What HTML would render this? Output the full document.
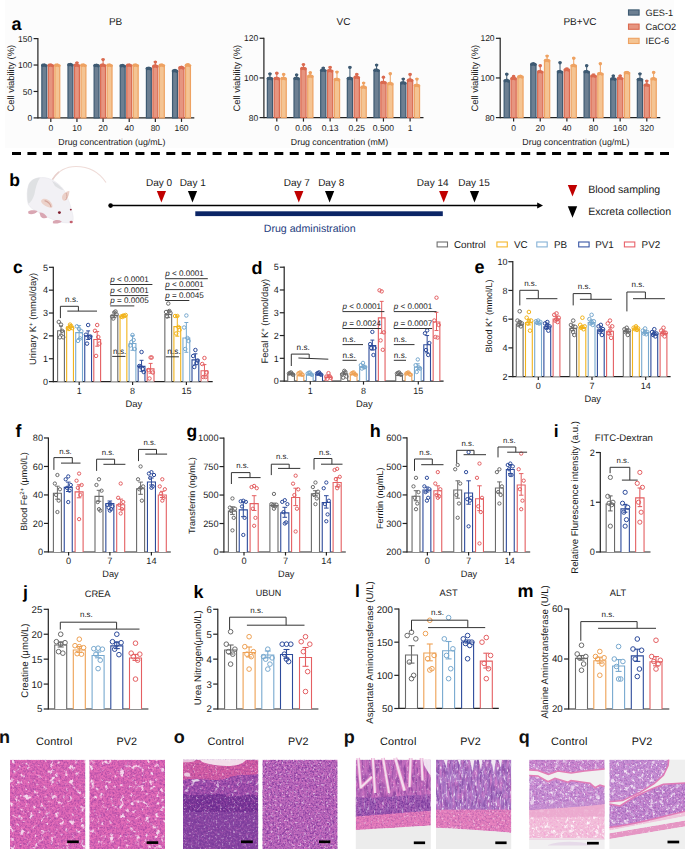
<!DOCTYPE html>
<html><head><meta charset="utf-8"><style>
html,body{margin:0;padding:0;background:#fff;width:685px;height:849px;overflow:hidden}
svg{display:block}
text{font-family:"Liberation Sans",sans-serif;text-rendering:geometricPrecision}
</style></head><body>
<svg width="685" height="849" viewBox="0 0 685 849">
<defs><filter id="tw" x="0" y="0" width="1" height="1" filterUnits="objectBoundingBox" color-interpolation-filters="sRGB"><feTurbulence type="fractalNoise" baseFrequency="0.30" numOctaves="2" seed="3"/><feColorMatrix type="matrix" values="0 0 0 0 1  0 0 0 0 1  0 0 0 0 1  4.0 0 0 0 -2.3"/></filter><filter id="tp" x="0" y="0" width="1" height="1" filterUnits="objectBoundingBox" color-interpolation-filters="sRGB"><feTurbulence type="fractalNoise" baseFrequency="0.38" numOctaves="2" seed="5"/><feColorMatrix type="matrix" values="0 0 0 0 0.42  0 0 0 0 0.16  0 0 0 0 0.58  3.0 0 0 0 -1.35"/></filter><filter id="tk" x="0" y="0" width="1" height="1" filterUnits="objectBoundingBox" color-interpolation-filters="sRGB"><feTurbulence type="fractalNoise" baseFrequency="0.28" numOctaves="2" seed="8"/><feColorMatrix type="matrix" values="0 0 0 0 0.93  0 0 0 0 0.45  0 0 0 0 0.75  3.0 0 0 0 -1.2"/></filter><filter id="tw2" x="0" y="0" width="1" height="1" filterUnits="objectBoundingBox" color-interpolation-filters="sRGB"><feTurbulence type="fractalNoise" baseFrequency="0.22 0.45" numOctaves="2" seed="9"/><feColorMatrix type="matrix" values="0 0 0 0 1  0 0 0 0 1  0 0 0 0 1  4.5 0 0 0 -2.6"/></filter><filter id="tp2" x="0" y="0" width="1" height="1" filterUnits="objectBoundingBox" color-interpolation-filters="sRGB"><feTurbulence type="fractalNoise" baseFrequency="0.42" numOctaves="2" seed="11"/><feColorMatrix type="matrix" values="0 0 0 0 0.42  0 0 0 0 0.15  0 0 0 0 0.58  3.2 0 0 0 -1.3"/></filter><filter id="nw" x="0" y="0" width="1" height="1" filterUnits="objectBoundingBox" color-interpolation-filters="sRGB"><feTurbulence type="fractalNoise" baseFrequency="0.2" numOctaves="3" seed="21"/><feColorMatrix type="matrix" values="0 0 0 0 1  0 0 0 0 1  0 0 0 0 1  6.0 0 0 0 -3.55"/></filter><filter id="np" x="0" y="0" width="1" height="1" filterUnits="objectBoundingBox" color-interpolation-filters="sRGB"><feTurbulence type="fractalNoise" baseFrequency="0.33" numOctaves="2" seed="23"/><feColorMatrix type="matrix" values="0 0 0 0 0.5  0 0 0 0 0.2  0 0 0 0 0.62  3.6 0 0 0 -1.6"/></filter><filter id="fp" x="0" y="0" width="1" height="1" filterUnits="objectBoundingBox" color-interpolation-filters="sRGB"><feTurbulence type="fractalNoise" baseFrequency="0.55" numOctaves="2" seed="31"/><feColorMatrix type="matrix" values="0 0 0 0 0.38  0 0 0 0 0.12  0 0 0 0 0.55  3.4 0 0 0 -1.5"/></filter><filter id="fw" x="0" y="0" width="1" height="1" filterUnits="objectBoundingBox" color-interpolation-filters="sRGB"><feTurbulence type="fractalNoise" baseFrequency="0.45" numOctaves="2" seed="33"/><feColorMatrix type="matrix" values="0 0 0 0 1  0 0 0 0 1  0 0 0 0 1  5.5 0 0 0 -3.3"/></filter><filter id="fk" x="0" y="0" width="1" height="1" filterUnits="objectBoundingBox" color-interpolation-filters="sRGB"><feTurbulence type="fractalNoise" baseFrequency="0.5" numOctaves="2" seed="35"/><feColorMatrix type="matrix" values="0 0 0 0 0.95  0 0 0 0 0.5  0 0 0 0 0.8  3.0 0 0 0 -1.3"/></filter><filter id="vp" x="0" y="0" width="1" height="1" filterUnits="objectBoundingBox" color-interpolation-filters="sRGB"><feTurbulence type="fractalNoise" baseFrequency="0.45 0.12" numOctaves="2" seed="41"/><feColorMatrix type="matrix" values="0 0 0 0 0.36  0 0 0 0 0.12  0 0 0 0 0.52  3.4 0 0 0 -1.5"/></filter><filter id="vk" x="0" y="0" width="1" height="1" filterUnits="objectBoundingBox" color-interpolation-filters="sRGB"><feTurbulence type="fractalNoise" baseFrequency="0.4 0.1" numOctaves="2" seed="43"/><feColorMatrix type="matrix" values="0 0 0 0 0.95  0 0 0 0 0.5  0 0 0 0 0.8  3.0 0 0 0 -1.3"/></filter><filter id="vw" x="0" y="0" width="1" height="1" filterUnits="objectBoundingBox" color-interpolation-filters="sRGB"><feTurbulence type="fractalNoise" baseFrequency="0.5 0.15" numOctaves="2" seed="45"/><feColorMatrix type="matrix" values="0 0 0 0 1  0 0 0 0 1  0 0 0 0 1  5.0 0 0 0 -3.0"/></filter></defs>
<rect x="0" y="0" width="685" height="849" fill="#fff"/><rect x="5" y="0" width="669" height="147.8" fill="#fcfcfc"/>
<text x="11.6" y="29.7" text-anchor="start" fill="#000" style="font-size:18px;font-weight:bold;" >a</text>
<line x1="37.9" y1="38" x2="37.9" y2="118.5" stroke="#222" stroke-width="1.2" />
<line x1="33.6" y1="38.6" x2="37.9" y2="38.6" stroke="#222" stroke-width="1.2" />
<text x="32.3" y="41.66" text-anchor="end" fill="#1a1a1a" style="font-size:8.5px;" >150</text>
<line x1="33.6" y1="65.03" x2="37.9" y2="65.03" stroke="#222" stroke-width="1.2" />
<text x="32.3" y="68.09" text-anchor="end" fill="#1a1a1a" style="font-size:8.5px;" >100</text>
<line x1="33.6" y1="91.47" x2="37.9" y2="91.47" stroke="#222" stroke-width="1.2" />
<text x="32.3" y="94.53" text-anchor="end" fill="#1a1a1a" style="font-size:8.5px;" >50</text>
<line x1="33.6" y1="117.9" x2="37.9" y2="117.9" stroke="#222" stroke-width="1.2" />
<text x="32.3" y="120.96" text-anchor="end" fill="#1a1a1a" style="font-size:8.5px;" >0</text>
<line x1="37.9" y1="117.9" x2="194.3" y2="117.9" stroke="#222" stroke-width="1.2" />
<line x1="50.8" y1="117.9" x2="50.8" y2="121.9" stroke="#222" stroke-width="1.2" />
<text x="50.8" y="131.1" text-anchor="middle" fill="#1a1a1a" style="font-size:8.5px;" >0</text>
<line x1="76.94" y1="117.9" x2="76.94" y2="121.9" stroke="#222" stroke-width="1.2" />
<text x="76.94" y="131.1" text-anchor="middle" fill="#1a1a1a" style="font-size:8.5px;" >10</text>
<line x1="103.08" y1="117.9" x2="103.08" y2="121.9" stroke="#222" stroke-width="1.2" />
<text x="103.08" y="131.1" text-anchor="middle" fill="#1a1a1a" style="font-size:8.5px;" >20</text>
<line x1="129.22" y1="117.9" x2="129.22" y2="121.9" stroke="#222" stroke-width="1.2" />
<text x="129.22" y="131.1" text-anchor="middle" fill="#1a1a1a" style="font-size:8.5px;" >40</text>
<line x1="155.36" y1="117.9" x2="155.36" y2="121.9" stroke="#222" stroke-width="1.2" />
<text x="155.36" y="131.1" text-anchor="middle" fill="#1a1a1a" style="font-size:8.5px;" >80</text>
<line x1="181.5" y1="117.9" x2="181.5" y2="121.9" stroke="#222" stroke-width="1.2" />
<text x="181.5" y="131.1" text-anchor="middle" fill="#1a1a1a" style="font-size:8.5px;" >160</text>
<rect x="41.85" y="65.6" width="4.9" height="52.3" fill="#6c7f92" stroke="#3e5a72" stroke-width="1.2" />
<circle cx="42.7" cy="65.3" r="1.7" fill="#3e5a72" stroke="none" stroke-width="1"/>
<circle cx="45.9" cy="65.6" r="1.7" fill="#3e5a72" stroke="none" stroke-width="1"/>
<circle cx="44.3" cy="64.9" r="1.7" fill="#3e5a72" stroke="none" stroke-width="1"/>
<rect x="48.35" y="65.6" width="4.9" height="52.3" fill="#e69580" stroke="#da6a50" stroke-width="1.2" />
<circle cx="49.2" cy="65.3" r="1.7" fill="#da6a50" stroke="none" stroke-width="1"/>
<circle cx="52.4" cy="65.6" r="1.7" fill="#da6a50" stroke="none" stroke-width="1"/>
<circle cx="50.8" cy="64.9" r="1.7" fill="#da6a50" stroke="none" stroke-width="1"/>
<rect x="54.85" y="65.6" width="4.9" height="52.3" fill="#f4c493" stroke="#eea262" stroke-width="1.2" />
<circle cx="55.7" cy="65.3" r="1.7" fill="#eea262" stroke="none" stroke-width="1"/>
<circle cx="58.9" cy="65.6" r="1.7" fill="#eea262" stroke="none" stroke-width="1"/>
<circle cx="57.3" cy="64.9" r="1.7" fill="#eea262" stroke="none" stroke-width="1"/>
<rect x="67.99" y="65.1" width="4.9" height="52.8" fill="#6c7f92" stroke="#3e5a72" stroke-width="1.2" />
<line x1="70.44" y1="63.9" x2="70.44" y2="64.5" stroke="#3e5a72" stroke-width="1" />
<line x1="68.84" y1="63.9" x2="72.04" y2="63.9" stroke="#3e5a72" stroke-width="1" />
<circle cx="68.84" cy="64.8" r="1.7" fill="#3e5a72" stroke="none" stroke-width="1"/>
<circle cx="72.04" cy="65.1" r="1.7" fill="#3e5a72" stroke="none" stroke-width="1"/>
<circle cx="70.44" cy="64.4" r="1.7" fill="#3e5a72" stroke="none" stroke-width="1"/>
<rect x="74.49" y="65.6" width="4.9" height="52.3" fill="#e69580" stroke="#da6a50" stroke-width="1.2" />
<line x1="76.94" y1="62.5" x2="76.94" y2="65" stroke="#da6a50" stroke-width="1" />
<line x1="75.34" y1="62.5" x2="78.54" y2="62.5" stroke="#da6a50" stroke-width="1" />
<circle cx="75.34" cy="65.3" r="1.7" fill="#da6a50" stroke="none" stroke-width="1"/>
<circle cx="78.54" cy="65.6" r="1.7" fill="#da6a50" stroke="none" stroke-width="1"/>
<circle cx="76.94" cy="64.9" r="1.7" fill="#da6a50" stroke="none" stroke-width="1"/>
<circle cx="76.94" cy="62.9" r="1.7" fill="#da6a50" stroke="none" stroke-width="1"/>
<rect x="80.99" y="65.6" width="4.9" height="52.3" fill="#f4c493" stroke="#eea262" stroke-width="1.2" />
<line x1="83.44" y1="64.4" x2="83.44" y2="65" stroke="#eea262" stroke-width="1" />
<line x1="81.84" y1="64.4" x2="85.04" y2="64.4" stroke="#eea262" stroke-width="1" />
<circle cx="81.84" cy="65.3" r="1.7" fill="#eea262" stroke="none" stroke-width="1"/>
<circle cx="85.04" cy="65.6" r="1.7" fill="#eea262" stroke="none" stroke-width="1"/>
<circle cx="83.44" cy="64.9" r="1.7" fill="#eea262" stroke="none" stroke-width="1"/>
<rect x="94.13" y="65.8" width="4.9" height="52.1" fill="#6c7f92" stroke="#3e5a72" stroke-width="1.2" />
<circle cx="94.98" cy="65.5" r="1.7" fill="#3e5a72" stroke="none" stroke-width="1"/>
<circle cx="98.18" cy="65.8" r="1.7" fill="#3e5a72" stroke="none" stroke-width="1"/>
<circle cx="96.58" cy="65.1" r="1.7" fill="#3e5a72" stroke="none" stroke-width="1"/>
<rect x="100.63" y="65.6" width="4.9" height="52.3" fill="#e69580" stroke="#da6a50" stroke-width="1.2" />
<line x1="103.08" y1="59.2" x2="103.08" y2="65" stroke="#da6a50" stroke-width="1" />
<line x1="101.48" y1="59.2" x2="104.68" y2="59.2" stroke="#da6a50" stroke-width="1" />
<circle cx="101.48" cy="65.3" r="1.7" fill="#da6a50" stroke="none" stroke-width="1"/>
<circle cx="104.68" cy="65.6" r="1.7" fill="#da6a50" stroke="none" stroke-width="1"/>
<circle cx="103.08" cy="64.9" r="1.7" fill="#da6a50" stroke="none" stroke-width="1"/>
<circle cx="103.08" cy="59.6" r="1.7" fill="#da6a50" stroke="none" stroke-width="1"/>
<rect x="107.13" y="65.6" width="4.9" height="52.3" fill="#f4c493" stroke="#eea262" stroke-width="1.2" />
<circle cx="107.98" cy="65.3" r="1.7" fill="#eea262" stroke="none" stroke-width="1"/>
<circle cx="111.18" cy="65.6" r="1.7" fill="#eea262" stroke="none" stroke-width="1"/>
<circle cx="109.58" cy="64.9" r="1.7" fill="#eea262" stroke="none" stroke-width="1"/>
<rect x="120.27" y="66.1" width="4.9" height="51.8" fill="#6c7f92" stroke="#3e5a72" stroke-width="1.2" />
<circle cx="121.12" cy="65.8" r="1.7" fill="#3e5a72" stroke="none" stroke-width="1"/>
<circle cx="124.32" cy="66.1" r="1.7" fill="#3e5a72" stroke="none" stroke-width="1"/>
<circle cx="122.72" cy="65.4" r="1.7" fill="#3e5a72" stroke="none" stroke-width="1"/>
<rect x="126.77" y="65.6" width="4.9" height="52.3" fill="#e69580" stroke="#da6a50" stroke-width="1.2" />
<circle cx="127.62" cy="65.3" r="1.7" fill="#da6a50" stroke="none" stroke-width="1"/>
<circle cx="130.82" cy="65.6" r="1.7" fill="#da6a50" stroke="none" stroke-width="1"/>
<circle cx="129.22" cy="64.9" r="1.7" fill="#da6a50" stroke="none" stroke-width="1"/>
<rect x="133.27" y="65.6" width="4.9" height="52.3" fill="#f4c493" stroke="#eea262" stroke-width="1.2" />
<circle cx="134.12" cy="65.3" r="1.7" fill="#eea262" stroke="none" stroke-width="1"/>
<circle cx="137.32" cy="65.6" r="1.7" fill="#eea262" stroke="none" stroke-width="1"/>
<circle cx="135.72" cy="64.9" r="1.7" fill="#eea262" stroke="none" stroke-width="1"/>
<rect x="146.41" y="68.8" width="4.9" height="49.1" fill="#6c7f92" stroke="#3e5a72" stroke-width="1.2" />
<line x1="148.86" y1="67.5" x2="148.86" y2="68.2" stroke="#3e5a72" stroke-width="1" />
<line x1="147.26" y1="67.5" x2="150.46" y2="67.5" stroke="#3e5a72" stroke-width="1" />
<circle cx="147.26" cy="68.5" r="1.7" fill="#3e5a72" stroke="none" stroke-width="1"/>
<circle cx="150.46" cy="68.8" r="1.7" fill="#3e5a72" stroke="none" stroke-width="1"/>
<circle cx="148.86" cy="68.1" r="1.7" fill="#3e5a72" stroke="none" stroke-width="1"/>
<rect x="152.91" y="66.5" width="4.9" height="51.4" fill="#e69580" stroke="#da6a50" stroke-width="1.2" />
<line x1="155.36" y1="61.7" x2="155.36" y2="65.9" stroke="#da6a50" stroke-width="1" />
<line x1="153.76" y1="61.7" x2="156.96" y2="61.7" stroke="#da6a50" stroke-width="1" />
<circle cx="153.76" cy="66.2" r="1.7" fill="#da6a50" stroke="none" stroke-width="1"/>
<circle cx="156.96" cy="66.5" r="1.7" fill="#da6a50" stroke="none" stroke-width="1"/>
<circle cx="155.36" cy="65.8" r="1.7" fill="#da6a50" stroke="none" stroke-width="1"/>
<circle cx="155.36" cy="62.1" r="1.7" fill="#da6a50" stroke="none" stroke-width="1"/>
<rect x="159.41" y="65.6" width="4.9" height="52.3" fill="#f4c493" stroke="#eea262" stroke-width="1.2" />
<circle cx="160.26" cy="65.3" r="1.7" fill="#eea262" stroke="none" stroke-width="1"/>
<circle cx="163.46" cy="65.6" r="1.7" fill="#eea262" stroke="none" stroke-width="1"/>
<circle cx="161.86" cy="64.9" r="1.7" fill="#eea262" stroke="none" stroke-width="1"/>
<rect x="172.55" y="71.2" width="4.9" height="46.7" fill="#6c7f92" stroke="#3e5a72" stroke-width="1.2" />
<line x1="175" y1="69.8" x2="175" y2="70.6" stroke="#3e5a72" stroke-width="1" />
<line x1="173.4" y1="69.8" x2="176.6" y2="69.8" stroke="#3e5a72" stroke-width="1" />
<circle cx="173.4" cy="70.9" r="1.7" fill="#3e5a72" stroke="none" stroke-width="1"/>
<circle cx="176.6" cy="71.2" r="1.7" fill="#3e5a72" stroke="none" stroke-width="1"/>
<circle cx="175" cy="70.5" r="1.7" fill="#3e5a72" stroke="none" stroke-width="1"/>
<rect x="179.05" y="68" width="4.9" height="49.9" fill="#e69580" stroke="#da6a50" stroke-width="1.2" />
<line x1="181.5" y1="66.5" x2="181.5" y2="67.4" stroke="#da6a50" stroke-width="1" />
<line x1="179.9" y1="66.5" x2="183.1" y2="66.5" stroke="#da6a50" stroke-width="1" />
<circle cx="179.9" cy="67.7" r="1.7" fill="#da6a50" stroke="none" stroke-width="1"/>
<circle cx="183.1" cy="68" r="1.7" fill="#da6a50" stroke="none" stroke-width="1"/>
<circle cx="181.5" cy="67.3" r="1.7" fill="#da6a50" stroke="none" stroke-width="1"/>
<rect x="185.55" y="65.6" width="4.9" height="52.3" fill="#f4c493" stroke="#eea262" stroke-width="1.2" />
<line x1="188" y1="63.8" x2="188" y2="65" stroke="#eea262" stroke-width="1" />
<line x1="186.4" y1="63.8" x2="189.6" y2="63.8" stroke="#eea262" stroke-width="1" />
<circle cx="186.4" cy="65.3" r="1.7" fill="#eea262" stroke="none" stroke-width="1"/>
<circle cx="189.6" cy="65.6" r="1.7" fill="#eea262" stroke="none" stroke-width="1"/>
<circle cx="188" cy="64.9" r="1.7" fill="#eea262" stroke="none" stroke-width="1"/>
<text x="115.6" y="24.7" text-anchor="middle" fill="#1a1a1a" style="font-size:10px;" >PB</text>
<text x="111.9" y="144.6" text-anchor="middle" fill="#1a1a1a" style="font-size:8.8px;" >Drug concentration (ug/mL)</text>
<text transform="translate(14.3,78.2) rotate(-90)" text-anchor="middle" fill="#1a1a1a" style="font-size:9.4px;" >Cell viability (%)</text>
<line x1="263.9" y1="37.7" x2="263.9" y2="118.2" stroke="#222" stroke-width="1.2" />
<line x1="259.6" y1="38.3" x2="263.9" y2="38.3" stroke="#222" stroke-width="1.2" />
<text x="258.3" y="41.36" text-anchor="end" fill="#1a1a1a" style="font-size:8.5px;" >120</text>
<line x1="259.6" y1="77.95" x2="263.9" y2="77.95" stroke="#222" stroke-width="1.2" />
<text x="258.3" y="81.01" text-anchor="end" fill="#1a1a1a" style="font-size:8.5px;" >100</text>
<line x1="259.6" y1="117.6" x2="263.9" y2="117.6" stroke="#222" stroke-width="1.2" />
<text x="258.3" y="120.66" text-anchor="end" fill="#1a1a1a" style="font-size:8.5px;" >80</text>
<line x1="263.9" y1="117.6" x2="423.5" y2="117.6" stroke="#222" stroke-width="1.2" />
<line x1="276.8" y1="117.6" x2="276.8" y2="121.6" stroke="#222" stroke-width="1.2" />
<text x="276.8" y="130.8" text-anchor="middle" fill="#1a1a1a" style="font-size:8.5px;" >0</text>
<line x1="303.46" y1="117.6" x2="303.46" y2="121.6" stroke="#222" stroke-width="1.2" />
<text x="303.46" y="130.8" text-anchor="middle" fill="#1a1a1a" style="font-size:8.5px;" >0.06</text>
<line x1="330.12" y1="117.6" x2="330.12" y2="121.6" stroke="#222" stroke-width="1.2" />
<text x="330.12" y="130.8" text-anchor="middle" fill="#1a1a1a" style="font-size:8.5px;" >0.13</text>
<line x1="356.78" y1="117.6" x2="356.78" y2="121.6" stroke="#222" stroke-width="1.2" />
<text x="356.78" y="130.8" text-anchor="middle" fill="#1a1a1a" style="font-size:8.5px;" >0.25</text>
<line x1="383.44" y1="117.6" x2="383.44" y2="121.6" stroke="#222" stroke-width="1.2" />
<text x="383.44" y="130.8" text-anchor="middle" fill="#1a1a1a" style="font-size:8.5px;" >0.500</text>
<line x1="410.1" y1="117.6" x2="410.1" y2="121.6" stroke="#222" stroke-width="1.2" />
<text x="410.1" y="130.8" text-anchor="middle" fill="#1a1a1a" style="font-size:8.5px;" >1</text>
<rect x="267.35" y="78.8" width="5.2" height="38.8" fill="#6c7f92" stroke="#3e5a72" stroke-width="1.2" />
<line x1="269.95" y1="73.6" x2="269.95" y2="78.2" stroke="#3e5a72" stroke-width="1" />
<line x1="268.35" y1="73.6" x2="271.55" y2="73.6" stroke="#3e5a72" stroke-width="1" />
<circle cx="268.35" cy="78.5" r="1.7" fill="#3e5a72" stroke="none" stroke-width="1"/>
<circle cx="271.55" cy="78.8" r="1.7" fill="#3e5a72" stroke="none" stroke-width="1"/>
<circle cx="269.95" cy="78.1" r="1.7" fill="#3e5a72" stroke="none" stroke-width="1"/>
<circle cx="269.95" cy="74" r="1.7" fill="#3e5a72" stroke="none" stroke-width="1"/>
<rect x="274.2" y="78.8" width="5.2" height="38.8" fill="#e69580" stroke="#da6a50" stroke-width="1.2" />
<line x1="276.8" y1="72.9" x2="276.8" y2="78.2" stroke="#da6a50" stroke-width="1" />
<line x1="275.2" y1="72.9" x2="278.4" y2="72.9" stroke="#da6a50" stroke-width="1" />
<circle cx="275.2" cy="78.5" r="1.7" fill="#da6a50" stroke="none" stroke-width="1"/>
<circle cx="278.4" cy="78.8" r="1.7" fill="#da6a50" stroke="none" stroke-width="1"/>
<circle cx="276.8" cy="78.1" r="1.7" fill="#da6a50" stroke="none" stroke-width="1"/>
<circle cx="276.8" cy="73.3" r="1.7" fill="#da6a50" stroke="none" stroke-width="1"/>
<rect x="281.05" y="78.8" width="5.2" height="38.8" fill="#f4c493" stroke="#eea262" stroke-width="1.2" />
<line x1="283.65" y1="74" x2="283.65" y2="78.2" stroke="#eea262" stroke-width="1" />
<line x1="282.05" y1="74" x2="285.25" y2="74" stroke="#eea262" stroke-width="1" />
<circle cx="282.05" cy="78.5" r="1.7" fill="#eea262" stroke="none" stroke-width="1"/>
<circle cx="285.25" cy="78.8" r="1.7" fill="#eea262" stroke="none" stroke-width="1"/>
<circle cx="283.65" cy="78.1" r="1.7" fill="#eea262" stroke="none" stroke-width="1"/>
<circle cx="283.65" cy="74.4" r="1.7" fill="#eea262" stroke="none" stroke-width="1"/>
<rect x="294.01" y="78.8" width="5.2" height="38.8" fill="#6c7f92" stroke="#3e5a72" stroke-width="1.2" />
<line x1="296.61" y1="74.5" x2="296.61" y2="78.2" stroke="#3e5a72" stroke-width="1" />
<line x1="295.01" y1="74.5" x2="298.21" y2="74.5" stroke="#3e5a72" stroke-width="1" />
<circle cx="295.01" cy="78.5" r="1.7" fill="#3e5a72" stroke="none" stroke-width="1"/>
<circle cx="298.21" cy="78.8" r="1.7" fill="#3e5a72" stroke="none" stroke-width="1"/>
<circle cx="296.61" cy="78.1" r="1.7" fill="#3e5a72" stroke="none" stroke-width="1"/>
<circle cx="296.61" cy="74.9" r="1.7" fill="#3e5a72" stroke="none" stroke-width="1"/>
<rect x="300.86" y="68.8" width="5.2" height="48.8" fill="#e69580" stroke="#da6a50" stroke-width="1.2" />
<line x1="303.46" y1="64.2" x2="303.46" y2="68.2" stroke="#da6a50" stroke-width="1" />
<line x1="301.86" y1="64.2" x2="305.06" y2="64.2" stroke="#da6a50" stroke-width="1" />
<circle cx="301.86" cy="68.5" r="1.7" fill="#da6a50" stroke="none" stroke-width="1"/>
<circle cx="305.06" cy="68.8" r="1.7" fill="#da6a50" stroke="none" stroke-width="1"/>
<circle cx="303.46" cy="68.1" r="1.7" fill="#da6a50" stroke="none" stroke-width="1"/>
<circle cx="303.46" cy="64.6" r="1.7" fill="#da6a50" stroke="none" stroke-width="1"/>
<rect x="307.71" y="76.5" width="5.2" height="41.1" fill="#f4c493" stroke="#eea262" stroke-width="1.2" />
<line x1="310.31" y1="72.4" x2="310.31" y2="75.9" stroke="#eea262" stroke-width="1" />
<line x1="308.71" y1="72.4" x2="311.91" y2="72.4" stroke="#eea262" stroke-width="1" />
<circle cx="308.71" cy="76.2" r="1.7" fill="#eea262" stroke="none" stroke-width="1"/>
<circle cx="311.91" cy="76.5" r="1.7" fill="#eea262" stroke="none" stroke-width="1"/>
<circle cx="310.31" cy="75.8" r="1.7" fill="#eea262" stroke="none" stroke-width="1"/>
<circle cx="310.31" cy="72.8" r="1.7" fill="#eea262" stroke="none" stroke-width="1"/>
<rect x="320.67" y="70.6" width="5.2" height="47" fill="#6c7f92" stroke="#3e5a72" stroke-width="1.2" />
<line x1="323.27" y1="67.7" x2="323.27" y2="70" stroke="#3e5a72" stroke-width="1" />
<line x1="321.67" y1="67.7" x2="324.87" y2="67.7" stroke="#3e5a72" stroke-width="1" />
<circle cx="321.67" cy="70.3" r="1.7" fill="#3e5a72" stroke="none" stroke-width="1"/>
<circle cx="324.87" cy="70.6" r="1.7" fill="#3e5a72" stroke="none" stroke-width="1"/>
<circle cx="323.27" cy="69.9" r="1.7" fill="#3e5a72" stroke="none" stroke-width="1"/>
<circle cx="323.27" cy="68.1" r="1.7" fill="#3e5a72" stroke="none" stroke-width="1"/>
<rect x="327.52" y="71.1" width="5.2" height="46.5" fill="#e69580" stroke="#da6a50" stroke-width="1.2" />
<line x1="330.12" y1="67" x2="330.12" y2="70.5" stroke="#da6a50" stroke-width="1" />
<line x1="328.52" y1="67" x2="331.72" y2="67" stroke="#da6a50" stroke-width="1" />
<circle cx="328.52" cy="70.8" r="1.7" fill="#da6a50" stroke="none" stroke-width="1"/>
<circle cx="331.72" cy="71.1" r="1.7" fill="#da6a50" stroke="none" stroke-width="1"/>
<circle cx="330.12" cy="70.4" r="1.7" fill="#da6a50" stroke="none" stroke-width="1"/>
<circle cx="330.12" cy="67.4" r="1.7" fill="#da6a50" stroke="none" stroke-width="1"/>
<rect x="334.37" y="79.8" width="5.2" height="37.8" fill="#f4c493" stroke="#eea262" stroke-width="1.2" />
<line x1="336.97" y1="71.7" x2="336.97" y2="79.2" stroke="#eea262" stroke-width="1" />
<line x1="335.37" y1="71.7" x2="338.57" y2="71.7" stroke="#eea262" stroke-width="1" />
<circle cx="335.37" cy="79.5" r="1.7" fill="#eea262" stroke="none" stroke-width="1"/>
<circle cx="338.57" cy="79.8" r="1.7" fill="#eea262" stroke="none" stroke-width="1"/>
<circle cx="336.97" cy="79.1" r="1.7" fill="#eea262" stroke="none" stroke-width="1"/>
<circle cx="336.97" cy="72.1" r="1.7" fill="#eea262" stroke="none" stroke-width="1"/>
<rect x="347.33" y="78.8" width="5.2" height="38.8" fill="#6c7f92" stroke="#3e5a72" stroke-width="1.2" />
<line x1="349.93" y1="67" x2="349.93" y2="78.2" stroke="#3e5a72" stroke-width="1" />
<line x1="348.33" y1="67" x2="351.53" y2="67" stroke="#3e5a72" stroke-width="1" />
<circle cx="348.33" cy="78.5" r="1.7" fill="#3e5a72" stroke="none" stroke-width="1"/>
<circle cx="351.53" cy="78.8" r="1.7" fill="#3e5a72" stroke="none" stroke-width="1"/>
<circle cx="349.93" cy="78.1" r="1.7" fill="#3e5a72" stroke="none" stroke-width="1"/>
<circle cx="349.93" cy="67.4" r="1.7" fill="#3e5a72" stroke="none" stroke-width="1"/>
<rect x="354.18" y="77.6" width="5.2" height="40" fill="#e69580" stroke="#da6a50" stroke-width="1.2" />
<line x1="356.78" y1="74" x2="356.78" y2="77" stroke="#da6a50" stroke-width="1" />
<line x1="355.18" y1="74" x2="358.38" y2="74" stroke="#da6a50" stroke-width="1" />
<circle cx="355.18" cy="77.3" r="1.7" fill="#da6a50" stroke="none" stroke-width="1"/>
<circle cx="358.38" cy="77.6" r="1.7" fill="#da6a50" stroke="none" stroke-width="1"/>
<circle cx="356.78" cy="76.9" r="1.7" fill="#da6a50" stroke="none" stroke-width="1"/>
<circle cx="356.78" cy="74.4" r="1.7" fill="#da6a50" stroke="none" stroke-width="1"/>
<rect x="361.03" y="87.5" width="5.2" height="30.1" fill="#f4c493" stroke="#eea262" stroke-width="1.2" />
<line x1="363.63" y1="82.7" x2="363.63" y2="86.9" stroke="#eea262" stroke-width="1" />
<line x1="362.03" y1="82.7" x2="365.23" y2="82.7" stroke="#eea262" stroke-width="1" />
<circle cx="362.03" cy="87.2" r="1.7" fill="#eea262" stroke="none" stroke-width="1"/>
<circle cx="365.23" cy="87.5" r="1.7" fill="#eea262" stroke="none" stroke-width="1"/>
<circle cx="363.63" cy="86.8" r="1.7" fill="#eea262" stroke="none" stroke-width="1"/>
<circle cx="363.63" cy="83.1" r="1.7" fill="#eea262" stroke="none" stroke-width="1"/>
<rect x="373.99" y="70.6" width="5.2" height="47" fill="#6c7f92" stroke="#3e5a72" stroke-width="1.2" />
<line x1="376.59" y1="64.7" x2="376.59" y2="70" stroke="#3e5a72" stroke-width="1" />
<line x1="374.99" y1="64.7" x2="378.19" y2="64.7" stroke="#3e5a72" stroke-width="1" />
<circle cx="374.99" cy="70.3" r="1.7" fill="#3e5a72" stroke="none" stroke-width="1"/>
<circle cx="378.19" cy="70.6" r="1.7" fill="#3e5a72" stroke="none" stroke-width="1"/>
<circle cx="376.59" cy="69.9" r="1.7" fill="#3e5a72" stroke="none" stroke-width="1"/>
<circle cx="376.59" cy="65.1" r="1.7" fill="#3e5a72" stroke="none" stroke-width="1"/>
<rect x="380.84" y="82.8" width="5.2" height="34.8" fill="#e69580" stroke="#da6a50" stroke-width="1.2" />
<line x1="383.44" y1="76.8" x2="383.44" y2="82.2" stroke="#da6a50" stroke-width="1" />
<line x1="381.84" y1="76.8" x2="385.04" y2="76.8" stroke="#da6a50" stroke-width="1" />
<circle cx="381.84" cy="82.5" r="1.7" fill="#da6a50" stroke="none" stroke-width="1"/>
<circle cx="385.04" cy="82.8" r="1.7" fill="#da6a50" stroke="none" stroke-width="1"/>
<circle cx="383.44" cy="82.1" r="1.7" fill="#da6a50" stroke="none" stroke-width="1"/>
<circle cx="383.44" cy="77.2" r="1.7" fill="#da6a50" stroke="none" stroke-width="1"/>
<rect x="387.69" y="84" width="5.2" height="33.6" fill="#f4c493" stroke="#eea262" stroke-width="1.2" />
<line x1="390.29" y1="73.3" x2="390.29" y2="83.4" stroke="#eea262" stroke-width="1" />
<line x1="388.69" y1="73.3" x2="391.89" y2="73.3" stroke="#eea262" stroke-width="1" />
<circle cx="388.69" cy="83.7" r="1.7" fill="#eea262" stroke="none" stroke-width="1"/>
<circle cx="391.89" cy="84" r="1.7" fill="#eea262" stroke="none" stroke-width="1"/>
<circle cx="390.29" cy="83.3" r="1.7" fill="#eea262" stroke="none" stroke-width="1"/>
<circle cx="390.29" cy="73.7" r="1.7" fill="#eea262" stroke="none" stroke-width="1"/>
<rect x="400.65" y="83.3" width="5.2" height="34.3" fill="#6c7f92" stroke="#3e5a72" stroke-width="1.2" />
<line x1="403.25" y1="78.7" x2="403.25" y2="82.7" stroke="#3e5a72" stroke-width="1" />
<line x1="401.65" y1="78.7" x2="404.85" y2="78.7" stroke="#3e5a72" stroke-width="1" />
<circle cx="401.65" cy="83" r="1.7" fill="#3e5a72" stroke="none" stroke-width="1"/>
<circle cx="404.85" cy="83.3" r="1.7" fill="#3e5a72" stroke="none" stroke-width="1"/>
<circle cx="403.25" cy="82.6" r="1.7" fill="#3e5a72" stroke="none" stroke-width="1"/>
<circle cx="403.25" cy="79.1" r="1.7" fill="#3e5a72" stroke="none" stroke-width="1"/>
<rect x="407.5" y="80.5" width="5.2" height="37.1" fill="#e69580" stroke="#da6a50" stroke-width="1.2" />
<line x1="410.1" y1="74" x2="410.1" y2="79.9" stroke="#da6a50" stroke-width="1" />
<line x1="408.5" y1="74" x2="411.7" y2="74" stroke="#da6a50" stroke-width="1" />
<circle cx="408.5" cy="80.2" r="1.7" fill="#da6a50" stroke="none" stroke-width="1"/>
<circle cx="411.7" cy="80.5" r="1.7" fill="#da6a50" stroke="none" stroke-width="1"/>
<circle cx="410.1" cy="79.8" r="1.7" fill="#da6a50" stroke="none" stroke-width="1"/>
<circle cx="410.1" cy="74.4" r="1.7" fill="#da6a50" stroke="none" stroke-width="1"/>
<rect x="414.35" y="85.8" width="5.2" height="31.8" fill="#f4c493" stroke="#eea262" stroke-width="1.2" />
<line x1="416.95" y1="78.7" x2="416.95" y2="85.2" stroke="#eea262" stroke-width="1" />
<line x1="415.35" y1="78.7" x2="418.55" y2="78.7" stroke="#eea262" stroke-width="1" />
<circle cx="415.35" cy="85.5" r="1.7" fill="#eea262" stroke="none" stroke-width="1"/>
<circle cx="418.55" cy="85.8" r="1.7" fill="#eea262" stroke="none" stroke-width="1"/>
<circle cx="416.95" cy="85.1" r="1.7" fill="#eea262" stroke="none" stroke-width="1"/>
<circle cx="416.95" cy="79.1" r="1.7" fill="#eea262" stroke="none" stroke-width="1"/>
<text x="343.5" y="24.7" text-anchor="middle" fill="#1a1a1a" style="font-size:10px;" >VC</text>
<text x="339.5" y="144.6" text-anchor="middle" fill="#1a1a1a" style="font-size:8.8px;" >Drug concentration (mM)</text>
<text transform="translate(240.2,78.2) rotate(-90)" text-anchor="middle" fill="#1a1a1a" style="font-size:9.4px;" >Cell viability (%)</text>
<line x1="500.2" y1="37.7" x2="500.2" y2="118.2" stroke="#222" stroke-width="1.2" />
<line x1="495.9" y1="38.3" x2="500.2" y2="38.3" stroke="#222" stroke-width="1.2" />
<text x="494.6" y="41.36" text-anchor="end" fill="#1a1a1a" style="font-size:8.5px;" >120</text>
<line x1="495.9" y1="77.95" x2="500.2" y2="77.95" stroke="#222" stroke-width="1.2" />
<text x="494.6" y="81.01" text-anchor="end" fill="#1a1a1a" style="font-size:8.5px;" >100</text>
<line x1="495.9" y1="117.6" x2="500.2" y2="117.6" stroke="#222" stroke-width="1.2" />
<text x="494.6" y="120.66" text-anchor="end" fill="#1a1a1a" style="font-size:8.5px;" >80</text>
<line x1="500.2" y1="117.6" x2="660.3" y2="117.6" stroke="#222" stroke-width="1.2" />
<line x1="513.6" y1="117.6" x2="513.6" y2="121.6" stroke="#222" stroke-width="1.2" />
<text x="513.6" y="130.8" text-anchor="middle" fill="#1a1a1a" style="font-size:8.5px;" >0</text>
<line x1="540.24" y1="117.6" x2="540.24" y2="121.6" stroke="#222" stroke-width="1.2" />
<text x="540.24" y="130.8" text-anchor="middle" fill="#1a1a1a" style="font-size:8.5px;" >20</text>
<line x1="566.88" y1="117.6" x2="566.88" y2="121.6" stroke="#222" stroke-width="1.2" />
<text x="566.88" y="130.8" text-anchor="middle" fill="#1a1a1a" style="font-size:8.5px;" >40</text>
<line x1="593.52" y1="117.6" x2="593.52" y2="121.6" stroke="#222" stroke-width="1.2" />
<text x="593.52" y="130.8" text-anchor="middle" fill="#1a1a1a" style="font-size:8.5px;" >80</text>
<line x1="620.16" y1="117.6" x2="620.16" y2="121.6" stroke="#222" stroke-width="1.2" />
<text x="620.16" y="130.8" text-anchor="middle" fill="#1a1a1a" style="font-size:8.5px;" >160</text>
<line x1="646.8" y1="117.6" x2="646.8" y2="121.6" stroke="#222" stroke-width="1.2" />
<text x="646.8" y="130.8" text-anchor="middle" fill="#1a1a1a" style="font-size:8.5px;" >320</text>
<rect x="504.15" y="81" width="5.2" height="36.6" fill="#6c7f92" stroke="#3e5a72" stroke-width="1.2" />
<line x1="506.75" y1="73.8" x2="506.75" y2="80.4" stroke="#3e5a72" stroke-width="1" />
<line x1="505.15" y1="73.8" x2="508.35" y2="73.8" stroke="#3e5a72" stroke-width="1" />
<circle cx="505.15" cy="80.7" r="1.7" fill="#3e5a72" stroke="none" stroke-width="1"/>
<circle cx="508.35" cy="81" r="1.7" fill="#3e5a72" stroke="none" stroke-width="1"/>
<circle cx="506.75" cy="80.3" r="1.7" fill="#3e5a72" stroke="none" stroke-width="1"/>
<circle cx="506.75" cy="74.2" r="1.7" fill="#3e5a72" stroke="none" stroke-width="1"/>
<rect x="511" y="78.8" width="5.2" height="38.8" fill="#e69580" stroke="#da6a50" stroke-width="1.2" />
<line x1="513.6" y1="76" x2="513.6" y2="78.2" stroke="#da6a50" stroke-width="1" />
<line x1="512" y1="76" x2="515.2" y2="76" stroke="#da6a50" stroke-width="1" />
<circle cx="512" cy="78.5" r="1.7" fill="#da6a50" stroke="none" stroke-width="1"/>
<circle cx="515.2" cy="78.8" r="1.7" fill="#da6a50" stroke="none" stroke-width="1"/>
<circle cx="513.6" cy="78.1" r="1.7" fill="#da6a50" stroke="none" stroke-width="1"/>
<circle cx="513.6" cy="76.4" r="1.7" fill="#da6a50" stroke="none" stroke-width="1"/>
<rect x="517.85" y="77" width="5.2" height="40.6" fill="#f4c493" stroke="#eea262" stroke-width="1.2" />
<line x1="520.45" y1="75.5" x2="520.45" y2="76.4" stroke="#eea262" stroke-width="1" />
<line x1="518.85" y1="75.5" x2="522.05" y2="75.5" stroke="#eea262" stroke-width="1" />
<circle cx="518.85" cy="76.7" r="1.7" fill="#eea262" stroke="none" stroke-width="1"/>
<circle cx="522.05" cy="77" r="1.7" fill="#eea262" stroke="none" stroke-width="1"/>
<circle cx="520.45" cy="76.3" r="1.7" fill="#eea262" stroke="none" stroke-width="1"/>
<rect x="530.79" y="64.5" width="5.2" height="53.1" fill="#6c7f92" stroke="#3e5a72" stroke-width="1.2" />
<line x1="533.39" y1="63.3" x2="533.39" y2="63.9" stroke="#3e5a72" stroke-width="1" />
<line x1="531.79" y1="63.3" x2="534.99" y2="63.3" stroke="#3e5a72" stroke-width="1" />
<circle cx="531.79" cy="64.2" r="1.7" fill="#3e5a72" stroke="none" stroke-width="1"/>
<circle cx="534.99" cy="64.5" r="1.7" fill="#3e5a72" stroke="none" stroke-width="1"/>
<circle cx="533.39" cy="63.8" r="1.7" fill="#3e5a72" stroke="none" stroke-width="1"/>
<rect x="537.64" y="72.1" width="5.2" height="45.5" fill="#e69580" stroke="#da6a50" stroke-width="1.2" />
<line x1="540.24" y1="65.3" x2="540.24" y2="71.5" stroke="#da6a50" stroke-width="1" />
<line x1="538.64" y1="65.3" x2="541.84" y2="65.3" stroke="#da6a50" stroke-width="1" />
<circle cx="538.64" cy="71.8" r="1.7" fill="#da6a50" stroke="none" stroke-width="1"/>
<circle cx="541.84" cy="72.1" r="1.7" fill="#da6a50" stroke="none" stroke-width="1"/>
<circle cx="540.24" cy="71.4" r="1.7" fill="#da6a50" stroke="none" stroke-width="1"/>
<circle cx="540.24" cy="65.7" r="1.7" fill="#da6a50" stroke="none" stroke-width="1"/>
<rect x="544.49" y="60.8" width="5.2" height="56.8" fill="#f4c493" stroke="#eea262" stroke-width="1.2" />
<line x1="547.09" y1="55.7" x2="547.09" y2="60.2" stroke="#eea262" stroke-width="1" />
<line x1="545.49" y1="55.7" x2="548.69" y2="55.7" stroke="#eea262" stroke-width="1" />
<circle cx="545.49" cy="60.5" r="1.7" fill="#eea262" stroke="none" stroke-width="1"/>
<circle cx="548.69" cy="60.8" r="1.7" fill="#eea262" stroke="none" stroke-width="1"/>
<circle cx="547.09" cy="60.1" r="1.7" fill="#eea262" stroke="none" stroke-width="1"/>
<circle cx="547.09" cy="56.1" r="1.7" fill="#eea262" stroke="none" stroke-width="1"/>
<rect x="557.43" y="72.1" width="5.2" height="45.5" fill="#6c7f92" stroke="#3e5a72" stroke-width="1.2" />
<line x1="560.03" y1="62.3" x2="560.03" y2="71.5" stroke="#3e5a72" stroke-width="1" />
<line x1="558.43" y1="62.3" x2="561.63" y2="62.3" stroke="#3e5a72" stroke-width="1" />
<circle cx="558.43" cy="71.8" r="1.7" fill="#3e5a72" stroke="none" stroke-width="1"/>
<circle cx="561.63" cy="72.1" r="1.7" fill="#3e5a72" stroke="none" stroke-width="1"/>
<circle cx="560.03" cy="71.4" r="1.7" fill="#3e5a72" stroke="none" stroke-width="1"/>
<circle cx="560.03" cy="62.7" r="1.7" fill="#3e5a72" stroke="none" stroke-width="1"/>
<rect x="564.28" y="70" width="5.2" height="47.6" fill="#e69580" stroke="#da6a50" stroke-width="1.2" />
<line x1="566.88" y1="68" x2="566.88" y2="69.4" stroke="#da6a50" stroke-width="1" />
<line x1="565.28" y1="68" x2="568.48" y2="68" stroke="#da6a50" stroke-width="1" />
<circle cx="565.28" cy="69.7" r="1.7" fill="#da6a50" stroke="none" stroke-width="1"/>
<circle cx="568.48" cy="70" r="1.7" fill="#da6a50" stroke="none" stroke-width="1"/>
<circle cx="566.88" cy="69.3" r="1.7" fill="#da6a50" stroke="none" stroke-width="1"/>
<rect x="571.13" y="65.9" width="5.2" height="51.7" fill="#f4c493" stroke="#eea262" stroke-width="1.2" />
<line x1="573.73" y1="57.8" x2="573.73" y2="65.3" stroke="#eea262" stroke-width="1" />
<line x1="572.13" y1="57.8" x2="575.33" y2="57.8" stroke="#eea262" stroke-width="1" />
<circle cx="572.13" cy="65.6" r="1.7" fill="#eea262" stroke="none" stroke-width="1"/>
<circle cx="575.33" cy="65.9" r="1.7" fill="#eea262" stroke="none" stroke-width="1"/>
<circle cx="573.73" cy="65.2" r="1.7" fill="#eea262" stroke="none" stroke-width="1"/>
<circle cx="573.73" cy="58.2" r="1.7" fill="#eea262" stroke="none" stroke-width="1"/>
<rect x="584.07" y="72.1" width="5.2" height="45.5" fill="#6c7f92" stroke="#3e5a72" stroke-width="1.2" />
<line x1="586.67" y1="65.3" x2="586.67" y2="71.5" stroke="#3e5a72" stroke-width="1" />
<line x1="585.07" y1="65.3" x2="588.27" y2="65.3" stroke="#3e5a72" stroke-width="1" />
<circle cx="585.07" cy="71.8" r="1.7" fill="#3e5a72" stroke="none" stroke-width="1"/>
<circle cx="588.27" cy="72.1" r="1.7" fill="#3e5a72" stroke="none" stroke-width="1"/>
<circle cx="586.67" cy="71.4" r="1.7" fill="#3e5a72" stroke="none" stroke-width="1"/>
<circle cx="586.67" cy="65.7" r="1.7" fill="#3e5a72" stroke="none" stroke-width="1"/>
<rect x="590.92" y="76.2" width="5.2" height="41.4" fill="#e69580" stroke="#da6a50" stroke-width="1.2" />
<line x1="593.52" y1="74" x2="593.52" y2="75.6" stroke="#da6a50" stroke-width="1" />
<line x1="591.92" y1="74" x2="595.12" y2="74" stroke="#da6a50" stroke-width="1" />
<circle cx="591.92" cy="75.9" r="1.7" fill="#da6a50" stroke="none" stroke-width="1"/>
<circle cx="595.12" cy="76.2" r="1.7" fill="#da6a50" stroke="none" stroke-width="1"/>
<circle cx="593.52" cy="75.5" r="1.7" fill="#da6a50" stroke="none" stroke-width="1"/>
<rect x="597.77" y="74.1" width="5.2" height="43.5" fill="#f4c493" stroke="#eea262" stroke-width="1.2" />
<line x1="600.37" y1="63.3" x2="600.37" y2="73.5" stroke="#eea262" stroke-width="1" />
<line x1="598.77" y1="63.3" x2="601.97" y2="63.3" stroke="#eea262" stroke-width="1" />
<circle cx="598.77" cy="73.8" r="1.7" fill="#eea262" stroke="none" stroke-width="1"/>
<circle cx="601.97" cy="74.1" r="1.7" fill="#eea262" stroke="none" stroke-width="1"/>
<circle cx="600.37" cy="73.4" r="1.7" fill="#eea262" stroke="none" stroke-width="1"/>
<circle cx="600.37" cy="63.7" r="1.7" fill="#eea262" stroke="none" stroke-width="1"/>
<rect x="610.71" y="79.2" width="5.2" height="38.4" fill="#6c7f92" stroke="#3e5a72" stroke-width="1.2" />
<line x1="613.31" y1="75.6" x2="613.31" y2="78.6" stroke="#3e5a72" stroke-width="1" />
<line x1="611.71" y1="75.6" x2="614.91" y2="75.6" stroke="#3e5a72" stroke-width="1" />
<circle cx="611.71" cy="78.9" r="1.7" fill="#3e5a72" stroke="none" stroke-width="1"/>
<circle cx="614.91" cy="79.2" r="1.7" fill="#3e5a72" stroke="none" stroke-width="1"/>
<circle cx="613.31" cy="78.5" r="1.7" fill="#3e5a72" stroke="none" stroke-width="1"/>
<circle cx="613.31" cy="76" r="1.7" fill="#3e5a72" stroke="none" stroke-width="1"/>
<rect x="617.56" y="78.6" width="5.2" height="39" fill="#e69580" stroke="#da6a50" stroke-width="1.2" />
<line x1="620.16" y1="75.6" x2="620.16" y2="78" stroke="#da6a50" stroke-width="1" />
<line x1="618.56" y1="75.6" x2="621.76" y2="75.6" stroke="#da6a50" stroke-width="1" />
<circle cx="618.56" cy="78.3" r="1.7" fill="#da6a50" stroke="none" stroke-width="1"/>
<circle cx="621.76" cy="78.6" r="1.7" fill="#da6a50" stroke="none" stroke-width="1"/>
<circle cx="620.16" cy="77.9" r="1.7" fill="#da6a50" stroke="none" stroke-width="1"/>
<circle cx="620.16" cy="76" r="1.7" fill="#da6a50" stroke="none" stroke-width="1"/>
<rect x="624.41" y="73.1" width="5.2" height="44.5" fill="#f4c493" stroke="#eea262" stroke-width="1.2" />
<line x1="627.01" y1="71.5" x2="627.01" y2="72.5" stroke="#eea262" stroke-width="1" />
<line x1="625.41" y1="71.5" x2="628.61" y2="71.5" stroke="#eea262" stroke-width="1" />
<circle cx="625.41" cy="72.8" r="1.7" fill="#eea262" stroke="none" stroke-width="1"/>
<circle cx="628.61" cy="73.1" r="1.7" fill="#eea262" stroke="none" stroke-width="1"/>
<circle cx="627.01" cy="72.4" r="1.7" fill="#eea262" stroke="none" stroke-width="1"/>
<rect x="637.35" y="79.8" width="5.2" height="37.8" fill="#6c7f92" stroke="#3e5a72" stroke-width="1.2" />
<line x1="639.95" y1="73.5" x2="639.95" y2="79.2" stroke="#3e5a72" stroke-width="1" />
<line x1="638.35" y1="73.5" x2="641.55" y2="73.5" stroke="#3e5a72" stroke-width="1" />
<circle cx="638.35" cy="79.5" r="1.7" fill="#3e5a72" stroke="none" stroke-width="1"/>
<circle cx="641.55" cy="79.8" r="1.7" fill="#3e5a72" stroke="none" stroke-width="1"/>
<circle cx="639.95" cy="79.1" r="1.7" fill="#3e5a72" stroke="none" stroke-width="1"/>
<circle cx="639.95" cy="73.9" r="1.7" fill="#3e5a72" stroke="none" stroke-width="1"/>
<rect x="644.2" y="85.4" width="5.2" height="32.2" fill="#e69580" stroke="#da6a50" stroke-width="1.2" />
<line x1="646.8" y1="80.7" x2="646.8" y2="84.8" stroke="#da6a50" stroke-width="1" />
<line x1="645.2" y1="80.7" x2="648.4" y2="80.7" stroke="#da6a50" stroke-width="1" />
<circle cx="645.2" cy="85.1" r="1.7" fill="#da6a50" stroke="none" stroke-width="1"/>
<circle cx="648.4" cy="85.4" r="1.7" fill="#da6a50" stroke="none" stroke-width="1"/>
<circle cx="646.8" cy="84.7" r="1.7" fill="#da6a50" stroke="none" stroke-width="1"/>
<circle cx="646.8" cy="81.1" r="1.7" fill="#da6a50" stroke="none" stroke-width="1"/>
<rect x="651.05" y="79.2" width="5.2" height="38.4" fill="#f4c493" stroke="#eea262" stroke-width="1.2" />
<line x1="653.65" y1="72.1" x2="653.65" y2="78.6" stroke="#eea262" stroke-width="1" />
<line x1="652.05" y1="72.1" x2="655.25" y2="72.1" stroke="#eea262" stroke-width="1" />
<circle cx="652.05" cy="78.9" r="1.7" fill="#eea262" stroke="none" stroke-width="1"/>
<circle cx="655.25" cy="79.2" r="1.7" fill="#eea262" stroke="none" stroke-width="1"/>
<circle cx="653.65" cy="78.5" r="1.7" fill="#eea262" stroke="none" stroke-width="1"/>
<circle cx="653.65" cy="72.5" r="1.7" fill="#eea262" stroke="none" stroke-width="1"/>
<text x="580" y="24.7" text-anchor="middle" fill="#1a1a1a" style="font-size:10px;" >PB+VC</text>
<text x="575.9" y="144.6" text-anchor="middle" fill="#1a1a1a" style="font-size:8.8px;" >Drug concentration (ug/mL)</text>
<text transform="translate(478,78.2) rotate(-90)" text-anchor="middle" fill="#1a1a1a" style="font-size:9.4px;" >Cell viability (%)</text>
<rect x="628.5" y="9.9" width="10.6" height="5.2" fill="#6c7f92" stroke="#3e5a72" stroke-width="1.1" />
<text x="645.6" y="16" text-anchor="start" fill="#1a1a1a" style="font-size:9.2px;" >GES-1</text>
<rect x="628.5" y="24.1" width="10.6" height="5.2" fill="#e69580" stroke="#da6a50" stroke-width="1.1" />
<text x="645.6" y="30.2" text-anchor="start" fill="#1a1a1a" style="font-size:9.2px;" >CaCO2</text>
<rect x="628.5" y="38.3" width="10.6" height="5.2" fill="#f4c493" stroke="#eea262" stroke-width="1.1" />
<text x="645.6" y="44.4" text-anchor="start" fill="#1a1a1a" style="font-size:9.2px;" >IEC-6</text>
<line x1="12" y1="153.5" x2="669" y2="153.5" stroke="#000" stroke-width="3" stroke-dasharray="9 6.43"/>
<text x="9.3" y="185.6" text-anchor="start" fill="#000" style="font-size:17.5px;font-weight:bold;" >b</text>

<g>
<path d="M52.4,179.6 C58,171 66,166.5 76,166.5 C88,166.5 99,172 106,182.5" fill="none" stroke="#efdcd8" stroke-width="1.2"/>
<path d="M52.4,179.6 C54.5,176.3 56.6,173.8 59,171.8" fill="none" stroke="#e8d0cc" stroke-width="1.5"/>
<path d="M29,184 C32,178.5 38,177.4 44,177.6 C51,178.2 58,182.5 63.5,189.5 C67,195 70.5,205 72.6,214 C73.8,219 73.2,222.4 70.2,222.7 C66,223 62,222.6 59,221.8 C52,219.5 46,216.5 41,213.5 C35,210.8 30,208 28.2,204 C26.6,198 26.8,189 29,184 Z" fill="#f2f1f5" stroke="#e8e6ec" stroke-width="0.6"/>
<path d="M29,184 C32,179 36,178 40,177.8 C37,182 35.5,188 34.5,194 C33,199 30.5,203 28.3,203.5 C26.8,197 27,189 29,184 Z" fill="#dfe1e3"/>
<path d="M52,181 C57,183 61,186.5 63.5,190 C61.5,190.2 58,188.3 55,186 Z" fill="#dfe0e3"/>
<path d="M41.2,200.6 C42.8,197.6 48.2,198.6 51,202.4 C53.4,205.6 52.8,208.4 50.2,207.8 C46.8,207 40.2,203.8 41.2,200.6 Z" fill="#ecd2ca"/>
<path d="M44.6,200.6 C47.6,201.4 50.4,204 51,207" fill="none" stroke="#d4a49a" stroke-width="1.1"/>
<path d="M62,197.6 C62,194.4 65.4,191.6 69.4,191 C69.2,195 67.6,199.4 65,200.8 C63.2,201.2 62,199.8 62,197.6 Z" fill="#ebd0c8"/>
<path d="M66,193 C67.4,195 67.2,198 65.6,200" fill="none" stroke="#d4a49a" stroke-width="0.9"/>
<circle cx="59.4" cy="212.6" r="1.45" fill="#7e1c2c"/>
<circle cx="70.8" cy="209.6" r="0.95" fill="#8c2536"/>
<ellipse cx="71.2" cy="222" rx="1.6" ry="1.2" fill="#c4606e"/>
<path d="M28,211.8 C30.5,209.8 35,210 37.6,211.3 C35.6,213.8 31.6,214.8 28.6,213.8 Z" fill="#d9a6b2"/>
<path d="M39.4,212.6 C42,212.2 45.6,214 47.4,217.6 C45.2,218.8 42.2,218.6 40.6,216.4 Z" fill="#d9a6b2"/>
<path d="M52.9,221.6 C54.8,219.6 58.8,219.6 61.8,221.4 C59.8,223.4 56,224 52.9,223.2 Z" fill="#d9a6b2"/>
</g>
<circle cx="110.6" cy="205.6" r="2.3" fill="#000" stroke="none" stroke-width="1"/>
<line x1="110.6" y1="205.6" x2="538.5" y2="205.6" stroke="#000" stroke-width="1.5" />
<path d="M537.2,202.6 L543,205.6 L537.2,208.6 Z" fill="#000"/>
<path d="M156.8,190.9 L166,190.9 L161.4,202.6 Z" fill="#c00000"/>
<text x="159" y="185.8" text-anchor="middle" fill="#1a1a1a" style="font-size:10px;" >Day 0</text>
<path d="M187.9,190.9 L197.1,190.9 L192.5,202.6 Z" fill="#000"/>
<text x="192.7" y="185.8" text-anchor="middle" fill="#1a1a1a" style="font-size:10px;" >Day 1</text>
<path d="M294.2,190.9 L303.4,190.9 L298.8,202.6 Z" fill="#c00000"/>
<text x="296.8" y="185.8" text-anchor="middle" fill="#1a1a1a" style="font-size:10px;" >Day 7</text>
<path d="M325,190.9 L334.2,190.9 L329.6,202.6 Z" fill="#000"/>
<text x="331.2" y="185.8" text-anchor="middle" fill="#1a1a1a" style="font-size:10px;" >Day 8</text>
<path d="M439.1,190.9 L448.3,190.9 L443.7,202.6 Z" fill="#c00000"/>
<text x="432.7" y="185.8" text-anchor="middle" fill="#1a1a1a" style="font-size:10px;" >Day 14</text>
<path d="M469.9,190.9 L479.1,190.9 L474.5,202.6 Z" fill="#000"/>
<text x="474" y="185.8" text-anchor="middle" fill="#1a1a1a" style="font-size:10px;" >Day 15</text>
<rect x="195.3" y="211.3" width="247.5" height="4.8" fill="#0b2566" stroke="none" stroke-width="1" />
<text x="309.7" y="231.6" text-anchor="middle" fill="#1e3b7e" style="font-size:10.6px;" >Drug administration</text>
<path d="M567.8,184.9 L577.2,184.9 L572.5,196.4 Z" fill="#c00000"/>
<path d="M567.8,206.3 L577.2,206.3 L572.5,217.8 Z" fill="#000"/>
<text x="588.2" y="193" text-anchor="start" fill="#1a1a1a" style="font-size:10.6px;" textLength="72" lengthAdjust="spacing">Blood sampling</text>
<text x="588.2" y="215.4" text-anchor="start" fill="#1a1a1a" style="font-size:10.6px;" textLength="82.9" lengthAdjust="spacing">Excreta collection</text>
<rect x="437.1" y="242" width="10.4" height="4.9" fill="none" stroke="#707070" stroke-width="1.1" />
<text x="453.9" y="247.7" text-anchor="start" fill="#1a1a1a" style="font-size:9.9px;" >Control</text>
<rect x="496.9" y="242" width="10.4" height="4.9" fill="none" stroke="#f5b72c" stroke-width="1.1" />
<text x="514" y="247.7" text-anchor="start" fill="#1a1a1a" style="font-size:9.9px;" >VC</text>
<rect x="536.8" y="242" width="10.4" height="4.9" fill="none" stroke="#86b2d6" stroke-width="1.1" />
<text x="554" y="247.7" text-anchor="start" fill="#1a1a1a" style="font-size:9.9px;" >PB</text>
<rect x="578.7" y="242" width="10.4" height="4.9" fill="none" stroke="#3856a4" stroke-width="1.1" />
<text x="595.2" y="247.7" text-anchor="start" fill="#1a1a1a" style="font-size:9.9px;" >PV1</text>
<rect x="624.4" y="242" width="10.4" height="4.9" fill="none" stroke="#e8626a" stroke-width="1.1" />
<text x="641.6" y="247.7" text-anchor="start" fill="#1a1a1a" style="font-size:9.9px;" >PV2</text>
<text x="13" y="273.3" text-anchor="start" fill="#000" style="font-size:17.5px;font-weight:bold;" >c</text>
<line x1="53.3" y1="266.7" x2="53.3" y2="382.2" stroke="#222" stroke-width="1.2" />
<line x1="48.9" y1="381.6" x2="53.3" y2="381.6" stroke="#222" stroke-width="1.2" />
<text x="47.9" y="384.84" text-anchor="end" fill="#1a1a1a" style="font-size:9px;" >0</text>
<line x1="48.9" y1="358.74" x2="53.3" y2="358.74" stroke="#222" stroke-width="1.2" />
<text x="47.9" y="361.98" text-anchor="end" fill="#1a1a1a" style="font-size:9px;" >1</text>
<line x1="48.9" y1="335.88" x2="53.3" y2="335.88" stroke="#222" stroke-width="1.2" />
<text x="47.9" y="339.12" text-anchor="end" fill="#1a1a1a" style="font-size:9px;" >2</text>
<line x1="48.9" y1="313.02" x2="53.3" y2="313.02" stroke="#222" stroke-width="1.2" />
<text x="47.9" y="316.26" text-anchor="end" fill="#1a1a1a" style="font-size:9px;" >3</text>
<line x1="48.9" y1="290.16" x2="53.3" y2="290.16" stroke="#222" stroke-width="1.2" />
<text x="47.9" y="293.4" text-anchor="end" fill="#1a1a1a" style="font-size:9px;" >4</text>
<line x1="48.9" y1="267.3" x2="53.3" y2="267.3" stroke="#222" stroke-width="1.2" />
<text x="47.9" y="270.54" text-anchor="end" fill="#1a1a1a" style="font-size:9px;" >5</text>
<line x1="53.3" y1="381.6" x2="212.7" y2="381.6" stroke="#222" stroke-width="1.2" />
<line x1="79.2" y1="381.6" x2="79.2" y2="385.1" stroke="#222" stroke-width="1.2" />
<text x="79.2" y="394" text-anchor="middle" fill="#1a1a1a" style="font-size:9px;" >1</text>
<line x1="132.6" y1="381.6" x2="132.6" y2="385.1" stroke="#222" stroke-width="1.2" />
<text x="132.6" y="394" text-anchor="middle" fill="#1a1a1a" style="font-size:9px;" >8</text>
<line x1="186.4" y1="381.6" x2="186.4" y2="385.1" stroke="#222" stroke-width="1.2" />
<text x="186.4" y="394" text-anchor="middle" fill="#1a1a1a" style="font-size:9px;" >15</text>
<rect x="57.6" y="330.75" width="6.8" height="50.85" fill="#fff" stroke="none" stroke-width="1" />
<polyline points="57.6,381.6 57.6,330.75 64.4,330.75 64.4,381.6" stroke="#6a6a6a" stroke-width="1.1" fill="none"/>
<circle cx="61" cy="324.6" r="1.75" fill="none" stroke="#6a6a6a" stroke-width="1"/>
<circle cx="58.79" cy="321.9" r="1.75" fill="none" stroke="#6a6a6a" stroke-width="1"/>
<circle cx="63.21" cy="337.3" r="1.75" fill="none" stroke="#6a6a6a" stroke-width="1"/>
<circle cx="59.89" cy="337.3" r="1.75" fill="none" stroke="#6a6a6a" stroke-width="1"/>
<circle cx="62.11" cy="330.8" r="1.75" fill="none" stroke="#6a6a6a" stroke-width="1"/>
<line x1="61" y1="326.1" x2="61" y2="334.3" stroke="#6a6a6a" stroke-width="1" />
<line x1="59.02" y1="326.1" x2="62.98" y2="326.1" stroke="#6a6a6a" stroke-width="1" />
<line x1="59.02" y1="334.3" x2="62.98" y2="334.3" stroke="#6a6a6a" stroke-width="1" />
<rect x="66.65" y="327.15" width="6.8" height="54.45" fill="#fff" stroke="none" stroke-width="1" />
<polyline points="66.65,381.6 66.65,327.15 73.45,327.15 73.45,381.6" stroke="#f2b41c" stroke-width="1.1" fill="none"/>
<circle cx="70.05" cy="324.6" r="1.75" fill="none" stroke="#f2b41c" stroke-width="1"/>
<circle cx="67.84" cy="328.1" r="1.75" fill="none" stroke="#f2b41c" stroke-width="1"/>
<circle cx="72.26" cy="328.1" r="1.75" fill="none" stroke="#f2b41c" stroke-width="1"/>
<circle cx="68.94" cy="329" r="1.75" fill="none" stroke="#f2b41c" stroke-width="1"/>
<circle cx="71.16" cy="326" r="1.75" fill="none" stroke="#f2b41c" stroke-width="1"/>
<line x1="70.05" y1="325" x2="70.05" y2="328.2" stroke="#f2b41c" stroke-width="1" />
<line x1="68.08" y1="325" x2="72.02" y2="325" stroke="#f2b41c" stroke-width="1" />
<line x1="68.08" y1="328.2" x2="72.02" y2="328.2" stroke="#f2b41c" stroke-width="1" />
<rect x="75.7" y="332.65" width="6.8" height="48.95" fill="#fff" stroke="none" stroke-width="1" />
<polyline points="75.7,381.6 75.7,332.65 82.5,332.65 82.5,381.6" stroke="#78a9cf" stroke-width="1.1" fill="none"/>
<circle cx="79.1" cy="329" r="1.75" fill="none" stroke="#78a9cf" stroke-width="1"/>
<circle cx="76.89" cy="326.3" r="1.75" fill="none" stroke="#78a9cf" stroke-width="1"/>
<circle cx="81.31" cy="331.2" r="1.75" fill="none" stroke="#78a9cf" stroke-width="1"/>
<circle cx="77.99" cy="340.9" r="1.75" fill="none" stroke="#78a9cf" stroke-width="1"/>
<circle cx="80.21" cy="338.4" r="1.75" fill="none" stroke="#78a9cf" stroke-width="1"/>
<line x1="79.1" y1="325.6" x2="79.1" y2="338.6" stroke="#78a9cf" stroke-width="1" />
<line x1="77.13" y1="325.6" x2="81.08" y2="325.6" stroke="#78a9cf" stroke-width="1" />
<line x1="77.13" y1="338.6" x2="81.08" y2="338.6" stroke="#78a9cf" stroke-width="1" />
<rect x="84.75" y="335.75" width="6.8" height="45.85" fill="#fff" stroke="none" stroke-width="1" />
<polyline points="84.75,381.6 84.75,335.75 91.55,335.75 91.55,381.6" stroke="#2d4b9b" stroke-width="1.1" fill="none"/>
<circle cx="88.15" cy="325" r="1.75" fill="none" stroke="#2d4b9b" stroke-width="1"/>
<circle cx="85.94" cy="334.7" r="1.75" fill="none" stroke="#2d4b9b" stroke-width="1"/>
<circle cx="90.36" cy="336.5" r="1.75" fill="none" stroke="#2d4b9b" stroke-width="1"/>
<circle cx="87.04" cy="343.6" r="1.75" fill="none" stroke="#2d4b9b" stroke-width="1"/>
<circle cx="89.26" cy="337.4" r="1.75" fill="none" stroke="#2d4b9b" stroke-width="1"/>
<line x1="88.15" y1="330.9" x2="88.15" y2="339.5" stroke="#2d4b9b" stroke-width="1" />
<line x1="86.18" y1="330.9" x2="90.12" y2="330.9" stroke="#2d4b9b" stroke-width="1" />
<line x1="86.18" y1="339.5" x2="90.12" y2="339.5" stroke="#2d4b9b" stroke-width="1" />
<rect x="93.8" y="339.45" width="6.8" height="42.15" fill="#fff" stroke="none" stroke-width="1" />
<polyline points="93.8,381.6 93.8,339.45 100.6,339.45 100.6,381.6" stroke="#e45f62" stroke-width="1.1" fill="none"/>
<circle cx="97.2" cy="325" r="1.75" fill="none" stroke="#e45f62" stroke-width="1"/>
<circle cx="94.99" cy="330.8" r="1.75" fill="none" stroke="#e45f62" stroke-width="1"/>
<circle cx="99.41" cy="343.6" r="1.75" fill="none" stroke="#e45f62" stroke-width="1"/>
<circle cx="96.09" cy="355.9" r="1.75" fill="none" stroke="#e45f62" stroke-width="1"/>
<circle cx="98.31" cy="337" r="1.75" fill="none" stroke="#e45f62" stroke-width="1"/>
<line x1="97.2" y1="331.6" x2="97.2" y2="346.2" stroke="#e45f62" stroke-width="1" />
<line x1="95.23" y1="331.6" x2="99.17" y2="331.6" stroke="#e45f62" stroke-width="1" />
<line x1="95.23" y1="346.2" x2="99.17" y2="346.2" stroke="#e45f62" stroke-width="1" />
<rect x="111" y="315.35" width="6.8" height="66.25" fill="#fff" stroke="none" stroke-width="1" />
<polyline points="111,381.6 111,315.35 117.8,315.35 117.8,381.6" stroke="#6a6a6a" stroke-width="1.1" fill="none"/>
<circle cx="114.4" cy="312.5" r="1.75" fill="none" stroke="#6a6a6a" stroke-width="1"/>
<circle cx="112.19" cy="316.5" r="1.75" fill="none" stroke="#6a6a6a" stroke-width="1"/>
<circle cx="116.61" cy="314.5" r="1.75" fill="none" stroke="#6a6a6a" stroke-width="1"/>
<circle cx="113.29" cy="318.5" r="1.75" fill="none" stroke="#6a6a6a" stroke-width="1"/>
<circle cx="115.51" cy="311.5" r="1.75" fill="none" stroke="#6a6a6a" stroke-width="1"/>
<line x1="114.4" y1="312" x2="114.4" y2="317.6" stroke="#6a6a6a" stroke-width="1" />
<line x1="112.43" y1="312" x2="116.38" y2="312" stroke="#6a6a6a" stroke-width="1" />
<line x1="112.43" y1="317.6" x2="116.38" y2="317.6" stroke="#6a6a6a" stroke-width="1" />
<rect x="120.05" y="316.25" width="6.8" height="65.35" fill="#fff" stroke="none" stroke-width="1" />
<polyline points="120.05,381.6 120.05,316.25 126.85,316.25 126.85,381.6" stroke="#f2b41c" stroke-width="1.1" fill="none"/>
<circle cx="123.45" cy="315.5" r="1.75" fill="none" stroke="#f2b41c" stroke-width="1"/>
<circle cx="121.24" cy="316.5" r="1.75" fill="none" stroke="#f2b41c" stroke-width="1"/>
<circle cx="125.66" cy="315" r="1.75" fill="none" stroke="#f2b41c" stroke-width="1"/>
<circle cx="122.34" cy="317" r="1.75" fill="none" stroke="#f2b41c" stroke-width="1"/>
<circle cx="124.56" cy="316" r="1.75" fill="none" stroke="#f2b41c" stroke-width="1"/>
<line x1="123.45" y1="314.5" x2="123.45" y2="316.9" stroke="#f2b41c" stroke-width="1" />
<line x1="121.48" y1="314.5" x2="125.42" y2="314.5" stroke="#f2b41c" stroke-width="1" />
<line x1="121.48" y1="316.9" x2="125.42" y2="316.9" stroke="#f2b41c" stroke-width="1" />
<rect x="129.1" y="343.55" width="6.8" height="38.05" fill="#fff" stroke="none" stroke-width="1" />
<polyline points="129.1,381.6 129.1,343.55 135.9,343.55 135.9,381.6" stroke="#78a9cf" stroke-width="1.1" fill="none"/>
<circle cx="132.5" cy="335" r="1.75" fill="none" stroke="#78a9cf" stroke-width="1"/>
<circle cx="130.29" cy="345.5" r="1.75" fill="none" stroke="#78a9cf" stroke-width="1"/>
<circle cx="134.71" cy="349" r="1.75" fill="none" stroke="#78a9cf" stroke-width="1"/>
<circle cx="131.39" cy="342" r="1.75" fill="none" stroke="#78a9cf" stroke-width="1"/>
<circle cx="133.61" cy="340" r="1.75" fill="none" stroke="#78a9cf" stroke-width="1"/>
<line x1="132.5" y1="335.7" x2="132.5" y2="350.3" stroke="#78a9cf" stroke-width="1" />
<line x1="130.53" y1="335.7" x2="134.47" y2="335.7" stroke="#78a9cf" stroke-width="1" />
<line x1="130.53" y1="350.3" x2="134.47" y2="350.3" stroke="#78a9cf" stroke-width="1" />
<rect x="138.15" y="366.35" width="6.8" height="15.25" fill="#fff" stroke="none" stroke-width="1" />
<polyline points="138.15,381.6 138.15,366.35 144.95,366.35 144.95,381.6" stroke="#2d4b9b" stroke-width="1.1" fill="none"/>
<circle cx="141.55" cy="352" r="1.75" fill="none" stroke="#2d4b9b" stroke-width="1"/>
<circle cx="139.34" cy="366" r="1.75" fill="none" stroke="#2d4b9b" stroke-width="1"/>
<circle cx="143.76" cy="372" r="1.75" fill="none" stroke="#2d4b9b" stroke-width="1"/>
<circle cx="140.44" cy="366.5" r="1.75" fill="none" stroke="#2d4b9b" stroke-width="1"/>
<circle cx="142.66" cy="369" r="1.75" fill="none" stroke="#2d4b9b" stroke-width="1"/>
<line x1="141.55" y1="360.3" x2="141.55" y2="371.3" stroke="#2d4b9b" stroke-width="1" />
<line x1="139.57" y1="360.3" x2="143.52" y2="360.3" stroke="#2d4b9b" stroke-width="1" />
<line x1="139.57" y1="371.3" x2="143.52" y2="371.3" stroke="#2d4b9b" stroke-width="1" />
<rect x="147.2" y="368.85" width="6.8" height="12.75" fill="#fff" stroke="none" stroke-width="1" />
<polyline points="147.2,381.6 147.2,368.85 154,368.85 154,381.6" stroke="#e45f62" stroke-width="1.1" fill="none"/>
<circle cx="150.6" cy="357.5" r="1.75" fill="none" stroke="#e45f62" stroke-width="1"/>
<circle cx="148.39" cy="370" r="1.75" fill="none" stroke="#e45f62" stroke-width="1"/>
<circle cx="152.81" cy="372.5" r="1.75" fill="none" stroke="#e45f62" stroke-width="1"/>
<circle cx="149.49" cy="378.5" r="1.75" fill="none" stroke="#e45f62" stroke-width="1"/>
<circle cx="151.71" cy="357.5" r="1.75" fill="none" stroke="#e45f62" stroke-width="1"/>
<line x1="150.6" y1="363.4" x2="150.6" y2="373.2" stroke="#e45f62" stroke-width="1" />
<line x1="148.62" y1="363.4" x2="152.57" y2="363.4" stroke="#e45f62" stroke-width="1" />
<line x1="148.62" y1="373.2" x2="152.57" y2="373.2" stroke="#e45f62" stroke-width="1" />
<rect x="164.85" y="314.55" width="6.8" height="67.05" fill="#fff" stroke="none" stroke-width="1" />
<polyline points="164.85,381.6 164.85,314.55 171.65,314.55 171.65,381.6" stroke="#6a6a6a" stroke-width="1.1" fill="none"/>
<circle cx="168.25" cy="303.5" r="1.75" fill="none" stroke="#6a6a6a" stroke-width="1"/>
<circle cx="166.04" cy="312" r="1.75" fill="none" stroke="#6a6a6a" stroke-width="1"/>
<circle cx="170.46" cy="313" r="1.75" fill="none" stroke="#6a6a6a" stroke-width="1"/>
<circle cx="167.14" cy="316.5" r="1.75" fill="none" stroke="#6a6a6a" stroke-width="1"/>
<circle cx="169.36" cy="311" r="1.75" fill="none" stroke="#6a6a6a" stroke-width="1"/>
<line x1="168.25" y1="310.4" x2="168.25" y2="317.6" stroke="#6a6a6a" stroke-width="1" />
<line x1="166.28" y1="310.4" x2="170.22" y2="310.4" stroke="#6a6a6a" stroke-width="1" />
<line x1="166.28" y1="317.6" x2="170.22" y2="317.6" stroke="#6a6a6a" stroke-width="1" />
<rect x="173.9" y="326.65" width="6.8" height="54.95" fill="#fff" stroke="none" stroke-width="1" />
<polyline points="173.9,381.6 173.9,326.65 180.7,326.65 180.7,381.6" stroke="#f2b41c" stroke-width="1.1" fill="none"/>
<circle cx="177.3" cy="316" r="1.75" fill="none" stroke="#f2b41c" stroke-width="1"/>
<circle cx="175.09" cy="316" r="1.75" fill="none" stroke="#f2b41c" stroke-width="1"/>
<circle cx="179.51" cy="330" r="1.75" fill="none" stroke="#f2b41c" stroke-width="1"/>
<circle cx="176.19" cy="333.5" r="1.75" fill="none" stroke="#f2b41c" stroke-width="1"/>
<circle cx="178.41" cy="327" r="1.75" fill="none" stroke="#f2b41c" stroke-width="1"/>
<line x1="177.3" y1="316" x2="177.3" y2="336.2" stroke="#f2b41c" stroke-width="1" />
<line x1="175.33" y1="316" x2="179.28" y2="316" stroke="#f2b41c" stroke-width="1" />
<line x1="175.33" y1="336.2" x2="179.28" y2="336.2" stroke="#f2b41c" stroke-width="1" />
<rect x="182.95" y="337.95" width="6.8" height="43.65" fill="#fff" stroke="none" stroke-width="1" />
<polyline points="182.95,381.6 182.95,337.95 189.75,337.95 189.75,381.6" stroke="#78a9cf" stroke-width="1.1" fill="none"/>
<circle cx="186.35" cy="315.5" r="1.75" fill="none" stroke="#78a9cf" stroke-width="1"/>
<circle cx="184.14" cy="327.5" r="1.75" fill="none" stroke="#78a9cf" stroke-width="1"/>
<circle cx="188.56" cy="341" r="1.75" fill="none" stroke="#78a9cf" stroke-width="1"/>
<circle cx="185.24" cy="349" r="1.75" fill="none" stroke="#78a9cf" stroke-width="1"/>
<circle cx="187.46" cy="338" r="1.75" fill="none" stroke="#78a9cf" stroke-width="1"/>
<line x1="186.35" y1="322.5" x2="186.35" y2="352.3" stroke="#78a9cf" stroke-width="1" />
<line x1="184.38" y1="322.5" x2="188.32" y2="322.5" stroke="#78a9cf" stroke-width="1" />
<line x1="184.38" y1="352.3" x2="188.32" y2="352.3" stroke="#78a9cf" stroke-width="1" />
<rect x="192" y="359.85" width="6.8" height="21.75" fill="#fff" stroke="none" stroke-width="1" />
<polyline points="192,381.6 192,359.85 198.8,359.85 198.8,381.6" stroke="#2d4b9b" stroke-width="1.1" fill="none"/>
<circle cx="195.4" cy="350" r="1.75" fill="none" stroke="#2d4b9b" stroke-width="1"/>
<circle cx="193.19" cy="356" r="1.75" fill="none" stroke="#2d4b9b" stroke-width="1"/>
<circle cx="197.61" cy="360.5" r="1.75" fill="none" stroke="#2d4b9b" stroke-width="1"/>
<circle cx="194.29" cy="367" r="1.75" fill="none" stroke="#2d4b9b" stroke-width="1"/>
<circle cx="196.51" cy="363" r="1.75" fill="none" stroke="#2d4b9b" stroke-width="1"/>
<line x1="195.4" y1="353.8" x2="195.4" y2="364.8" stroke="#2d4b9b" stroke-width="1" />
<line x1="193.43" y1="353.8" x2="197.38" y2="353.8" stroke="#2d4b9b" stroke-width="1" />
<line x1="193.43" y1="364.8" x2="197.38" y2="364.8" stroke="#2d4b9b" stroke-width="1" />
<rect x="201.05" y="370.75" width="6.8" height="10.85" fill="#fff" stroke="none" stroke-width="1" />
<polyline points="201.05,381.6 201.05,370.75 207.85,370.75 207.85,381.6" stroke="#e45f62" stroke-width="1.1" fill="none"/>
<circle cx="204.45" cy="358" r="1.75" fill="none" stroke="#e45f62" stroke-width="1"/>
<circle cx="202.24" cy="364" r="1.75" fill="none" stroke="#e45f62" stroke-width="1"/>
<circle cx="206.66" cy="372.5" r="1.75" fill="none" stroke="#e45f62" stroke-width="1"/>
<circle cx="203.34" cy="377" r="1.75" fill="none" stroke="#e45f62" stroke-width="1"/>
<circle cx="205.56" cy="377" r="1.75" fill="none" stroke="#e45f62" stroke-width="1"/>
<line x1="204.45" y1="364.6" x2="204.45" y2="375.8" stroke="#e45f62" stroke-width="1" />
<line x1="202.47" y1="364.6" x2="206.42" y2="364.6" stroke="#e45f62" stroke-width="1" />
<line x1="202.47" y1="375.8" x2="206.42" y2="375.8" stroke="#e45f62" stroke-width="1" />
<text x="133.8" y="406.9" text-anchor="middle" fill="#1a1a1a" style="font-size:9.4px;" >Day</text>
<text transform="translate(36.3,319) rotate(-90)" text-anchor="middle" fill="#1a1a1a" style="font-size:9.4px;" >Urinary K<tspan dy="-3" style="font-size:6px">+</tspan><tspan dy="3"> (mmol/day)</tspan></text>
<polyline points="60.4,318.1 60.4,306.3 78.4,306.3 78.4,311.1" stroke="#333" stroke-width="1" fill="none"/>
<line x1="67.3" y1="311.1" x2="97" y2="311.1" stroke="#333" stroke-width="1" />
<text x="71.7" y="302" text-anchor="middle" fill="#1a1a1a" style="font-size:8.2px;" >n.s.</text>
<text x="110.2" y="282" text-anchor="start" fill="#1a1a1a" style="font-size:8.1px;" ><tspan style="font-style:italic">p</tspan> &lt; 0.0001</text>
<line x1="110.2" y1="284.5" x2="152.4" y2="284.5" stroke="#333" stroke-width="1" />
<text x="110.2" y="293.1" text-anchor="start" fill="#1a1a1a" style="font-size:8.1px;" ><tspan style="font-style:italic">p</tspan> &lt; 0.0001</text>
<line x1="110.2" y1="295.6" x2="148.3" y2="295.6" stroke="#333" stroke-width="1" />
<text x="110.2" y="303.4" text-anchor="start" fill="#1a1a1a" style="font-size:8.1px;" ><tspan style="font-style:italic">p</tspan> = 0.0005</text>
<line x1="110.2" y1="305.9" x2="134.3" y2="305.9" stroke="#333" stroke-width="1" />
<text x="113.1" y="353.8" text-anchor="start" fill="#1a1a1a" style="font-size:8.2px;" >n.s.</text>
<line x1="112.2" y1="356.4" x2="125.4" y2="356.4" stroke="#333" stroke-width="1" />
<text x="165.2" y="276.2" text-anchor="start" fill="#1a1a1a" style="font-size:8.1px;" ><tspan style="font-style:italic">p</tspan> &lt; 0.0001</text>
<line x1="165.2" y1="278.7" x2="207.8" y2="278.7" stroke="#333" stroke-width="1" />
<text x="165.2" y="287.1" text-anchor="start" fill="#1a1a1a" style="font-size:8.1px;" ><tspan style="font-style:italic">p</tspan> &lt; 0.0001</text>
<line x1="165.2" y1="289.6" x2="199.4" y2="289.6" stroke="#333" stroke-width="1" />
<text x="165.2" y="298" text-anchor="start" fill="#1a1a1a" style="font-size:8.1px;" ><tspan style="font-style:italic">p</tspan> = 0.0045</text>
<line x1="165.2" y1="300.5" x2="189.3" y2="300.5" stroke="#333" stroke-width="1" />
<text x="167.3" y="353.8" text-anchor="start" fill="#1a1a1a" style="font-size:8.2px;" >n.s.</text>
<line x1="165.7" y1="356.8" x2="178.9" y2="356.8" stroke="#333" stroke-width="1" />
<text x="251.5" y="273.6" text-anchor="start" fill="#000" style="font-size:18px;font-weight:bold;" >d</text>
<line x1="284.2" y1="266.6" x2="284.2" y2="381.7" stroke="#222" stroke-width="1.2" />
<line x1="279.8" y1="381.1" x2="284.2" y2="381.1" stroke="#222" stroke-width="1.2" />
<text x="278.8" y="384.34" text-anchor="end" fill="#1a1a1a" style="font-size:9px;" >0</text>
<line x1="279.8" y1="358.32" x2="284.2" y2="358.32" stroke="#222" stroke-width="1.2" />
<text x="278.8" y="361.56" text-anchor="end" fill="#1a1a1a" style="font-size:9px;" >1</text>
<line x1="279.8" y1="335.54" x2="284.2" y2="335.54" stroke="#222" stroke-width="1.2" />
<text x="278.8" y="338.78" text-anchor="end" fill="#1a1a1a" style="font-size:9px;" >2</text>
<line x1="279.8" y1="312.76" x2="284.2" y2="312.76" stroke="#222" stroke-width="1.2" />
<text x="278.8" y="316" text-anchor="end" fill="#1a1a1a" style="font-size:9px;" >3</text>
<line x1="279.8" y1="289.98" x2="284.2" y2="289.98" stroke="#222" stroke-width="1.2" />
<text x="278.8" y="293.22" text-anchor="end" fill="#1a1a1a" style="font-size:9px;" >4</text>
<line x1="279.8" y1="267.2" x2="284.2" y2="267.2" stroke="#222" stroke-width="1.2" />
<text x="278.8" y="270.44" text-anchor="end" fill="#1a1a1a" style="font-size:9px;" >5</text>
<line x1="284.2" y1="381.1" x2="443.6" y2="381.1" stroke="#222" stroke-width="1.2" />
<line x1="310.3" y1="381.1" x2="310.3" y2="384.6" stroke="#222" stroke-width="1.2" />
<text x="310.3" y="393.5" text-anchor="middle" fill="#1a1a1a" style="font-size:9px;" >1</text>
<line x1="363.5" y1="381.1" x2="363.5" y2="384.6" stroke="#222" stroke-width="1.2" />
<text x="363.5" y="393.5" text-anchor="middle" fill="#1a1a1a" style="font-size:9px;" >8</text>
<line x1="418.3" y1="381.1" x2="418.3" y2="384.6" stroke="#222" stroke-width="1.2" />
<text x="418.3" y="393.5" text-anchor="middle" fill="#1a1a1a" style="font-size:9px;" >15</text>
<rect x="287.75" y="374.13" width="6.7" height="6.97" fill="#fff" stroke="none" stroke-width="1" />
<polyline points="287.75,381.1 287.75,374.13 294.45,374.13 294.45,381.1" stroke="#6a6a6a" stroke-width="1.1" fill="none"/>
<circle cx="291.1" cy="372.44" r="1.7" fill="none" stroke="#6a6a6a" stroke-width="1"/>
<circle cx="288.92" cy="373.58" r="1.7" fill="none" stroke="#6a6a6a" stroke-width="1"/>
<circle cx="293.28" cy="374.72" r="1.7" fill="none" stroke="#6a6a6a" stroke-width="1"/>
<circle cx="290.01" cy="372.9" r="1.7" fill="none" stroke="#6a6a6a" stroke-width="1"/>
<circle cx="292.19" cy="374.27" r="1.7" fill="none" stroke="#6a6a6a" stroke-width="1"/>
<line x1="291.1" y1="372.9" x2="291.1" y2="374.27" stroke="#6a6a6a" stroke-width="1" />
<line x1="289.15" y1="372.9" x2="293.05" y2="372.9" stroke="#6a6a6a" stroke-width="1" />
<line x1="289.15" y1="374.27" x2="293.05" y2="374.27" stroke="#6a6a6a" stroke-width="1" />
<rect x="297.1" y="375.73" width="6.7" height="5.37" fill="#fff" stroke="none" stroke-width="1" />
<polyline points="297.1,381.1 297.1,375.73 303.8,375.73 303.8,381.1" stroke="#eea154" stroke-width="1.1" fill="none"/>
<circle cx="300.45" cy="372.44" r="1.7" fill="none" stroke="#eea154" stroke-width="1"/>
<circle cx="298.27" cy="373.58" r="1.7" fill="none" stroke="#eea154" stroke-width="1"/>
<circle cx="302.63" cy="374.72" r="1.7" fill="none" stroke="#eea154" stroke-width="1"/>
<circle cx="299.36" cy="372.9" r="1.7" fill="none" stroke="#eea154" stroke-width="1"/>
<circle cx="301.54" cy="374.27" r="1.7" fill="none" stroke="#eea154" stroke-width="1"/>
<line x1="300.45" y1="374.49" x2="300.45" y2="375.86" stroke="#eea154" stroke-width="1" />
<line x1="298.5" y1="374.49" x2="302.4" y2="374.49" stroke="#eea154" stroke-width="1" />
<line x1="298.5" y1="375.86" x2="302.4" y2="375.86" stroke="#eea154" stroke-width="1" />
<rect x="306.45" y="374.82" width="6.7" height="6.28" fill="#fff" stroke="none" stroke-width="1" />
<polyline points="306.45,381.1 306.45,374.82 313.15,374.82 313.15,381.1" stroke="#78a9cf" stroke-width="1.1" fill="none"/>
<circle cx="309.8" cy="372.44" r="1.7" fill="none" stroke="#78a9cf" stroke-width="1"/>
<circle cx="307.62" cy="373.58" r="1.7" fill="none" stroke="#78a9cf" stroke-width="1"/>
<circle cx="311.98" cy="374.72" r="1.7" fill="none" stroke="#78a9cf" stroke-width="1"/>
<circle cx="308.71" cy="372.9" r="1.7" fill="none" stroke="#78a9cf" stroke-width="1"/>
<circle cx="310.89" cy="374.27" r="1.7" fill="none" stroke="#78a9cf" stroke-width="1"/>
<line x1="309.8" y1="373.58" x2="309.8" y2="374.95" stroke="#78a9cf" stroke-width="1" />
<line x1="307.85" y1="373.58" x2="311.75" y2="373.58" stroke="#78a9cf" stroke-width="1" />
<line x1="307.85" y1="374.95" x2="311.75" y2="374.95" stroke="#78a9cf" stroke-width="1" />
<rect x="315.8" y="374.82" width="6.7" height="6.28" fill="#fff" stroke="none" stroke-width="1" />
<polyline points="315.8,381.1 315.8,374.82 322.5,374.82 322.5,381.1" stroke="#2d4b9b" stroke-width="1.1" fill="none"/>
<circle cx="319.15" cy="372.44" r="1.7" fill="none" stroke="#2d4b9b" stroke-width="1"/>
<circle cx="316.97" cy="373.58" r="1.7" fill="none" stroke="#2d4b9b" stroke-width="1"/>
<circle cx="321.33" cy="374.72" r="1.7" fill="none" stroke="#2d4b9b" stroke-width="1"/>
<circle cx="318.06" cy="372.9" r="1.7" fill="none" stroke="#2d4b9b" stroke-width="1"/>
<circle cx="320.24" cy="374.27" r="1.7" fill="none" stroke="#2d4b9b" stroke-width="1"/>
<line x1="319.15" y1="373.35" x2="319.15" y2="375.18" stroke="#2d4b9b" stroke-width="1" />
<line x1="317.2" y1="373.35" x2="321.1" y2="373.35" stroke="#2d4b9b" stroke-width="1" />
<line x1="317.2" y1="375.18" x2="321.1" y2="375.18" stroke="#2d4b9b" stroke-width="1" />
<rect x="325.15" y="377.09" width="6.7" height="4.01" fill="#fff" stroke="none" stroke-width="1" />
<polyline points="325.15,381.1 325.15,377.09 331.85,377.09 331.85,381.1" stroke="#e45f62" stroke-width="1.1" fill="none"/>
<circle cx="328.5" cy="373.13" r="1.7" fill="none" stroke="#e45f62" stroke-width="1"/>
<circle cx="326.32" cy="376.54" r="1.7" fill="none" stroke="#e45f62" stroke-width="1"/>
<circle cx="330.68" cy="377.68" r="1.7" fill="none" stroke="#e45f62" stroke-width="1"/>
<circle cx="327.41" cy="378.82" r="1.7" fill="none" stroke="#e45f62" stroke-width="1"/>
<circle cx="329.59" cy="376.09" r="1.7" fill="none" stroke="#e45f62" stroke-width="1"/>
<line x1="328.5" y1="375.63" x2="328.5" y2="377.46" stroke="#e45f62" stroke-width="1" />
<line x1="326.55" y1="375.63" x2="330.45" y2="375.63" stroke="#e45f62" stroke-width="1" />
<line x1="326.55" y1="377.46" x2="330.45" y2="377.46" stroke="#e45f62" stroke-width="1" />
<rect x="340.95" y="373.68" width="6.7" height="7.42" fill="#fff" stroke="none" stroke-width="1" />
<polyline points="340.95,381.1 340.95,373.68 347.65,373.68 347.65,381.1" stroke="#6a6a6a" stroke-width="1.1" fill="none"/>
<circle cx="344.3" cy="370.85" r="1.7" fill="none" stroke="#6a6a6a" stroke-width="1"/>
<circle cx="342.12" cy="374.27" r="1.7" fill="none" stroke="#6a6a6a" stroke-width="1"/>
<circle cx="346.48" cy="376.54" r="1.7" fill="none" stroke="#6a6a6a" stroke-width="1"/>
<circle cx="343.21" cy="377.68" r="1.7" fill="none" stroke="#6a6a6a" stroke-width="1"/>
<circle cx="345.39" cy="371.99" r="1.7" fill="none" stroke="#6a6a6a" stroke-width="1"/>
<line x1="344.3" y1="371.76" x2="344.3" y2="374.49" stroke="#6a6a6a" stroke-width="1" />
<line x1="342.35" y1="371.76" x2="346.25" y2="371.76" stroke="#6a6a6a" stroke-width="1" />
<line x1="342.35" y1="374.49" x2="346.25" y2="374.49" stroke="#6a6a6a" stroke-width="1" />
<rect x="350.3" y="374.36" width="6.7" height="6.74" fill="#fff" stroke="none" stroke-width="1" />
<polyline points="350.3,381.1 350.3,374.36 357,374.36 357,381.1" stroke="#eea154" stroke-width="1.1" fill="none"/>
<circle cx="353.65" cy="372.44" r="1.7" fill="none" stroke="#eea154" stroke-width="1"/>
<circle cx="351.47" cy="373.58" r="1.7" fill="none" stroke="#eea154" stroke-width="1"/>
<circle cx="355.83" cy="374.72" r="1.7" fill="none" stroke="#eea154" stroke-width="1"/>
<circle cx="352.56" cy="372.9" r="1.7" fill="none" stroke="#eea154" stroke-width="1"/>
<circle cx="354.74" cy="374.27" r="1.7" fill="none" stroke="#eea154" stroke-width="1"/>
<line x1="353.65" y1="373.13" x2="353.65" y2="374.49" stroke="#eea154" stroke-width="1" />
<line x1="351.7" y1="373.13" x2="355.6" y2="373.13" stroke="#eea154" stroke-width="1" />
<line x1="351.7" y1="374.49" x2="355.6" y2="374.49" stroke="#eea154" stroke-width="1" />
<rect x="359.65" y="366.84" width="6.7" height="14.26" fill="#fff" stroke="none" stroke-width="1" />
<polyline points="359.65,381.1 359.65,366.84 366.35,366.84 366.35,381.1" stroke="#78a9cf" stroke-width="1.1" fill="none"/>
<circle cx="363" cy="362.88" r="1.7" fill="none" stroke="#78a9cf" stroke-width="1"/>
<circle cx="360.82" cy="365.15" r="1.7" fill="none" stroke="#78a9cf" stroke-width="1"/>
<circle cx="365.18" cy="366.98" r="1.7" fill="none" stroke="#78a9cf" stroke-width="1"/>
<circle cx="361.91" cy="368.57" r="1.7" fill="none" stroke="#78a9cf" stroke-width="1"/>
<circle cx="364.09" cy="367.43" r="1.7" fill="none" stroke="#78a9cf" stroke-width="1"/>
<line x1="363" y1="364.93" x2="363" y2="367.66" stroke="#78a9cf" stroke-width="1" />
<line x1="361.05" y1="364.93" x2="364.95" y2="364.93" stroke="#78a9cf" stroke-width="1" />
<line x1="361.05" y1="367.66" x2="364.95" y2="367.66" stroke="#78a9cf" stroke-width="1" />
<rect x="369" y="345.66" width="6.7" height="35.44" fill="#fff" stroke="none" stroke-width="1" />
<polyline points="369,381.1 369,345.66 375.7,345.66 375.7,381.1" stroke="#2d4b9b" stroke-width="1.1" fill="none"/>
<circle cx="372.35" cy="331.9" r="1.7" fill="none" stroke="#2d4b9b" stroke-width="1"/>
<circle cx="370.17" cy="344.1" r="1.7" fill="none" stroke="#2d4b9b" stroke-width="1"/>
<circle cx="374.53" cy="348" r="1.7" fill="none" stroke="#2d4b9b" stroke-width="1"/>
<circle cx="371.26" cy="348" r="1.7" fill="none" stroke="#2d4b9b" stroke-width="1"/>
<circle cx="373.44" cy="355" r="1.7" fill="none" stroke="#2d4b9b" stroke-width="1"/>
<line x1="372.35" y1="340.1" x2="372.35" y2="350.12" stroke="#2d4b9b" stroke-width="1" />
<line x1="370.4" y1="340.1" x2="374.3" y2="340.1" stroke="#2d4b9b" stroke-width="1" />
<line x1="370.4" y1="350.12" x2="374.3" y2="350.12" stroke="#2d4b9b" stroke-width="1" />
<rect x="378.35" y="317.87" width="6.7" height="63.23" fill="#fff" stroke="none" stroke-width="1" />
<polyline points="378.35,381.1 378.35,317.87 385.05,317.87 385.05,381.1" stroke="#e45f62" stroke-width="1.1" fill="none"/>
<circle cx="381.7" cy="291.4" r="1.7" fill="none" stroke="#e45f62" stroke-width="1"/>
<circle cx="379.52" cy="290.3" r="1.7" fill="none" stroke="#e45f62" stroke-width="1"/>
<circle cx="383.88" cy="332.4" r="1.7" fill="none" stroke="#e45f62" stroke-width="1"/>
<circle cx="380.61" cy="340.4" r="1.7" fill="none" stroke="#e45f62" stroke-width="1"/>
<circle cx="382.79" cy="349.8" r="1.7" fill="none" stroke="#e45f62" stroke-width="1"/>
<line x1="381.7" y1="301.37" x2="381.7" y2="333.26" stroke="#e45f62" stroke-width="1" />
<line x1="379.75" y1="301.37" x2="383.65" y2="301.37" stroke="#e45f62" stroke-width="1" />
<line x1="379.75" y1="333.26" x2="383.65" y2="333.26" stroke="#e45f62" stroke-width="1" />
<rect x="395.75" y="375.5" width="6.7" height="5.6" fill="#fff" stroke="none" stroke-width="1" />
<polyline points="395.75,381.1 395.75,375.5 402.45,375.5 402.45,381.1" stroke="#6a6a6a" stroke-width="1.1" fill="none"/>
<circle cx="399.1" cy="372.44" r="1.7" fill="none" stroke="#6a6a6a" stroke-width="1"/>
<circle cx="396.92" cy="373.58" r="1.7" fill="none" stroke="#6a6a6a" stroke-width="1"/>
<circle cx="401.28" cy="374.72" r="1.7" fill="none" stroke="#6a6a6a" stroke-width="1"/>
<circle cx="398.01" cy="372.9" r="1.7" fill="none" stroke="#6a6a6a" stroke-width="1"/>
<circle cx="400.19" cy="374.27" r="1.7" fill="none" stroke="#6a6a6a" stroke-width="1"/>
<line x1="399.1" y1="374.27" x2="399.1" y2="375.63" stroke="#6a6a6a" stroke-width="1" />
<line x1="397.15" y1="374.27" x2="401.05" y2="374.27" stroke="#6a6a6a" stroke-width="1" />
<line x1="397.15" y1="375.63" x2="401.05" y2="375.63" stroke="#6a6a6a" stroke-width="1" />
<rect x="405.1" y="373.68" width="6.7" height="7.42" fill="#fff" stroke="none" stroke-width="1" />
<polyline points="405.1,381.1 405.1,373.68 411.8,373.68 411.8,381.1" stroke="#eea154" stroke-width="1.1" fill="none"/>
<circle cx="408.45" cy="372.44" r="1.7" fill="none" stroke="#eea154" stroke-width="1"/>
<circle cx="406.27" cy="373.58" r="1.7" fill="none" stroke="#eea154" stroke-width="1"/>
<circle cx="410.63" cy="374.72" r="1.7" fill="none" stroke="#eea154" stroke-width="1"/>
<circle cx="407.36" cy="372.9" r="1.7" fill="none" stroke="#eea154" stroke-width="1"/>
<circle cx="409.54" cy="374.27" r="1.7" fill="none" stroke="#eea154" stroke-width="1"/>
<line x1="408.45" y1="372.44" x2="408.45" y2="373.81" stroke="#eea154" stroke-width="1" />
<line x1="406.5" y1="372.44" x2="410.4" y2="372.44" stroke="#eea154" stroke-width="1" />
<line x1="406.5" y1="373.81" x2="410.4" y2="373.81" stroke="#eea154" stroke-width="1" />
<rect x="414.45" y="367.3" width="6.7" height="13.8" fill="#fff" stroke="none" stroke-width="1" />
<polyline points="414.45,381.1 414.45,367.3 421.15,367.3 421.15,381.1" stroke="#78a9cf" stroke-width="1.1" fill="none"/>
<circle cx="417.8" cy="359.46" r="1.7" fill="none" stroke="#78a9cf" stroke-width="1"/>
<circle cx="415.62" cy="365.15" r="1.7" fill="none" stroke="#78a9cf" stroke-width="1"/>
<circle cx="419.98" cy="368.57" r="1.7" fill="none" stroke="#78a9cf" stroke-width="1"/>
<circle cx="416.71" cy="371.99" r="1.7" fill="none" stroke="#78a9cf" stroke-width="1"/>
<circle cx="418.89" cy="367.43" r="1.7" fill="none" stroke="#78a9cf" stroke-width="1"/>
<line x1="417.8" y1="363.79" x2="417.8" y2="369.71" stroke="#78a9cf" stroke-width="1" />
<line x1="415.85" y1="363.79" x2="419.75" y2="363.79" stroke="#78a9cf" stroke-width="1" />
<line x1="415.85" y1="369.71" x2="419.75" y2="369.71" stroke="#78a9cf" stroke-width="1" />
<rect x="423.8" y="344.75" width="6.7" height="36.35" fill="#fff" stroke="none" stroke-width="1" />
<polyline points="423.8,381.1 423.8,344.75 430.5,344.75 430.5,381.1" stroke="#2d4b9b" stroke-width="1.1" fill="none"/>
<circle cx="427.15" cy="330.4" r="1.7" fill="none" stroke="#2d4b9b" stroke-width="1"/>
<circle cx="424.97" cy="333.3" r="1.7" fill="none" stroke="#2d4b9b" stroke-width="1"/>
<circle cx="429.33" cy="343" r="1.7" fill="none" stroke="#2d4b9b" stroke-width="1"/>
<circle cx="426.06" cy="350" r="1.7" fill="none" stroke="#2d4b9b" stroke-width="1"/>
<circle cx="428.24" cy="355" r="1.7" fill="none" stroke="#2d4b9b" stroke-width="1"/>
<line x1="427.15" y1="335.54" x2="427.15" y2="352.85" stroke="#2d4b9b" stroke-width="1" />
<line x1="425.2" y1="335.54" x2="429.1" y2="335.54" stroke="#2d4b9b" stroke-width="1" />
<line x1="425.2" y1="352.85" x2="429.1" y2="352.85" stroke="#2d4b9b" stroke-width="1" />
<rect x="433.15" y="321.97" width="6.7" height="59.13" fill="#fff" stroke="none" stroke-width="1" />
<polyline points="433.15,381.1 433.15,321.97 439.85,321.97 439.85,381.1" stroke="#e45f62" stroke-width="1.1" fill="none"/>
<circle cx="436.5" cy="297.7" r="1.7" fill="none" stroke="#e45f62" stroke-width="1"/>
<circle cx="434.32" cy="320.5" r="1.7" fill="none" stroke="#e45f62" stroke-width="1"/>
<circle cx="438.68" cy="325" r="1.7" fill="none" stroke="#e45f62" stroke-width="1"/>
<circle cx="435.41" cy="337" r="1.7" fill="none" stroke="#e45f62" stroke-width="1"/>
<circle cx="437.59" cy="337.6" r="1.7" fill="none" stroke="#e45f62" stroke-width="1"/>
<line x1="436.5" y1="312.3" x2="436.5" y2="330.53" stroke="#e45f62" stroke-width="1" />
<line x1="434.55" y1="312.3" x2="438.45" y2="312.3" stroke="#e45f62" stroke-width="1" />
<line x1="434.55" y1="330.53" x2="438.45" y2="330.53" stroke="#e45f62" stroke-width="1" />
<text x="364.3" y="406.9" text-anchor="middle" fill="#1a1a1a" style="font-size:9.4px;" >Day</text>
<text transform="translate(268,321.2) rotate(-90)" text-anchor="middle" fill="#1a1a1a" style="font-size:9.4px;" >Fecal K<tspan dy="-3" style="font-size:6px">+</tspan><tspan dy="3"> (mmol/day)</tspan></text>
<polyline points="291.3,366 291.3,354.1 309.2,354.1 309.2,358" stroke="#333" stroke-width="1" fill="none"/>
<line x1="298.4" y1="358" x2="328.3" y2="359.2" stroke="#333" stroke-width="1" />
<line x1="298.4" y1="360.9" x2="328.3" y2="359.2" stroke="#fff" stroke-width="0.01" />
<text x="303.2" y="350.4" text-anchor="middle" fill="#1a1a1a" style="font-size:8.2px;" >n.s.</text>
<text x="342.5" y="309.1" text-anchor="start" fill="#1a1a1a" style="font-size:8.1px;" ><tspan style="font-style:italic">p</tspan> &lt; 0.0001</text>
<line x1="342.5" y1="311.6" x2="384.4" y2="311.6" stroke="#333" stroke-width="1" />
<text x="342.5" y="326" text-anchor="start" fill="#1a1a1a" style="font-size:8.1px;" ><tspan style="font-style:italic">p</tspan> = 0.0024</text>
<line x1="342.5" y1="328.5" x2="380.9" y2="328.5" stroke="#333" stroke-width="1" />
<text x="342.5" y="341.8" text-anchor="start" fill="#1a1a1a" style="font-size:8.2px;" >n.s.</text>
<line x1="342.5" y1="344.6" x2="363" y2="344.6" stroke="#333" stroke-width="1" />
<text x="342.5" y="357.5" text-anchor="start" fill="#1a1a1a" style="font-size:8.2px;" >n.s.</text>
<line x1="342.5" y1="360.3" x2="356.7" y2="360.3" stroke="#333" stroke-width="1" />
<text x="393.8" y="309.1" text-anchor="start" fill="#1a1a1a" style="font-size:8.1px;" ><tspan style="font-style:italic">p</tspan> &lt; 0.0001</text>
<line x1="393.8" y1="311.6" x2="436.5" y2="311.6" stroke="#333" stroke-width="1" />
<text x="393.8" y="326" text-anchor="start" fill="#1a1a1a" style="font-size:8.1px;" ><tspan style="font-style:italic">p</tspan> = 0.0007</text>
<line x1="393.8" y1="328.5" x2="432.2" y2="328.5" stroke="#333" stroke-width="1" />
<text x="393.8" y="341.8" text-anchor="start" fill="#1a1a1a" style="font-size:8.2px;" >n.s.</text>
<line x1="393.8" y1="344.6" x2="414.5" y2="344.6" stroke="#333" stroke-width="1" />
<text x="393.8" y="357.5" text-anchor="start" fill="#1a1a1a" style="font-size:8.2px;" >n.s.</text>
<line x1="393.8" y1="360.3" x2="406" y2="360.3" stroke="#333" stroke-width="1" />
<text x="474.4" y="273.4" text-anchor="start" fill="#000" style="font-size:18px;font-weight:bold;" >e</text>
<line x1="512.8" y1="261.12" x2="512.8" y2="377.2" stroke="#222" stroke-width="1.2" />
<line x1="508.4" y1="376.6" x2="512.8" y2="376.6" stroke="#222" stroke-width="1.2" />
<text x="507.4" y="379.84" text-anchor="end" fill="#1a1a1a" style="font-size:9px;" >2</text>
<line x1="508.4" y1="347.88" x2="512.8" y2="347.88" stroke="#222" stroke-width="1.2" />
<text x="507.4" y="351.12" text-anchor="end" fill="#1a1a1a" style="font-size:9px;" >4</text>
<line x1="508.4" y1="319.16" x2="512.8" y2="319.16" stroke="#222" stroke-width="1.2" />
<text x="507.4" y="322.4" text-anchor="end" fill="#1a1a1a" style="font-size:9px;" >6</text>
<line x1="508.4" y1="290.44" x2="512.8" y2="290.44" stroke="#222" stroke-width="1.2" />
<text x="507.4" y="293.68" text-anchor="end" fill="#1a1a1a" style="font-size:9px;" >8</text>
<line x1="508.4" y1="261.72" x2="512.8" y2="261.72" stroke="#222" stroke-width="1.2" />
<text x="507.4" y="264.96" text-anchor="end" fill="#1a1a1a" style="font-size:9px;" >10</text>
<line x1="512.8" y1="376.6" x2="670.6" y2="376.6" stroke="#222" stroke-width="1.2" />
<line x1="538.3" y1="376.6" x2="538.3" y2="380.1" stroke="#222" stroke-width="1.2" />
<text x="538.3" y="388.7" text-anchor="middle" fill="#1a1a1a" style="font-size:9px;" >0</text>
<line x1="592" y1="376.6" x2="592" y2="380.1" stroke="#222" stroke-width="1.2" />
<text x="592" y="388.7" text-anchor="middle" fill="#1a1a1a" style="font-size:9px;" >7</text>
<line x1="645.7" y1="376.6" x2="645.7" y2="380.1" stroke="#222" stroke-width="1.2" />
<text x="645.7" y="388.7" text-anchor="middle" fill="#1a1a1a" style="font-size:9px;" >14</text>
<rect x="516.3" y="324.02" width="6.8" height="52.58" fill="#fff" stroke="none" stroke-width="1" />
<polyline points="516.3,376.6 516.3,324.02 523.1,324.02 523.1,376.6" stroke="#6a6a6a" stroke-width="1.1" fill="none"/>
<circle cx="519.7" cy="311.26" r="1.8" fill="none" stroke="#6a6a6a" stroke-width="1"/>
<circle cx="517.49" cy="320.6" r="1.8" fill="none" stroke="#6a6a6a" stroke-width="1"/>
<circle cx="521.91" cy="323.47" r="1.8" fill="none" stroke="#6a6a6a" stroke-width="1"/>
<circle cx="518.59" cy="324.9" r="1.8" fill="none" stroke="#6a6a6a" stroke-width="1"/>
<circle cx="520.81" cy="326.34" r="1.8" fill="none" stroke="#6a6a6a" stroke-width="1"/>
<circle cx="519.7" cy="322.03" r="1.8" fill="none" stroke="#6a6a6a" stroke-width="1"/>
<line x1="519.7" y1="321.31" x2="519.7" y2="325.62" stroke="#6a6a6a" stroke-width="1" />
<line x1="517.73" y1="321.31" x2="521.68" y2="321.31" stroke="#6a6a6a" stroke-width="1" />
<line x1="517.73" y1="325.62" x2="521.68" y2="325.62" stroke="#6a6a6a" stroke-width="1" />
<rect x="525.5" y="322.58" width="6.8" height="54.02" fill="#fff" stroke="none" stroke-width="1" />
<polyline points="525.5,376.6 525.5,322.58 532.3,322.58 532.3,376.6" stroke="#f2b41c" stroke-width="1.1" fill="none"/>
<circle cx="528.9" cy="311.98" r="1.8" fill="none" stroke="#f2b41c" stroke-width="1"/>
<circle cx="526.69" cy="317.72" r="1.8" fill="none" stroke="#f2b41c" stroke-width="1"/>
<circle cx="531.11" cy="320.6" r="1.8" fill="none" stroke="#f2b41c" stroke-width="1"/>
<circle cx="527.79" cy="323.47" r="1.8" fill="none" stroke="#f2b41c" stroke-width="1"/>
<circle cx="530.01" cy="330.65" r="1.8" fill="none" stroke="#f2b41c" stroke-width="1"/>
<circle cx="528.9" cy="321.31" r="1.8" fill="none" stroke="#f2b41c" stroke-width="1"/>
<line x1="528.9" y1="319.16" x2="528.9" y2="324.9" stroke="#f2b41c" stroke-width="1" />
<line x1="526.93" y1="319.16" x2="530.88" y2="319.16" stroke="#f2b41c" stroke-width="1" />
<line x1="526.93" y1="324.9" x2="530.88" y2="324.9" stroke="#f2b41c" stroke-width="1" />
<rect x="534.7" y="323.3" width="6.8" height="53.3" fill="#fff" stroke="none" stroke-width="1" />
<polyline points="534.7,376.6 534.7,323.3 541.5,323.3 541.5,376.6" stroke="#78a9cf" stroke-width="1.1" fill="none"/>
<circle cx="538.1" cy="320.6" r="1.8" fill="none" stroke="#78a9cf" stroke-width="1"/>
<circle cx="535.89" cy="321.31" r="1.8" fill="none" stroke="#78a9cf" stroke-width="1"/>
<circle cx="540.31" cy="322.03" r="1.8" fill="none" stroke="#78a9cf" stroke-width="1"/>
<circle cx="536.99" cy="322.75" r="1.8" fill="none" stroke="#78a9cf" stroke-width="1"/>
<circle cx="539.21" cy="323.47" r="1.8" fill="none" stroke="#78a9cf" stroke-width="1"/>
<line x1="538.1" y1="321.31" x2="538.1" y2="324.19" stroke="#78a9cf" stroke-width="1" />
<line x1="536.12" y1="321.31" x2="540.08" y2="321.31" stroke="#78a9cf" stroke-width="1" />
<line x1="536.12" y1="324.19" x2="540.08" y2="324.19" stroke="#78a9cf" stroke-width="1" />
<rect x="543.9" y="326.89" width="6.8" height="49.71" fill="#fff" stroke="none" stroke-width="1" />
<polyline points="543.9,376.6 543.9,326.89 550.7,326.89 550.7,376.6" stroke="#2d4b9b" stroke-width="1.1" fill="none"/>
<circle cx="547.3" cy="322.03" r="1.8" fill="none" stroke="#2d4b9b" stroke-width="1"/>
<circle cx="545.09" cy="323.47" r="1.8" fill="none" stroke="#2d4b9b" stroke-width="1"/>
<circle cx="549.51" cy="326.34" r="1.8" fill="none" stroke="#2d4b9b" stroke-width="1"/>
<circle cx="546.19" cy="327.78" r="1.8" fill="none" stroke="#2d4b9b" stroke-width="1"/>
<circle cx="548.41" cy="330.65" r="1.8" fill="none" stroke="#2d4b9b" stroke-width="1"/>
<circle cx="547.3" cy="324.9" r="1.8" fill="none" stroke="#2d4b9b" stroke-width="1"/>
<line x1="547.3" y1="324.19" x2="547.3" y2="328.49" stroke="#2d4b9b" stroke-width="1" />
<line x1="545.33" y1="324.19" x2="549.28" y2="324.19" stroke="#2d4b9b" stroke-width="1" />
<line x1="545.33" y1="328.49" x2="549.28" y2="328.49" stroke="#2d4b9b" stroke-width="1" />
<rect x="553.1" y="318.99" width="6.8" height="57.61" fill="#fff" stroke="none" stroke-width="1" />
<polyline points="553.1,376.6 553.1,318.99 559.9,318.99 559.9,376.6" stroke="#e45f62" stroke-width="1.1" fill="none"/>
<circle cx="556.5" cy="313.42" r="1.8" fill="none" stroke="#e45f62" stroke-width="1"/>
<circle cx="554.29" cy="314.85" r="1.8" fill="none" stroke="#e45f62" stroke-width="1"/>
<circle cx="558.71" cy="317.72" r="1.8" fill="none" stroke="#e45f62" stroke-width="1"/>
<circle cx="555.39" cy="320.6" r="1.8" fill="none" stroke="#e45f62" stroke-width="1"/>
<circle cx="557.61" cy="322.03" r="1.8" fill="none" stroke="#e45f62" stroke-width="1"/>
<circle cx="556.5" cy="319.16" r="1.8" fill="none" stroke="#e45f62" stroke-width="1"/>
<line x1="556.5" y1="316.29" x2="556.5" y2="320.6" stroke="#e45f62" stroke-width="1" />
<line x1="554.52" y1="316.29" x2="558.48" y2="316.29" stroke="#e45f62" stroke-width="1" />
<line x1="554.52" y1="320.6" x2="558.48" y2="320.6" stroke="#e45f62" stroke-width="1" />
<rect x="569.8" y="328.33" width="6.8" height="48.27" fill="#fff" stroke="none" stroke-width="1" />
<polyline points="569.8,376.6 569.8,328.33 576.6,328.33 576.6,376.6" stroke="#6a6a6a" stroke-width="1.1" fill="none"/>
<circle cx="573.2" cy="320.6" r="1.8" fill="none" stroke="#6a6a6a" stroke-width="1"/>
<circle cx="570.99" cy="324.9" r="1.8" fill="none" stroke="#6a6a6a" stroke-width="1"/>
<circle cx="575.41" cy="327.06" r="1.8" fill="none" stroke="#6a6a6a" stroke-width="1"/>
<circle cx="572.09" cy="329.21" r="1.8" fill="none" stroke="#6a6a6a" stroke-width="1"/>
<circle cx="574.31" cy="334.96" r="1.8" fill="none" stroke="#6a6a6a" stroke-width="1"/>
<circle cx="573.2" cy="332.08" r="1.8" fill="none" stroke="#6a6a6a" stroke-width="1"/>
<line x1="573.2" y1="324.9" x2="573.2" y2="330.65" stroke="#6a6a6a" stroke-width="1" />
<line x1="571.23" y1="324.9" x2="575.18" y2="324.9" stroke="#6a6a6a" stroke-width="1" />
<line x1="571.23" y1="330.65" x2="575.18" y2="330.65" stroke="#6a6a6a" stroke-width="1" />
<rect x="579" y="327.61" width="6.8" height="48.99" fill="#fff" stroke="none" stroke-width="1" />
<polyline points="579,376.6 579,327.61 585.8,327.61 585.8,376.6" stroke="#f2b41c" stroke-width="1.1" fill="none"/>
<circle cx="582.4" cy="317.72" r="1.8" fill="none" stroke="#f2b41c" stroke-width="1"/>
<circle cx="580.19" cy="324.9" r="1.8" fill="none" stroke="#f2b41c" stroke-width="1"/>
<circle cx="584.61" cy="326.34" r="1.8" fill="none" stroke="#f2b41c" stroke-width="1"/>
<circle cx="581.29" cy="327.78" r="1.8" fill="none" stroke="#f2b41c" stroke-width="1"/>
<circle cx="583.51" cy="329.21" r="1.8" fill="none" stroke="#f2b41c" stroke-width="1"/>
<circle cx="582.4" cy="327.06" r="1.8" fill="none" stroke="#f2b41c" stroke-width="1"/>
<line x1="582.4" y1="325.62" x2="582.4" y2="328.49" stroke="#f2b41c" stroke-width="1" />
<line x1="580.43" y1="325.62" x2="584.38" y2="325.62" stroke="#f2b41c" stroke-width="1" />
<line x1="580.43" y1="328.49" x2="584.38" y2="328.49" stroke="#f2b41c" stroke-width="1" />
<rect x="588.2" y="322.58" width="6.8" height="54.02" fill="#fff" stroke="none" stroke-width="1" />
<polyline points="588.2,376.6 588.2,322.58 595,322.58 595,376.6" stroke="#78a9cf" stroke-width="1.1" fill="none"/>
<circle cx="591.6" cy="314.85" r="1.8" fill="none" stroke="#78a9cf" stroke-width="1"/>
<circle cx="589.39" cy="319.16" r="1.8" fill="none" stroke="#78a9cf" stroke-width="1"/>
<circle cx="593.81" cy="321.31" r="1.8" fill="none" stroke="#78a9cf" stroke-width="1"/>
<circle cx="590.49" cy="323.47" r="1.8" fill="none" stroke="#78a9cf" stroke-width="1"/>
<circle cx="592.71" cy="324.9" r="1.8" fill="none" stroke="#78a9cf" stroke-width="1"/>
<circle cx="591.6" cy="322.03" r="1.8" fill="none" stroke="#78a9cf" stroke-width="1"/>
<line x1="591.6" y1="319.88" x2="591.6" y2="324.19" stroke="#78a9cf" stroke-width="1" />
<line x1="589.62" y1="319.88" x2="593.58" y2="319.88" stroke="#78a9cf" stroke-width="1" />
<line x1="589.62" y1="324.19" x2="593.58" y2="324.19" stroke="#78a9cf" stroke-width="1" />
<rect x="597.4" y="329.76" width="6.8" height="46.84" fill="#fff" stroke="none" stroke-width="1" />
<polyline points="597.4,376.6 597.4,329.76 604.2,329.76 604.2,376.6" stroke="#2d4b9b" stroke-width="1.1" fill="none"/>
<circle cx="600.8" cy="324.9" r="1.8" fill="none" stroke="#2d4b9b" stroke-width="1"/>
<circle cx="598.59" cy="326.34" r="1.8" fill="none" stroke="#2d4b9b" stroke-width="1"/>
<circle cx="603.01" cy="329.21" r="1.8" fill="none" stroke="#2d4b9b" stroke-width="1"/>
<circle cx="599.69" cy="332.08" r="1.8" fill="none" stroke="#2d4b9b" stroke-width="1"/>
<circle cx="601.91" cy="334.96" r="1.8" fill="none" stroke="#2d4b9b" stroke-width="1"/>
<circle cx="600.8" cy="330.65" r="1.8" fill="none" stroke="#2d4b9b" stroke-width="1"/>
<line x1="600.8" y1="327.06" x2="600.8" y2="331.37" stroke="#2d4b9b" stroke-width="1" />
<line x1="598.83" y1="327.06" x2="602.78" y2="327.06" stroke="#2d4b9b" stroke-width="1" />
<line x1="598.83" y1="331.37" x2="602.78" y2="331.37" stroke="#2d4b9b" stroke-width="1" />
<rect x="606.6" y="331.2" width="6.8" height="45.4" fill="#fff" stroke="none" stroke-width="1" />
<polyline points="606.6,376.6 606.6,331.2 613.4,331.2 613.4,376.6" stroke="#e45f62" stroke-width="1.1" fill="none"/>
<circle cx="610" cy="320.6" r="1.8" fill="none" stroke="#e45f62" stroke-width="1"/>
<circle cx="607.79" cy="323.47" r="1.8" fill="none" stroke="#e45f62" stroke-width="1"/>
<circle cx="612.21" cy="326.34" r="1.8" fill="none" stroke="#e45f62" stroke-width="1"/>
<circle cx="608.89" cy="333.52" r="1.8" fill="none" stroke="#e45f62" stroke-width="1"/>
<circle cx="611.11" cy="337.83" r="1.8" fill="none" stroke="#e45f62" stroke-width="1"/>
<circle cx="610" cy="330.65" r="1.8" fill="none" stroke="#e45f62" stroke-width="1"/>
<line x1="610" y1="327.06" x2="610" y2="334.24" stroke="#e45f62" stroke-width="1" />
<line x1="608.02" y1="327.06" x2="611.98" y2="327.06" stroke="#e45f62" stroke-width="1" />
<line x1="608.02" y1="334.24" x2="611.98" y2="334.24" stroke="#e45f62" stroke-width="1" />
<rect x="623.3" y="331.2" width="6.8" height="45.4" fill="#fff" stroke="none" stroke-width="1" />
<polyline points="623.3,376.6 623.3,331.2 630.1,331.2 630.1,376.6" stroke="#6a6a6a" stroke-width="1.1" fill="none"/>
<circle cx="626.7" cy="327.78" r="1.8" fill="none" stroke="#6a6a6a" stroke-width="1"/>
<circle cx="624.49" cy="329.21" r="1.8" fill="none" stroke="#6a6a6a" stroke-width="1"/>
<circle cx="628.91" cy="330.65" r="1.8" fill="none" stroke="#6a6a6a" stroke-width="1"/>
<circle cx="625.59" cy="332.08" r="1.8" fill="none" stroke="#6a6a6a" stroke-width="1"/>
<circle cx="627.81" cy="334.96" r="1.8" fill="none" stroke="#6a6a6a" stroke-width="1"/>
<circle cx="626.7" cy="330.65" r="1.8" fill="none" stroke="#6a6a6a" stroke-width="1"/>
<line x1="626.7" y1="329.21" x2="626.7" y2="332.08" stroke="#6a6a6a" stroke-width="1" />
<line x1="624.73" y1="329.21" x2="628.68" y2="329.21" stroke="#6a6a6a" stroke-width="1" />
<line x1="624.73" y1="332.08" x2="628.68" y2="332.08" stroke="#6a6a6a" stroke-width="1" />
<rect x="632.5" y="329.04" width="6.8" height="47.56" fill="#fff" stroke="none" stroke-width="1" />
<polyline points="632.5,376.6 632.5,329.04 639.3,329.04 639.3,376.6" stroke="#f2b41c" stroke-width="1.1" fill="none"/>
<circle cx="635.9" cy="326.34" r="1.8" fill="none" stroke="#f2b41c" stroke-width="1"/>
<circle cx="633.69" cy="327.78" r="1.8" fill="none" stroke="#f2b41c" stroke-width="1"/>
<circle cx="638.11" cy="328.49" r="1.8" fill="none" stroke="#f2b41c" stroke-width="1"/>
<circle cx="634.79" cy="329.21" r="1.8" fill="none" stroke="#f2b41c" stroke-width="1"/>
<circle cx="637.01" cy="329.93" r="1.8" fill="none" stroke="#f2b41c" stroke-width="1"/>
<circle cx="635.9" cy="327.78" r="1.8" fill="none" stroke="#f2b41c" stroke-width="1"/>
<line x1="635.9" y1="327.06" x2="635.9" y2="329.93" stroke="#f2b41c" stroke-width="1" />
<line x1="633.93" y1="327.06" x2="637.88" y2="327.06" stroke="#f2b41c" stroke-width="1" />
<line x1="633.93" y1="329.93" x2="637.88" y2="329.93" stroke="#f2b41c" stroke-width="1" />
<rect x="641.7" y="332.63" width="6.8" height="43.97" fill="#fff" stroke="none" stroke-width="1" />
<polyline points="641.7,376.6 641.7,332.63 648.5,332.63 648.5,376.6" stroke="#78a9cf" stroke-width="1.1" fill="none"/>
<circle cx="645.1" cy="328.49" r="1.8" fill="none" stroke="#78a9cf" stroke-width="1"/>
<circle cx="642.89" cy="330.65" r="1.8" fill="none" stroke="#78a9cf" stroke-width="1"/>
<circle cx="647.31" cy="332.08" r="1.8" fill="none" stroke="#78a9cf" stroke-width="1"/>
<circle cx="643.99" cy="333.52" r="1.8" fill="none" stroke="#78a9cf" stroke-width="1"/>
<circle cx="646.21" cy="334.24" r="1.8" fill="none" stroke="#78a9cf" stroke-width="1"/>
<circle cx="645.1" cy="332.08" r="1.8" fill="none" stroke="#78a9cf" stroke-width="1"/>
<line x1="645.1" y1="330.65" x2="645.1" y2="333.52" stroke="#78a9cf" stroke-width="1" />
<line x1="643.12" y1="330.65" x2="647.08" y2="330.65" stroke="#78a9cf" stroke-width="1" />
<line x1="643.12" y1="333.52" x2="647.08" y2="333.52" stroke="#78a9cf" stroke-width="1" />
<rect x="650.9" y="334.07" width="6.8" height="42.53" fill="#fff" stroke="none" stroke-width="1" />
<polyline points="650.9,376.6 650.9,334.07 657.7,334.07 657.7,376.6" stroke="#2d4b9b" stroke-width="1.1" fill="none"/>
<circle cx="654.3" cy="329.21" r="1.8" fill="none" stroke="#2d4b9b" stroke-width="1"/>
<circle cx="652.09" cy="332.08" r="1.8" fill="none" stroke="#2d4b9b" stroke-width="1"/>
<circle cx="656.51" cy="333.52" r="1.8" fill="none" stroke="#2d4b9b" stroke-width="1"/>
<circle cx="653.19" cy="334.96" r="1.8" fill="none" stroke="#2d4b9b" stroke-width="1"/>
<circle cx="655.41" cy="336.39" r="1.8" fill="none" stroke="#2d4b9b" stroke-width="1"/>
<circle cx="654.3" cy="333.52" r="1.8" fill="none" stroke="#2d4b9b" stroke-width="1"/>
<line x1="654.3" y1="332.08" x2="654.3" y2="334.96" stroke="#2d4b9b" stroke-width="1" />
<line x1="652.33" y1="332.08" x2="656.28" y2="332.08" stroke="#2d4b9b" stroke-width="1" />
<line x1="652.33" y1="334.96" x2="656.28" y2="334.96" stroke="#2d4b9b" stroke-width="1" />
<rect x="660.1" y="333.35" width="6.8" height="43.25" fill="#fff" stroke="none" stroke-width="1" />
<polyline points="660.1,376.6 660.1,333.35 666.9,333.35 666.9,376.6" stroke="#e45f62" stroke-width="1.1" fill="none"/>
<circle cx="663.5" cy="327.78" r="1.8" fill="none" stroke="#e45f62" stroke-width="1"/>
<circle cx="661.29" cy="330.65" r="1.8" fill="none" stroke="#e45f62" stroke-width="1"/>
<circle cx="665.71" cy="332.8" r="1.8" fill="none" stroke="#e45f62" stroke-width="1"/>
<circle cx="662.39" cy="334.24" r="1.8" fill="none" stroke="#e45f62" stroke-width="1"/>
<circle cx="664.61" cy="336.39" r="1.8" fill="none" stroke="#e45f62" stroke-width="1"/>
<circle cx="663.5" cy="332.08" r="1.8" fill="none" stroke="#e45f62" stroke-width="1"/>
<line x1="663.5" y1="331.37" x2="663.5" y2="334.24" stroke="#e45f62" stroke-width="1" />
<line x1="661.52" y1="331.37" x2="665.48" y2="331.37" stroke="#e45f62" stroke-width="1" />
<line x1="661.52" y1="334.24" x2="665.48" y2="334.24" stroke="#e45f62" stroke-width="1" />
<text x="592.7" y="402.3" text-anchor="middle" fill="#1a1a1a" style="font-size:9.3px;" >Day</text>
<text transform="translate(492,316.1) rotate(-90)" text-anchor="middle" fill="#1a1a1a" style="font-size:9px;" >Blood K<tspan dy="-3" style="font-size:6px">+</tspan><tspan dy="3"> (mmol/L)</tspan></text>
<polyline points="519.8,305.4 519.8,290.3 538.3,290.3 538.3,298.7" stroke="#333" stroke-width="1" fill="none"/>
<line x1="526.2" y1="298.7" x2="557.4" y2="298.7" stroke="#333" stroke-width="1" />
<text x="530.6" y="285.9" text-anchor="middle" fill="#1a1a1a" style="font-size:8px;" >n.s.</text>
<polyline points="573.2,305.4 573.2,293.6 591,293.6 591,299.3" stroke="#333" stroke-width="1" fill="none"/>
<line x1="579.9" y1="299.3" x2="611.8" y2="299.3" stroke="#333" stroke-width="1" />
<text x="584.3" y="288.6" text-anchor="middle" fill="#1a1a1a" style="font-size:8px;" >n.s.</text>
<polyline points="626.9,311.4 626.9,292 645.4,292 645.4,298.7" stroke="#333" stroke-width="1" fill="none"/>
<line x1="633" y1="298.7" x2="664.9" y2="298.7" stroke="#333" stroke-width="1" />
<text x="638" y="286.9" text-anchor="middle" fill="#1a1a1a" style="font-size:8px;" >n.s.</text>
<text x="15.6" y="436.9" text-anchor="start" fill="#000" style="font-size:17.8px;font-weight:bold;" >f</text>
<line x1="48.4" y1="437.38" x2="48.4" y2="552.5" stroke="#222" stroke-width="1.2" />
<line x1="44" y1="551.9" x2="48.4" y2="551.9" stroke="#222" stroke-width="1.2" />
<text x="43" y="555.21" text-anchor="end" fill="#1a1a1a" style="font-size:9.2px;" >0</text>
<line x1="44" y1="523.42" x2="48.4" y2="523.42" stroke="#222" stroke-width="1.2" />
<text x="43" y="526.73" text-anchor="end" fill="#1a1a1a" style="font-size:9.2px;" >20</text>
<line x1="44" y1="494.94" x2="48.4" y2="494.94" stroke="#222" stroke-width="1.2" />
<text x="43" y="498.25" text-anchor="end" fill="#1a1a1a" style="font-size:9.2px;" >40</text>
<line x1="44" y1="466.46" x2="48.4" y2="466.46" stroke="#222" stroke-width="1.2" />
<text x="43" y="469.77" text-anchor="end" fill="#1a1a1a" style="font-size:9.2px;" >60</text>
<line x1="44" y1="437.98" x2="48.4" y2="437.98" stroke="#222" stroke-width="1.2" />
<text x="43" y="441.29" text-anchor="end" fill="#1a1a1a" style="font-size:9.2px;" >80</text>
<line x1="48.4" y1="552" x2="170.8" y2="552" stroke="#222" stroke-width="1.2" />
<line x1="68.6" y1="552" x2="68.6" y2="555.5" stroke="#222" stroke-width="1.2" />
<text x="68.6" y="564.2" text-anchor="middle" fill="#1a1a1a" style="font-size:9.2px;" >0</text>
<line x1="109.9" y1="552" x2="109.9" y2="555.5" stroke="#222" stroke-width="1.2" />
<text x="109.9" y="564.2" text-anchor="middle" fill="#1a1a1a" style="font-size:9.2px;" >7</text>
<line x1="151.4" y1="552" x2="151.4" y2="555.5" stroke="#222" stroke-width="1.2" />
<text x="151.4" y="564.2" text-anchor="middle" fill="#1a1a1a" style="font-size:9.2px;" >14</text>
<rect x="53.4" y="493.25" width="8" height="58.75" fill="#fff" stroke="none" stroke-width="1" />
<polyline points="53.4,552 53.4,493.25 61.4,493.25 61.4,552" stroke="#6a6a6a" stroke-width="1.1" fill="none"/>
<circle cx="57.4" cy="475" r="1.65" fill="none" stroke="#6a6a6a" stroke-width="1"/>
<circle cx="54.85" cy="483.55" r="1.65" fill="none" stroke="#6a6a6a" stroke-width="1"/>
<circle cx="59.95" cy="489.24" r="1.65" fill="none" stroke="#6a6a6a" stroke-width="1"/>
<circle cx="56.13" cy="494.94" r="1.65" fill="none" stroke="#6a6a6a" stroke-width="1"/>
<circle cx="58.67" cy="500.64" r="1.65" fill="none" stroke="#6a6a6a" stroke-width="1"/>
<circle cx="57.4" cy="512.03" r="1.65" fill="none" stroke="#6a6a6a" stroke-width="1"/>
<line x1="57.4" y1="486.2" x2="57.4" y2="499.2" stroke="#6a6a6a" stroke-width="1" />
<line x1="55.12" y1="486.2" x2="59.67" y2="486.2" stroke="#6a6a6a" stroke-width="1" />
<line x1="55.12" y1="499.2" x2="59.67" y2="499.2" stroke="#6a6a6a" stroke-width="1" />
<rect x="64.25" y="487.35" width="8" height="64.65" fill="#fff" stroke="none" stroke-width="1" />
<polyline points="64.25,552 64.25,487.35 72.25,487.35 72.25,552" stroke="#2d4b9b" stroke-width="1.1" fill="none"/>
<circle cx="68.25" cy="476.43" r="1.65" fill="none" stroke="#2d4b9b" stroke-width="1"/>
<circle cx="65.7" cy="479.28" r="1.65" fill="none" stroke="#2d4b9b" stroke-width="1"/>
<circle cx="70.8" cy="484.97" r="1.65" fill="none" stroke="#2d4b9b" stroke-width="1"/>
<circle cx="66.98" cy="487.82" r="1.65" fill="none" stroke="#2d4b9b" stroke-width="1"/>
<circle cx="69.52" cy="490.67" r="1.65" fill="none" stroke="#2d4b9b" stroke-width="1"/>
<circle cx="68.25" cy="502.06" r="1.65" fill="none" stroke="#2d4b9b" stroke-width="1"/>
<line x1="68.25" y1="482.1" x2="68.25" y2="491.5" stroke="#2d4b9b" stroke-width="1" />
<line x1="65.97" y1="482.1" x2="70.53" y2="482.1" stroke="#2d4b9b" stroke-width="1" />
<line x1="65.97" y1="491.5" x2="70.53" y2="491.5" stroke="#2d4b9b" stroke-width="1" />
<rect x="75.1" y="491.85" width="8" height="60.15" fill="#fff" stroke="none" stroke-width="1" />
<polyline points="75.1,552 75.1,491.85 83.1,491.85 83.1,552" stroke="#e45f62" stroke-width="1.1" fill="none"/>
<circle cx="79.1" cy="473.58" r="1.65" fill="none" stroke="#e45f62" stroke-width="1"/>
<circle cx="76.55" cy="480.7" r="1.65" fill="none" stroke="#e45f62" stroke-width="1"/>
<circle cx="81.65" cy="484.97" r="1.65" fill="none" stroke="#e45f62" stroke-width="1"/>
<circle cx="77.83" cy="487.82" r="1.65" fill="none" stroke="#e45f62" stroke-width="1"/>
<circle cx="80.37" cy="494.94" r="1.65" fill="none" stroke="#e45f62" stroke-width="1"/>
<circle cx="79.1" cy="519.15" r="1.65" fill="none" stroke="#e45f62" stroke-width="1"/>
<line x1="79.1" y1="484.8" x2="79.1" y2="497.8" stroke="#e45f62" stroke-width="1" />
<line x1="76.82" y1="484.8" x2="81.38" y2="484.8" stroke="#e45f62" stroke-width="1" />
<line x1="76.82" y1="497.8" x2="81.38" y2="497.8" stroke="#e45f62" stroke-width="1" />
<rect x="95" y="496.35" width="8" height="55.65" fill="#fff" stroke="none" stroke-width="1" />
<polyline points="95,552 95,496.35 103,496.35 103,552" stroke="#6a6a6a" stroke-width="1.1" fill="none"/>
<circle cx="99" cy="479.28" r="1.65" fill="none" stroke="#6a6a6a" stroke-width="1"/>
<circle cx="96.45" cy="484.97" r="1.65" fill="none" stroke="#6a6a6a" stroke-width="1"/>
<circle cx="101.55" cy="490.67" r="1.65" fill="none" stroke="#6a6a6a" stroke-width="1"/>
<circle cx="97.73" cy="502.06" r="1.65" fill="none" stroke="#6a6a6a" stroke-width="1"/>
<circle cx="100.27" cy="510.6" r="1.65" fill="none" stroke="#6a6a6a" stroke-width="1"/>
<circle cx="99" cy="509.18" r="1.65" fill="none" stroke="#6a6a6a" stroke-width="1"/>
<line x1="99" y1="490.3" x2="99" y2="501.3" stroke="#6a6a6a" stroke-width="1" />
<line x1="96.72" y1="490.3" x2="101.28" y2="490.3" stroke="#6a6a6a" stroke-width="1" />
<line x1="96.72" y1="501.3" x2="101.28" y2="501.3" stroke="#6a6a6a" stroke-width="1" />
<rect x="105.85" y="503.55" width="8" height="48.45" fill="#fff" stroke="none" stroke-width="1" />
<polyline points="105.85,552 105.85,503.55 113.85,503.55 113.85,552" stroke="#2d4b9b" stroke-width="1.1" fill="none"/>
<circle cx="109.85" cy="503.48" r="1.65" fill="none" stroke="#2d4b9b" stroke-width="1"/>
<circle cx="107.3" cy="504.91" r="1.65" fill="none" stroke="#2d4b9b" stroke-width="1"/>
<circle cx="112.4" cy="506.33" r="1.65" fill="none" stroke="#2d4b9b" stroke-width="1"/>
<circle cx="108.58" cy="507.76" r="1.65" fill="none" stroke="#2d4b9b" stroke-width="1"/>
<circle cx="111.12" cy="509.18" r="1.65" fill="none" stroke="#2d4b9b" stroke-width="1"/>
<circle cx="109.85" cy="510.6" r="1.65" fill="none" stroke="#2d4b9b" stroke-width="1"/>
<line x1="109.85" y1="501" x2="109.85" y2="505" stroke="#2d4b9b" stroke-width="1" />
<line x1="107.57" y1="501" x2="112.12" y2="501" stroke="#2d4b9b" stroke-width="1" />
<line x1="107.57" y1="505" x2="112.12" y2="505" stroke="#2d4b9b" stroke-width="1" />
<rect x="116.7" y="504.75" width="8" height="47.25" fill="#fff" stroke="none" stroke-width="1" />
<polyline points="116.7,552 116.7,504.75 124.7,504.75 124.7,552" stroke="#e45f62" stroke-width="1.1" fill="none"/>
<circle cx="120.7" cy="483.55" r="1.65" fill="none" stroke="#e45f62" stroke-width="1"/>
<circle cx="118.15" cy="497.79" r="1.65" fill="none" stroke="#e45f62" stroke-width="1"/>
<circle cx="123.25" cy="502.06" r="1.65" fill="none" stroke="#e45f62" stroke-width="1"/>
<circle cx="119.43" cy="504.91" r="1.65" fill="none" stroke="#e45f62" stroke-width="1"/>
<circle cx="121.97" cy="509.18" r="1.65" fill="none" stroke="#e45f62" stroke-width="1"/>
<circle cx="120.7" cy="513.45" r="1.65" fill="none" stroke="#e45f62" stroke-width="1"/>
<line x1="120.7" y1="499.1" x2="120.7" y2="509.3" stroke="#e45f62" stroke-width="1" />
<line x1="118.42" y1="499.1" x2="122.98" y2="499.1" stroke="#e45f62" stroke-width="1" />
<line x1="118.42" y1="509.3" x2="122.98" y2="509.3" stroke="#e45f62" stroke-width="1" />
<rect x="136.6" y="488.75" width="8" height="63.25" fill="#fff" stroke="none" stroke-width="1" />
<polyline points="136.6,552 136.6,488.75 144.6,488.75 144.6,552" stroke="#6a6a6a" stroke-width="1.1" fill="none"/>
<circle cx="140.6" cy="466.46" r="1.65" fill="none" stroke="#6a6a6a" stroke-width="1"/>
<circle cx="138.05" cy="479.28" r="1.65" fill="none" stroke="#6a6a6a" stroke-width="1"/>
<circle cx="143.15" cy="486.4" r="1.65" fill="none" stroke="#6a6a6a" stroke-width="1"/>
<circle cx="139.33" cy="489.24" r="1.65" fill="none" stroke="#6a6a6a" stroke-width="1"/>
<circle cx="141.87" cy="500.64" r="1.65" fill="none" stroke="#6a6a6a" stroke-width="1"/>
<circle cx="140.6" cy="487.82" r="1.65" fill="none" stroke="#6a6a6a" stroke-width="1"/>
<line x1="140.6" y1="482.1" x2="140.6" y2="494.3" stroke="#6a6a6a" stroke-width="1" />
<line x1="138.33" y1="482.1" x2="142.88" y2="482.1" stroke="#6a6a6a" stroke-width="1" />
<line x1="138.33" y1="494.3" x2="142.88" y2="494.3" stroke="#6a6a6a" stroke-width="1" />
<rect x="147.45" y="482.05" width="8" height="69.95" fill="#fff" stroke="none" stroke-width="1" />
<polyline points="147.45,552 147.45,482.05 155.45,482.05 155.45,552" stroke="#2d4b9b" stroke-width="1.1" fill="none"/>
<circle cx="151.45" cy="472.16" r="1.65" fill="none" stroke="#2d4b9b" stroke-width="1"/>
<circle cx="148.9" cy="473.58" r="1.65" fill="none" stroke="#2d4b9b" stroke-width="1"/>
<circle cx="154" cy="475" r="1.65" fill="none" stroke="#2d4b9b" stroke-width="1"/>
<circle cx="150.18" cy="477.85" r="1.65" fill="none" stroke="#2d4b9b" stroke-width="1"/>
<circle cx="152.72" cy="486.4" r="1.65" fill="none" stroke="#2d4b9b" stroke-width="1"/>
<circle cx="151.45" cy="487.82" r="1.65" fill="none" stroke="#2d4b9b" stroke-width="1"/>
<line x1="151.45" y1="478" x2="151.45" y2="485" stroke="#2d4b9b" stroke-width="1" />
<line x1="149.18" y1="478" x2="153.73" y2="478" stroke="#2d4b9b" stroke-width="1" />
<line x1="149.18" y1="485" x2="153.73" y2="485" stroke="#2d4b9b" stroke-width="1" />
<rect x="158.3" y="494.95" width="8" height="57.05" fill="#fff" stroke="none" stroke-width="1" />
<polyline points="158.3,552 158.3,494.95 166.3,494.95 166.3,552" stroke="#e45f62" stroke-width="1.1" fill="none"/>
<circle cx="162.3" cy="479.28" r="1.65" fill="none" stroke="#e45f62" stroke-width="1"/>
<circle cx="159.75" cy="486.4" r="1.65" fill="none" stroke="#e45f62" stroke-width="1"/>
<circle cx="164.85" cy="489.24" r="1.65" fill="none" stroke="#e45f62" stroke-width="1"/>
<circle cx="161.03" cy="493.52" r="1.65" fill="none" stroke="#e45f62" stroke-width="1"/>
<circle cx="163.57" cy="497.79" r="1.65" fill="none" stroke="#e45f62" stroke-width="1"/>
<circle cx="162.3" cy="500.64" r="1.65" fill="none" stroke="#e45f62" stroke-width="1"/>
<line x1="162.3" y1="491.3" x2="162.3" y2="497.5" stroke="#e45f62" stroke-width="1" />
<line x1="160.03" y1="491.3" x2="164.58" y2="491.3" stroke="#e45f62" stroke-width="1" />
<line x1="160.03" y1="497.5" x2="164.58" y2="497.5" stroke="#e45f62" stroke-width="1" />
<text x="110.5" y="576.7" text-anchor="middle" fill="#1a1a1a" style="font-size:9.2px;" >Day</text>
<text transform="translate(27.2,491.5) rotate(-90)" text-anchor="middle" fill="#1a1a1a" style="font-size:9px;" >Blood Fe<tspan dy="-3" style="font-size:6px">2+</tspan><tspan dy="3"> (μmol/L)</tspan></text>
<polyline points="53.9,469.9 53.9,457.6 72.3,457.6 72.3,463.1" stroke="#333" stroke-width="1" fill="none"/>
<line x1="61" y1="463.1" x2="80.5" y2="463.1" stroke="#333" stroke-width="1" />
<text x="65.5" y="453.5" text-anchor="middle" fill="#1a1a1a" style="font-size:7.8px;" >n.s.</text>
<polyline points="96.6,470.9 96.6,459.2 114.6,459.2 114.6,464.3" stroke="#333" stroke-width="1" fill="none"/>
<line x1="103.4" y1="464.3" x2="125.4" y2="464.3" stroke="#333" stroke-width="1" />
<text x="108" y="454.5" text-anchor="middle" fill="#1a1a1a" style="font-size:7.8px;" >n.s.</text>
<polyline points="138.5,461.1 138.5,449.4 156.5,449.4 156.5,454.1" stroke="#333" stroke-width="1" fill="none"/>
<line x1="145.3" y1="454.1" x2="167.1" y2="454.1" stroke="#333" stroke-width="1" />
<text x="149.7" y="444.7" text-anchor="middle" fill="#1a1a1a" style="font-size:7.8px;" >n.s.</text>
<text x="186.6" y="437.3" text-anchor="start" fill="#000" style="font-size:17.5px;font-weight:bold;" >g</text>
<line x1="223.9" y1="437.5" x2="223.9" y2="552.6" stroke="#222" stroke-width="1.2" />
<line x1="219.5" y1="552" x2="223.9" y2="552" stroke="#222" stroke-width="1.2" />
<text x="218.5" y="555.31" text-anchor="end" fill="#1a1a1a" style="font-size:9.2px;" >0</text>
<line x1="219.5" y1="523.52" x2="223.9" y2="523.52" stroke="#222" stroke-width="1.2" />
<text x="218.5" y="526.84" text-anchor="end" fill="#1a1a1a" style="font-size:9.2px;" >250</text>
<line x1="219.5" y1="495.05" x2="223.9" y2="495.05" stroke="#222" stroke-width="1.2" />
<text x="218.5" y="498.36" text-anchor="end" fill="#1a1a1a" style="font-size:9.2px;" >500</text>
<line x1="219.5" y1="466.57" x2="223.9" y2="466.57" stroke="#222" stroke-width="1.2" />
<text x="218.5" y="469.89" text-anchor="end" fill="#1a1a1a" style="font-size:9.2px;" >750</text>
<line x1="219.5" y1="438.1" x2="223.9" y2="438.1" stroke="#222" stroke-width="1.2" />
<text x="218.5" y="441.41" text-anchor="end" fill="#1a1a1a" style="font-size:9.2px;" >1000</text>
<line x1="223.9" y1="552" x2="345.8" y2="552" stroke="#222" stroke-width="1.2" />
<line x1="244" y1="552" x2="244" y2="555.5" stroke="#222" stroke-width="1.2" />
<text x="244" y="564.2" text-anchor="middle" fill="#1a1a1a" style="font-size:9.2px;" >0</text>
<line x1="285.5" y1="552" x2="285.5" y2="555.5" stroke="#222" stroke-width="1.2" />
<text x="285.5" y="564.2" text-anchor="middle" fill="#1a1a1a" style="font-size:9.2px;" >7</text>
<line x1="326.4" y1="552" x2="326.4" y2="555.5" stroke="#222" stroke-width="1.2" />
<text x="326.4" y="564.2" text-anchor="middle" fill="#1a1a1a" style="font-size:9.2px;" >14</text>
<rect x="228.4" y="511.15" width="8.1" height="40.85" fill="#fff" stroke="none" stroke-width="1" />
<polyline points="228.4,552 228.4,511.15 236.5,511.15 236.5,552" stroke="#6a6a6a" stroke-width="1.1" fill="none"/>
<circle cx="232.45" cy="498.47" r="1.65" fill="none" stroke="#6a6a6a" stroke-width="1"/>
<circle cx="229.87" cy="507.58" r="1.65" fill="none" stroke="#6a6a6a" stroke-width="1"/>
<circle cx="235.03" cy="508.72" r="1.65" fill="none" stroke="#6a6a6a" stroke-width="1"/>
<circle cx="231.16" cy="511" r="1.65" fill="none" stroke="#6a6a6a" stroke-width="1"/>
<circle cx="233.74" cy="517.83" r="1.65" fill="none" stroke="#6a6a6a" stroke-width="1"/>
<circle cx="232.45" cy="530.36" r="1.65" fill="none" stroke="#6a6a6a" stroke-width="1"/>
<line x1="232.45" y1="506.8" x2="232.45" y2="514.4" stroke="#6a6a6a" stroke-width="1" />
<line x1="230.15" y1="506.8" x2="234.75" y2="506.8" stroke="#6a6a6a" stroke-width="1" />
<line x1="230.15" y1="514.4" x2="234.75" y2="514.4" stroke="#6a6a6a" stroke-width="1" />
<rect x="239.25" y="509.85" width="8.1" height="42.15" fill="#fff" stroke="none" stroke-width="1" />
<polyline points="239.25,552 239.25,509.85 247.35,509.85 247.35,552" stroke="#2d4b9b" stroke-width="1.1" fill="none"/>
<circle cx="243.3" cy="500.75" r="1.65" fill="none" stroke="#2d4b9b" stroke-width="1"/>
<circle cx="240.72" cy="501.31" r="1.65" fill="none" stroke="#2d4b9b" stroke-width="1"/>
<circle cx="245.88" cy="501.88" r="1.65" fill="none" stroke="#2d4b9b" stroke-width="1"/>
<circle cx="242.01" cy="506.44" r="1.65" fill="none" stroke="#2d4b9b" stroke-width="1"/>
<circle cx="244.59" cy="517.83" r="1.65" fill="none" stroke="#2d4b9b" stroke-width="1"/>
<circle cx="243.3" cy="534.91" r="1.65" fill="none" stroke="#2d4b9b" stroke-width="1"/>
<line x1="243.3" y1="501.9" x2="243.3" y2="516.7" stroke="#2d4b9b" stroke-width="1" />
<line x1="241" y1="501.9" x2="245.6" y2="501.9" stroke="#2d4b9b" stroke-width="1" />
<line x1="241" y1="516.7" x2="245.6" y2="516.7" stroke="#2d4b9b" stroke-width="1" />
<rect x="250.1" y="503.65" width="8.1" height="48.35" fill="#fff" stroke="none" stroke-width="1" />
<polyline points="250.1,552 250.1,503.65 258.2,503.65 258.2,552" stroke="#e45f62" stroke-width="1.1" fill="none"/>
<circle cx="254.15" cy="485.94" r="1.65" fill="none" stroke="#e45f62" stroke-width="1"/>
<circle cx="251.57" cy="487.08" r="1.65" fill="none" stroke="#e45f62" stroke-width="1"/>
<circle cx="256.73" cy="488.22" r="1.65" fill="none" stroke="#e45f62" stroke-width="1"/>
<circle cx="252.86" cy="508.72" r="1.65" fill="none" stroke="#e45f62" stroke-width="1"/>
<circle cx="255.44" cy="517.83" r="1.65" fill="none" stroke="#e45f62" stroke-width="1"/>
<circle cx="254.15" cy="525.8" r="1.65" fill="none" stroke="#e45f62" stroke-width="1"/>
<line x1="254.15" y1="495.7" x2="254.15" y2="510.5" stroke="#e45f62" stroke-width="1" />
<line x1="251.85" y1="495.7" x2="256.45" y2="495.7" stroke="#e45f62" stroke-width="1" />
<line x1="251.85" y1="510.5" x2="256.45" y2="510.5" stroke="#e45f62" stroke-width="1" />
<rect x="269.9" y="505.45" width="8.1" height="46.55" fill="#fff" stroke="none" stroke-width="1" />
<polyline points="269.9,552 269.9,505.45 278,505.45 278,552" stroke="#6a6a6a" stroke-width="1.1" fill="none"/>
<circle cx="273.95" cy="493.91" r="1.65" fill="none" stroke="#6a6a6a" stroke-width="1"/>
<circle cx="271.37" cy="504.16" r="1.65" fill="none" stroke="#6a6a6a" stroke-width="1"/>
<circle cx="276.53" cy="504.73" r="1.65" fill="none" stroke="#6a6a6a" stroke-width="1"/>
<circle cx="272.66" cy="505.3" r="1.65" fill="none" stroke="#6a6a6a" stroke-width="1"/>
<circle cx="275.24" cy="506.44" r="1.65" fill="none" stroke="#6a6a6a" stroke-width="1"/>
<circle cx="273.95" cy="508.72" r="1.65" fill="none" stroke="#6a6a6a" stroke-width="1"/>
<line x1="273.95" y1="503.1" x2="273.95" y2="506.7" stroke="#6a6a6a" stroke-width="1" />
<line x1="271.65" y1="503.1" x2="276.25" y2="503.1" stroke="#6a6a6a" stroke-width="1" />
<line x1="271.65" y1="506.7" x2="276.25" y2="506.7" stroke="#6a6a6a" stroke-width="1" />
<rect x="280.75" y="512.85" width="8.1" height="39.15" fill="#fff" stroke="none" stroke-width="1" />
<polyline points="280.75,552 280.75,512.85 288.85,512.85 288.85,552" stroke="#2d4b9b" stroke-width="1.1" fill="none"/>
<circle cx="284.8" cy="500.18" r="1.65" fill="none" stroke="#2d4b9b" stroke-width="1"/>
<circle cx="282.22" cy="501.88" r="1.65" fill="none" stroke="#2d4b9b" stroke-width="1"/>
<circle cx="287.38" cy="504.16" r="1.65" fill="none" stroke="#2d4b9b" stroke-width="1"/>
<circle cx="283.51" cy="512.13" r="1.65" fill="none" stroke="#2d4b9b" stroke-width="1"/>
<circle cx="286.09" cy="522.39" r="1.65" fill="none" stroke="#2d4b9b" stroke-width="1"/>
<circle cx="284.8" cy="523.52" r="1.65" fill="none" stroke="#2d4b9b" stroke-width="1"/>
<line x1="284.8" y1="507.3" x2="284.8" y2="517.3" stroke="#2d4b9b" stroke-width="1" />
<line x1="282.5" y1="507.3" x2="287.1" y2="507.3" stroke="#2d4b9b" stroke-width="1" />
<line x1="282.5" y1="517.3" x2="287.1" y2="517.3" stroke="#2d4b9b" stroke-width="1" />
<rect x="291.6" y="497.45" width="8.1" height="54.55" fill="#fff" stroke="none" stroke-width="1" />
<polyline points="291.6,552 291.6,497.45 299.7,497.45 299.7,552" stroke="#e45f62" stroke-width="1.1" fill="none"/>
<circle cx="295.65" cy="475.69" r="1.65" fill="none" stroke="#e45f62" stroke-width="1"/>
<circle cx="293.07" cy="483.66" r="1.65" fill="none" stroke="#e45f62" stroke-width="1"/>
<circle cx="298.23" cy="489.36" r="1.65" fill="none" stroke="#e45f62" stroke-width="1"/>
<circle cx="294.36" cy="495.05" r="1.65" fill="none" stroke="#e45f62" stroke-width="1"/>
<circle cx="296.94" cy="508.72" r="1.65" fill="none" stroke="#e45f62" stroke-width="1"/>
<circle cx="295.65" cy="531.5" r="1.65" fill="none" stroke="#e45f62" stroke-width="1"/>
<line x1="295.65" y1="488.2" x2="295.65" y2="505.6" stroke="#e45f62" stroke-width="1" />
<line x1="293.35" y1="488.2" x2="297.95" y2="488.2" stroke="#e45f62" stroke-width="1" />
<line x1="293.35" y1="505.6" x2="297.95" y2="505.6" stroke="#e45f62" stroke-width="1" />
<rect x="311.4" y="493.75" width="8.1" height="58.25" fill="#fff" stroke="none" stroke-width="1" />
<polyline points="311.4,552 311.4,493.75 319.5,493.75 319.5,552" stroke="#6a6a6a" stroke-width="1.1" fill="none"/>
<circle cx="315.45" cy="482.52" r="1.65" fill="none" stroke="#6a6a6a" stroke-width="1"/>
<circle cx="312.87" cy="487.08" r="1.65" fill="none" stroke="#6a6a6a" stroke-width="1"/>
<circle cx="318.03" cy="491.63" r="1.65" fill="none" stroke="#6a6a6a" stroke-width="1"/>
<circle cx="314.16" cy="495.05" r="1.65" fill="none" stroke="#6a6a6a" stroke-width="1"/>
<circle cx="316.74" cy="498.47" r="1.65" fill="none" stroke="#6a6a6a" stroke-width="1"/>
<circle cx="315.45" cy="504.16" r="1.65" fill="none" stroke="#6a6a6a" stroke-width="1"/>
<line x1="315.45" y1="490.7" x2="315.45" y2="495.7" stroke="#6a6a6a" stroke-width="1" />
<line x1="313.15" y1="490.7" x2="317.75" y2="490.7" stroke="#6a6a6a" stroke-width="1" />
<line x1="313.15" y1="495.7" x2="317.75" y2="495.7" stroke="#6a6a6a" stroke-width="1" />
<rect x="322.25" y="502.45" width="8.1" height="49.55" fill="#fff" stroke="none" stroke-width="1" />
<polyline points="322.25,552 322.25,502.45 330.35,502.45 330.35,552" stroke="#2d4b9b" stroke-width="1.1" fill="none"/>
<circle cx="326.3" cy="482.52" r="1.65" fill="none" stroke="#2d4b9b" stroke-width="1"/>
<circle cx="323.72" cy="488.22" r="1.65" fill="none" stroke="#2d4b9b" stroke-width="1"/>
<circle cx="328.88" cy="500.75" r="1.65" fill="none" stroke="#2d4b9b" stroke-width="1"/>
<circle cx="325.01" cy="504.16" r="1.65" fill="none" stroke="#2d4b9b" stroke-width="1"/>
<circle cx="327.59" cy="514.41" r="1.65" fill="none" stroke="#2d4b9b" stroke-width="1"/>
<circle cx="326.3" cy="521.25" r="1.65" fill="none" stroke="#2d4b9b" stroke-width="1"/>
<line x1="326.3" y1="495.7" x2="326.3" y2="508.1" stroke="#2d4b9b" stroke-width="1" />
<line x1="324" y1="495.7" x2="328.6" y2="495.7" stroke="#2d4b9b" stroke-width="1" />
<line x1="324" y1="508.1" x2="328.6" y2="508.1" stroke="#2d4b9b" stroke-width="1" />
<rect x="333.1" y="482.55" width="8.1" height="69.45" fill="#fff" stroke="none" stroke-width="1" />
<polyline points="333.1,552 333.1,482.55 341.2,482.55 341.2,552" stroke="#e45f62" stroke-width="1.1" fill="none"/>
<circle cx="337.15" cy="468.85" r="1.65" fill="none" stroke="#e45f62" stroke-width="1"/>
<circle cx="334.57" cy="469.99" r="1.65" fill="none" stroke="#e45f62" stroke-width="1"/>
<circle cx="339.73" cy="476.83" r="1.65" fill="none" stroke="#e45f62" stroke-width="1"/>
<circle cx="335.86" cy="479.1" r="1.65" fill="none" stroke="#e45f62" stroke-width="1"/>
<circle cx="338.44" cy="485.94" r="1.65" fill="none" stroke="#e45f62" stroke-width="1"/>
<circle cx="337.15" cy="488.22" r="1.65" fill="none" stroke="#e45f62" stroke-width="1"/>
<line x1="337.15" y1="477.6" x2="337.15" y2="486.4" stroke="#e45f62" stroke-width="1" />
<line x1="334.85" y1="477.6" x2="339.45" y2="477.6" stroke="#e45f62" stroke-width="1" />
<line x1="334.85" y1="486.4" x2="339.45" y2="486.4" stroke="#e45f62" stroke-width="1" />
<text x="286.2" y="576.8" text-anchor="middle" fill="#1a1a1a" style="font-size:9.2px;" >Day</text>
<text transform="translate(195,495.7) rotate(-90)" text-anchor="middle" fill="#1a1a1a" style="font-size:9px;" >Transferrin (ng/mL)</text>
<polyline points="231.4,484 231.4,472.6 250,472.6 250,477.6" stroke="#333" stroke-width="1" fill="none"/>
<line x1="238.3" y1="477.6" x2="260.6" y2="477.6" stroke="#333" stroke-width="1" />
<text x="242.5" y="468.4" text-anchor="middle" fill="#1a1a1a" style="font-size:7.8px;" >n.s.</text>
<polyline points="271.3,475.1 271.3,464.2 289.2,464.2 289.2,468.4" stroke="#333" stroke-width="1" fill="none"/>
<line x1="278" y1="468.4" x2="300.3" y2="468.4" stroke="#333" stroke-width="1" />
<text x="282.2" y="459.2" text-anchor="middle" fill="#1a1a1a" style="font-size:7.8px;" >n.s.</text>
<polyline points="314,469.6 314,458.5 331.9,458.5 331.9,464.2" stroke="#333" stroke-width="1" fill="none"/>
<line x1="321" y1="464.2" x2="342.5" y2="464.2" stroke="#333" stroke-width="1" />
<text x="325.2" y="454.7" text-anchor="middle" fill="#1a1a1a" style="font-size:7.8px;" >n.s.</text>
<text x="369.8" y="437.4" text-anchor="start" fill="#000" style="font-size:18px;font-weight:bold;" >h</text>
<line x1="407" y1="437.28" x2="407" y2="552.6" stroke="#222" stroke-width="1.2" />
<line x1="402.6" y1="552" x2="407" y2="552" stroke="#222" stroke-width="1.2" />
<text x="401.6" y="555.31" text-anchor="end" fill="#1a1a1a" style="font-size:9.2px;" >200</text>
<line x1="402.6" y1="523.47" x2="407" y2="523.47" stroke="#222" stroke-width="1.2" />
<text x="401.6" y="526.78" text-anchor="end" fill="#1a1a1a" style="font-size:9.2px;" >300</text>
<line x1="402.6" y1="494.94" x2="407" y2="494.94" stroke="#222" stroke-width="1.2" />
<text x="401.6" y="498.25" text-anchor="end" fill="#1a1a1a" style="font-size:9.2px;" >400</text>
<line x1="402.6" y1="466.41" x2="407" y2="466.41" stroke="#222" stroke-width="1.2" />
<text x="401.6" y="469.72" text-anchor="end" fill="#1a1a1a" style="font-size:9.2px;" >500</text>
<line x1="402.6" y1="437.88" x2="407" y2="437.88" stroke="#222" stroke-width="1.2" />
<text x="401.6" y="441.19" text-anchor="end" fill="#1a1a1a" style="font-size:9.2px;" >600</text>
<line x1="407" y1="552" x2="530.2" y2="552" stroke="#222" stroke-width="1.2" />
<line x1="427.4" y1="552" x2="427.4" y2="555.5" stroke="#222" stroke-width="1.2" />
<text x="427.4" y="564.2" text-anchor="middle" fill="#1a1a1a" style="font-size:9.2px;" >0</text>
<line x1="468.6" y1="552" x2="468.6" y2="555.5" stroke="#222" stroke-width="1.2" />
<text x="468.6" y="564.2" text-anchor="middle" fill="#1a1a1a" style="font-size:9.2px;" >7</text>
<line x1="509.7" y1="552" x2="509.7" y2="555.5" stroke="#222" stroke-width="1.2" />
<text x="509.7" y="564.2" text-anchor="middle" fill="#1a1a1a" style="font-size:9.2px;" >14</text>
<rect x="412.05" y="496.25" width="7.9" height="55.75" fill="#fff" stroke="none" stroke-width="1" />
<polyline points="412.05,552 412.05,496.25 419.95,496.25 419.95,552" stroke="#6a6a6a" stroke-width="1.1" fill="none"/>
<circle cx="416" cy="477.82" r="1.65" fill="none" stroke="#6a6a6a" stroke-width="1"/>
<circle cx="413.48" cy="486.38" r="1.65" fill="none" stroke="#6a6a6a" stroke-width="1"/>
<circle cx="418.52" cy="492.09" r="1.65" fill="none" stroke="#6a6a6a" stroke-width="1"/>
<circle cx="414.74" cy="497.79" r="1.65" fill="none" stroke="#6a6a6a" stroke-width="1"/>
<circle cx="417.26" cy="503.5" r="1.65" fill="none" stroke="#6a6a6a" stroke-width="1"/>
<circle cx="416" cy="509.2" r="1.65" fill="none" stroke="#6a6a6a" stroke-width="1"/>
<line x1="416" y1="490.7" x2="416" y2="500.7" stroke="#6a6a6a" stroke-width="1" />
<line x1="413.75" y1="490.7" x2="418.25" y2="490.7" stroke="#6a6a6a" stroke-width="1" />
<line x1="413.75" y1="500.7" x2="418.25" y2="500.7" stroke="#6a6a6a" stroke-width="1" />
<rect x="422.95" y="490.05" width="7.9" height="61.95" fill="#fff" stroke="none" stroke-width="1" />
<polyline points="422.95,552 422.95,490.05 430.85,490.05 430.85,552" stroke="#2d4b9b" stroke-width="1.1" fill="none"/>
<circle cx="426.9" cy="477.82" r="1.65" fill="none" stroke="#2d4b9b" stroke-width="1"/>
<circle cx="424.38" cy="486.38" r="1.65" fill="none" stroke="#2d4b9b" stroke-width="1"/>
<circle cx="429.42" cy="489.23" r="1.65" fill="none" stroke="#2d4b9b" stroke-width="1"/>
<circle cx="425.64" cy="492.09" r="1.65" fill="none" stroke="#2d4b9b" stroke-width="1"/>
<circle cx="428.16" cy="497.79" r="1.65" fill="none" stroke="#2d4b9b" stroke-width="1"/>
<circle cx="426.9" cy="500.65" r="1.65" fill="none" stroke="#2d4b9b" stroke-width="1"/>
<line x1="426.9" y1="487" x2="426.9" y2="492" stroke="#2d4b9b" stroke-width="1" />
<line x1="424.65" y1="487" x2="429.15" y2="487" stroke="#2d4b9b" stroke-width="1" />
<line x1="424.65" y1="492" x2="429.15" y2="492" stroke="#2d4b9b" stroke-width="1" />
<rect x="433.85" y="490.75" width="7.9" height="61.25" fill="#fff" stroke="none" stroke-width="1" />
<polyline points="433.85,552 433.85,490.75 441.75,490.75 441.75,552" stroke="#e45f62" stroke-width="1.1" fill="none"/>
<circle cx="437.8" cy="472.12" r="1.65" fill="none" stroke="#e45f62" stroke-width="1"/>
<circle cx="435.28" cy="483.53" r="1.65" fill="none" stroke="#e45f62" stroke-width="1"/>
<circle cx="440.32" cy="489.23" r="1.65" fill="none" stroke="#e45f62" stroke-width="1"/>
<circle cx="436.54" cy="494.94" r="1.65" fill="none" stroke="#e45f62" stroke-width="1"/>
<circle cx="439.06" cy="496.37" r="1.65" fill="none" stroke="#e45f62" stroke-width="1"/>
<circle cx="437.8" cy="497.79" r="1.65" fill="none" stroke="#e45f62" stroke-width="1"/>
<line x1="437.8" y1="485.8" x2="437.8" y2="494.6" stroke="#e45f62" stroke-width="1" />
<line x1="435.55" y1="485.8" x2="440.05" y2="485.8" stroke="#e45f62" stroke-width="1" />
<line x1="435.55" y1="494.6" x2="440.05" y2="494.6" stroke="#e45f62" stroke-width="1" />
<rect x="453.75" y="490.05" width="7.9" height="61.95" fill="#fff" stroke="none" stroke-width="1" />
<polyline points="453.75,552 453.75,490.05 461.65,490.05 461.65,552" stroke="#6a6a6a" stroke-width="1.1" fill="none"/>
<circle cx="457.7" cy="464.98" r="1.65" fill="none" stroke="#6a6a6a" stroke-width="1"/>
<circle cx="455.18" cy="469.26" r="1.65" fill="none" stroke="#6a6a6a" stroke-width="1"/>
<circle cx="460.22" cy="483.53" r="1.65" fill="none" stroke="#6a6a6a" stroke-width="1"/>
<circle cx="456.44" cy="494.94" r="1.65" fill="none" stroke="#6a6a6a" stroke-width="1"/>
<circle cx="458.96" cy="503.5" r="1.65" fill="none" stroke="#6a6a6a" stroke-width="1"/>
<circle cx="457.7" cy="517.76" r="1.65" fill="none" stroke="#6a6a6a" stroke-width="1"/>
<line x1="457.7" y1="480.8" x2="457.7" y2="498.2" stroke="#6a6a6a" stroke-width="1" />
<line x1="455.45" y1="480.8" x2="459.95" y2="480.8" stroke="#6a6a6a" stroke-width="1" />
<line x1="455.45" y1="498.2" x2="459.95" y2="498.2" stroke="#6a6a6a" stroke-width="1" />
<rect x="464.65" y="493.05" width="7.9" height="58.95" fill="#fff" stroke="none" stroke-width="1" />
<polyline points="464.65,552 464.65,493.05 472.55,493.05 472.55,552" stroke="#2d4b9b" stroke-width="1.1" fill="none"/>
<circle cx="468.6" cy="452.14" r="1.65" fill="none" stroke="#2d4b9b" stroke-width="1"/>
<circle cx="466.08" cy="472.12" r="1.65" fill="none" stroke="#2d4b9b" stroke-width="1"/>
<circle cx="471.12" cy="497.79" r="1.65" fill="none" stroke="#2d4b9b" stroke-width="1"/>
<circle cx="467.34" cy="499.22" r="1.65" fill="none" stroke="#2d4b9b" stroke-width="1"/>
<circle cx="469.86" cy="500.65" r="1.65" fill="none" stroke="#2d4b9b" stroke-width="1"/>
<circle cx="468.6" cy="526.32" r="1.65" fill="none" stroke="#2d4b9b" stroke-width="1"/>
<line x1="468.6" y1="480.8" x2="468.6" y2="504.2" stroke="#2d4b9b" stroke-width="1" />
<line x1="466.35" y1="480.8" x2="470.85" y2="480.8" stroke="#2d4b9b" stroke-width="1" />
<line x1="466.35" y1="504.2" x2="470.85" y2="504.2" stroke="#2d4b9b" stroke-width="1" />
<rect x="475.55" y="498.75" width="7.9" height="53.25" fill="#fff" stroke="none" stroke-width="1" />
<polyline points="475.55,552 475.55,498.75 483.45,498.75 483.45,552" stroke="#e45f62" stroke-width="1.1" fill="none"/>
<circle cx="479.5" cy="463.56" r="1.65" fill="none" stroke="#e45f62" stroke-width="1"/>
<circle cx="476.98" cy="477.82" r="1.65" fill="none" stroke="#e45f62" stroke-width="1"/>
<circle cx="482.02" cy="497.79" r="1.65" fill="none" stroke="#e45f62" stroke-width="1"/>
<circle cx="478.24" cy="506.35" r="1.65" fill="none" stroke="#e45f62" stroke-width="1"/>
<circle cx="480.76" cy="512.06" r="1.65" fill="none" stroke="#e45f62" stroke-width="1"/>
<circle cx="479.5" cy="543.44" r="1.65" fill="none" stroke="#e45f62" stroke-width="1"/>
<line x1="479.5" y1="485.8" x2="479.5" y2="510.6" stroke="#e45f62" stroke-width="1" />
<line x1="477.25" y1="485.8" x2="481.75" y2="485.8" stroke="#e45f62" stroke-width="1" />
<line x1="477.25" y1="510.6" x2="481.75" y2="510.6" stroke="#e45f62" stroke-width="1" />
<rect x="495.45" y="487.95" width="7.9" height="64.05" fill="#fff" stroke="none" stroke-width="1" />
<polyline points="495.45,552 495.45,487.95 503.35,487.95 503.35,552" stroke="#6a6a6a" stroke-width="1.1" fill="none"/>
<circle cx="499.4" cy="469.26" r="1.65" fill="none" stroke="#6a6a6a" stroke-width="1"/>
<circle cx="496.88" cy="472.12" r="1.65" fill="none" stroke="#6a6a6a" stroke-width="1"/>
<circle cx="501.92" cy="486.38" r="1.65" fill="none" stroke="#6a6a6a" stroke-width="1"/>
<circle cx="498.14" cy="492.09" r="1.65" fill="none" stroke="#6a6a6a" stroke-width="1"/>
<circle cx="500.66" cy="494.94" r="1.65" fill="none" stroke="#6a6a6a" stroke-width="1"/>
<circle cx="499.4" cy="503.5" r="1.65" fill="none" stroke="#6a6a6a" stroke-width="1"/>
<line x1="499.4" y1="481.9" x2="499.4" y2="492.9" stroke="#6a6a6a" stroke-width="1" />
<line x1="497.15" y1="481.9" x2="501.65" y2="481.9" stroke="#6a6a6a" stroke-width="1" />
<line x1="497.15" y1="492.9" x2="501.65" y2="492.9" stroke="#6a6a6a" stroke-width="1" />
<rect x="506.35" y="469.55" width="7.9" height="82.45" fill="#fff" stroke="none" stroke-width="1" />
<polyline points="506.35,552 506.35,469.55 514.25,469.55 514.25,552" stroke="#2d4b9b" stroke-width="1.1" fill="none"/>
<circle cx="510.3" cy="463.56" r="1.65" fill="none" stroke="#2d4b9b" stroke-width="1"/>
<circle cx="507.78" cy="464.98" r="1.65" fill="none" stroke="#2d4b9b" stroke-width="1"/>
<circle cx="512.82" cy="466.41" r="1.65" fill="none" stroke="#2d4b9b" stroke-width="1"/>
<circle cx="509.04" cy="469.26" r="1.65" fill="none" stroke="#2d4b9b" stroke-width="1"/>
<circle cx="511.56" cy="474.97" r="1.65" fill="none" stroke="#2d4b9b" stroke-width="1"/>
<circle cx="510.3" cy="474.97" r="1.65" fill="none" stroke="#2d4b9b" stroke-width="1"/>
<line x1="510.3" y1="464.5" x2="510.3" y2="473.5" stroke="#2d4b9b" stroke-width="1" />
<line x1="508.05" y1="464.5" x2="512.55" y2="464.5" stroke="#2d4b9b" stroke-width="1" />
<line x1="508.05" y1="473.5" x2="512.55" y2="473.5" stroke="#2d4b9b" stroke-width="1" />
<rect x="517.25" y="484.95" width="7.9" height="67.05" fill="#fff" stroke="none" stroke-width="1" />
<polyline points="517.25,552 517.25,484.95 525.15,484.95 525.15,552" stroke="#e45f62" stroke-width="1.1" fill="none"/>
<circle cx="521.2" cy="453.57" r="1.65" fill="none" stroke="#e45f62" stroke-width="1"/>
<circle cx="518.68" cy="469.26" r="1.65" fill="none" stroke="#e45f62" stroke-width="1"/>
<circle cx="523.72" cy="480.68" r="1.65" fill="none" stroke="#e45f62" stroke-width="1"/>
<circle cx="519.94" cy="489.23" r="1.65" fill="none" stroke="#e45f62" stroke-width="1"/>
<circle cx="522.46" cy="500.65" r="1.65" fill="none" stroke="#e45f62" stroke-width="1"/>
<circle cx="521.2" cy="509.2" r="1.65" fill="none" stroke="#e45f62" stroke-width="1"/>
<line x1="521.2" y1="473.6" x2="521.2" y2="495.2" stroke="#e45f62" stroke-width="1" />
<line x1="518.95" y1="473.6" x2="523.45" y2="473.6" stroke="#e45f62" stroke-width="1" />
<line x1="518.95" y1="495.2" x2="523.45" y2="495.2" stroke="#e45f62" stroke-width="1" />
<text x="469" y="576.8" text-anchor="middle" fill="#1a1a1a" style="font-size:9.2px;" >Day</text>
<text transform="translate(382.6,498.2) rotate(-90)" text-anchor="middle" fill="#1a1a1a" style="font-size:9px;" >Ferritin (ng/mL)</text>
<polyline points="414.5,470.9 414.5,459 432.3,459 432.3,464.7" stroke="#333" stroke-width="1" fill="none"/>
<line x1="421.2" y1="464.7" x2="443.5" y2="464.7" stroke="#333" stroke-width="1" />
<text x="425.6" y="454.7" text-anchor="middle" fill="#1a1a1a" style="font-size:7.8px;" >n.s.</text>
<polyline points="456.7,463.4 456.7,450.3 474,450.3 474,454.7" stroke="#333" stroke-width="1" fill="none"/>
<line x1="463.6" y1="454.7" x2="486" y2="454.7" stroke="#333" stroke-width="1" />
<text x="467.8" y="445.6" text-anchor="middle" fill="#1a1a1a" style="font-size:7.8px;" >n.s.</text>
<polyline points="498,457.4 498,447 515.8,447 515.8,452.2" stroke="#333" stroke-width="1" fill="none"/>
<line x1="507.2" y1="452.2" x2="527.1" y2="452.2" stroke="#333" stroke-width="1" />
<text x="509.3" y="443" text-anchor="middle" fill="#1a1a1a" style="font-size:7.8px;" >n.s.</text>
<text x="553.8" y="436.8" text-anchor="start" fill="#000" style="font-size:17.5px;font-weight:bold;" >i</text>
<line x1="600.3" y1="451.9" x2="600.3" y2="552.6" stroke="#222" stroke-width="1.2" />
<line x1="595.9" y1="552" x2="600.3" y2="552" stroke="#222" stroke-width="1.2" />
<text x="594.9" y="555.31" text-anchor="end" fill="#1a1a1a" style="font-size:9.2px;" >0</text>
<line x1="595.9" y1="502.25" x2="600.3" y2="502.25" stroke="#222" stroke-width="1.2" />
<text x="594.9" y="505.56" text-anchor="end" fill="#1a1a1a" style="font-size:9.2px;" >1</text>
<line x1="595.9" y1="452.5" x2="600.3" y2="452.5" stroke="#222" stroke-width="1.2" />
<text x="594.9" y="455.81" text-anchor="end" fill="#1a1a1a" style="font-size:9.2px;" >2</text>
<line x1="600.3" y1="552" x2="650.5" y2="552" stroke="#222" stroke-width="1.2" />
<rect x="606.15" y="503.95" width="8.4" height="48.05" fill="#fff" stroke="none" stroke-width="1" />
<polyline points="606.15,552 606.15,503.95 614.55,503.95 614.55,552" stroke="#6a6a6a" stroke-width="1.1" fill="none"/>
<circle cx="610.35" cy="477.38" r="2.1" fill="none" stroke="#6a6a6a" stroke-width="1"/>
<circle cx="607.75" cy="496.28" r="2.1" fill="none" stroke="#6a6a6a" stroke-width="1"/>
<circle cx="612.95" cy="502.25" r="2.1" fill="none" stroke="#6a6a6a" stroke-width="1"/>
<circle cx="609.05" cy="503.25" r="2.1" fill="none" stroke="#6a6a6a" stroke-width="1"/>
<circle cx="611.65" cy="504.74" r="2.1" fill="none" stroke="#6a6a6a" stroke-width="1"/>
<circle cx="610.35" cy="526.13" r="2.1" fill="none" stroke="#6a6a6a" stroke-width="1"/>
<line x1="610.35" y1="495.9" x2="610.35" y2="510.9" stroke="#6a6a6a" stroke-width="1.1" />
<line x1="608.1" y1="495.9" x2="612.6" y2="495.9" stroke="#6a6a6a" stroke-width="1.1" />
<line x1="608.1" y1="510.9" x2="612.6" y2="510.9" stroke="#6a6a6a" stroke-width="1.1" />
<rect x="620.95" y="508.85" width="8.4" height="43.15" fill="#fff" stroke="none" stroke-width="1" />
<polyline points="620.95,552 620.95,508.85 629.35,508.85 629.35,552" stroke="#2d4b9b" stroke-width="1.1" fill="none"/>
<circle cx="625.15" cy="492.3" r="2.1" fill="none" stroke="#2d4b9b" stroke-width="1"/>
<circle cx="622.55" cy="503.25" r="2.1" fill="none" stroke="#2d4b9b" stroke-width="1"/>
<circle cx="627.75" cy="507.23" r="2.1" fill="none" stroke="#2d4b9b" stroke-width="1"/>
<circle cx="623.85" cy="512.2" r="2.1" fill="none" stroke="#2d4b9b" stroke-width="1"/>
<circle cx="626.45" cy="519.66" r="2.1" fill="none" stroke="#2d4b9b" stroke-width="1"/>
<circle cx="625.15" cy="526.13" r="2.1" fill="none" stroke="#2d4b9b" stroke-width="1"/>
<line x1="625.15" y1="504.4" x2="625.15" y2="512.2" stroke="#2d4b9b" stroke-width="1.1" />
<line x1="622.9" y1="504.4" x2="627.4" y2="504.4" stroke="#2d4b9b" stroke-width="1.1" />
<line x1="622.9" y1="512.2" x2="627.4" y2="512.2" stroke="#2d4b9b" stroke-width="1.1" />
<rect x="635.65" y="497.85" width="8.4" height="54.15" fill="#fff" stroke="none" stroke-width="1" />
<polyline points="635.65,552 635.65,497.85 644.05,497.85 644.05,552" stroke="#e45f62" stroke-width="1.1" fill="none"/>
<circle cx="639.85" cy="472.4" r="2.1" fill="none" stroke="#e45f62" stroke-width="1"/>
<circle cx="637.25" cy="483.35" r="2.1" fill="none" stroke="#e45f62" stroke-width="1"/>
<circle cx="642.45" cy="487.32" r="2.1" fill="none" stroke="#e45f62" stroke-width="1"/>
<circle cx="638.55" cy="502.25" r="2.1" fill="none" stroke="#e45f62" stroke-width="1"/>
<circle cx="641.15" cy="512.2" r="2.1" fill="none" stroke="#e45f62" stroke-width="1"/>
<circle cx="639.85" cy="522.15" r="2.1" fill="none" stroke="#e45f62" stroke-width="1"/>
<line x1="639.85" y1="488" x2="639.85" y2="506.6" stroke="#e45f62" stroke-width="1.1" />
<line x1="637.6" y1="488" x2="642.1" y2="488" stroke="#e45f62" stroke-width="1.1" />
<line x1="637.6" y1="506.6" x2="642.1" y2="506.6" stroke="#e45f62" stroke-width="1.1" />
<text x="623.9" y="440.7" text-anchor="middle" fill="#1a1a1a" style="font-size:9.6px;" >FITC-Dextran</text>
<text transform="translate(578.2,497.4) rotate(-90)" text-anchor="middle" fill="#1a1a1a" style="font-size:9.6px;" >Relative Flurescence intensity (a.u.)</text>
<polyline points="610.1,473.2 610.1,467.3 629.8,467.3 629.8,480.1" stroke="#333" stroke-width="1" fill="none"/>
<line x1="621.9" y1="480.1" x2="637.7" y2="480.1" stroke="#333" stroke-width="1" />
<text x="622.9" y="463" text-anchor="middle" fill="#1a1a1a" style="font-size:7.8px;" >n.s.</text>
<text x="23" y="598" text-anchor="start" fill="#000" style="font-size:17.7px;font-weight:bold;" >j</text>
<line x1="48.3" y1="608.7" x2="48.3" y2="709.6" stroke="#222" stroke-width="1.2" />
<line x1="43.7" y1="709" x2="48.3" y2="709" stroke="#222" stroke-width="1.2" />
<text x="42.3" y="712.49" text-anchor="end" fill="#1a1a1a" style="font-size:9.7px;" >5</text>
<line x1="43.7" y1="684.08" x2="48.3" y2="684.08" stroke="#222" stroke-width="1.2" />
<text x="42.3" y="687.57" text-anchor="end" fill="#1a1a1a" style="font-size:9.7px;" >10</text>
<line x1="43.7" y1="659.15" x2="48.3" y2="659.15" stroke="#222" stroke-width="1.2" />
<text x="42.3" y="662.64" text-anchor="end" fill="#1a1a1a" style="font-size:9.7px;" >15</text>
<line x1="43.7" y1="634.23" x2="48.3" y2="634.23" stroke="#222" stroke-width="1.2" />
<text x="42.3" y="637.72" text-anchor="end" fill="#1a1a1a" style="font-size:9.7px;" >20</text>
<line x1="43.7" y1="609.3" x2="48.3" y2="609.3" stroke="#222" stroke-width="1.2" />
<text x="42.3" y="612.79" text-anchor="end" fill="#1a1a1a" style="font-size:9.7px;" >25</text>
<line x1="48.3" y1="709" x2="148.4" y2="709" stroke="#222" stroke-width="1.2" />
<rect x="54.7" y="645.05" width="12" height="63.95" fill="#fff" stroke="none" stroke-width="1" />
<polyline points="54.7,709 54.7,645.05 66.7,645.05 66.7,709" stroke="#6a6a6a" stroke-width="1.1" fill="none"/>
<circle cx="60.7" cy="634.23" r="2.3" fill="none" stroke="#6a6a6a" stroke-width="1"/>
<circle cx="56.4" cy="641.7" r="2.3" fill="none" stroke="#6a6a6a" stroke-width="1"/>
<circle cx="65" cy="642.7" r="2.3" fill="none" stroke="#6a6a6a" stroke-width="1"/>
<circle cx="58.55" cy="651.67" r="2.3" fill="none" stroke="#6a6a6a" stroke-width="1"/>
<circle cx="62.85" cy="653.17" r="2.3" fill="none" stroke="#6a6a6a" stroke-width="1"/>
<circle cx="60.7" cy="644.19" r="2.3" fill="none" stroke="#6a6a6a" stroke-width="1"/>
<line x1="60.7" y1="642" x2="60.7" y2="647" stroke="#6a6a6a" stroke-width="1.1" />
<line x1="57.7" y1="642" x2="63.7" y2="642" stroke="#6a6a6a" stroke-width="1.1" />
<line x1="57.7" y1="647" x2="63.7" y2="647" stroke="#6a6a6a" stroke-width="1.1" />
<rect x="73.3" y="650.05" width="12" height="58.95" fill="#fff" stroke="none" stroke-width="1" />
<polyline points="73.3,709 73.3,650.05 85.3,650.05 85.3,709" stroke="#eea154" stroke-width="1.1" fill="none"/>
<circle cx="79.3" cy="639.21" r="2.3" fill="none" stroke="#eea154" stroke-width="1"/>
<circle cx="75" cy="645.69" r="2.3" fill="none" stroke="#eea154" stroke-width="1"/>
<circle cx="83.6" cy="647.68" r="2.3" fill="none" stroke="#eea154" stroke-width="1"/>
<circle cx="77.15" cy="653.67" r="2.3" fill="none" stroke="#eea154" stroke-width="1"/>
<circle cx="81.45" cy="654.16" r="2.3" fill="none" stroke="#eea154" stroke-width="1"/>
<circle cx="79.3" cy="646.69" r="2.3" fill="none" stroke="#eea154" stroke-width="1"/>
<line x1="79.3" y1="646.5" x2="79.3" y2="652.5" stroke="#eea154" stroke-width="1.1" />
<line x1="76.3" y1="646.5" x2="82.3" y2="646.5" stroke="#eea154" stroke-width="1.1" />
<line x1="76.3" y1="652.5" x2="82.3" y2="652.5" stroke="#eea154" stroke-width="1.1" />
<rect x="92.1" y="655.45" width="12" height="53.55" fill="#fff" stroke="none" stroke-width="1" />
<polyline points="92.1,709 92.1,655.45 104.1,655.45 104.1,709" stroke="#78a9cf" stroke-width="1.1" fill="none"/>
<circle cx="98.1" cy="648.18" r="2.3" fill="none" stroke="#78a9cf" stroke-width="1"/>
<circle cx="93.8" cy="648.68" r="2.3" fill="none" stroke="#78a9cf" stroke-width="1"/>
<circle cx="102.4" cy="649.18" r="2.3" fill="none" stroke="#78a9cf" stroke-width="1"/>
<circle cx="95.95" cy="654.16" r="2.3" fill="none" stroke="#78a9cf" stroke-width="1"/>
<circle cx="100.25" cy="660.15" r="2.3" fill="none" stroke="#78a9cf" stroke-width="1"/>
<circle cx="98.1" cy="668.62" r="2.3" fill="none" stroke="#78a9cf" stroke-width="1"/>
<line x1="98.1" y1="652" x2="98.1" y2="657.8" stroke="#78a9cf" stroke-width="1.1" />
<line x1="95.1" y1="652" x2="101.1" y2="652" stroke="#78a9cf" stroke-width="1.1" />
<line x1="95.1" y1="657.8" x2="101.1" y2="657.8" stroke="#78a9cf" stroke-width="1.1" />
<rect x="110.8" y="645.85" width="12" height="63.15" fill="#fff" stroke="none" stroke-width="1" />
<polyline points="110.8,709 110.8,645.85 122.8,645.85 122.8,709" stroke="#2d4b9b" stroke-width="1.1" fill="none"/>
<circle cx="116.8" cy="634.23" r="2.3" fill="none" stroke="#2d4b9b" stroke-width="1"/>
<circle cx="112.5" cy="641.7" r="2.3" fill="none" stroke="#2d4b9b" stroke-width="1"/>
<circle cx="121.1" cy="642.7" r="2.3" fill="none" stroke="#2d4b9b" stroke-width="1"/>
<circle cx="114.65" cy="649.18" r="2.3" fill="none" stroke="#2d4b9b" stroke-width="1"/>
<circle cx="118.95" cy="654.66" r="2.3" fill="none" stroke="#2d4b9b" stroke-width="1"/>
<circle cx="116.8" cy="644.19" r="2.3" fill="none" stroke="#2d4b9b" stroke-width="1"/>
<line x1="116.8" y1="642" x2="116.8" y2="648.6" stroke="#2d4b9b" stroke-width="1.1" />
<line x1="113.8" y1="642" x2="119.8" y2="642" stroke="#2d4b9b" stroke-width="1.1" />
<line x1="113.8" y1="648.6" x2="119.8" y2="648.6" stroke="#2d4b9b" stroke-width="1.1" />
<rect x="129.5" y="657.95" width="12" height="51.05" fill="#fff" stroke="none" stroke-width="1" />
<polyline points="129.5,709 129.5,657.95 141.5,657.95 141.5,709" stroke="#e45f62" stroke-width="1.1" fill="none"/>
<circle cx="135.5" cy="643.2" r="2.3" fill="none" stroke="#e45f62" stroke-width="1"/>
<circle cx="131.2" cy="653.17" r="2.3" fill="none" stroke="#e45f62" stroke-width="1"/>
<circle cx="139.8" cy="654.16" r="2.3" fill="none" stroke="#e45f62" stroke-width="1"/>
<circle cx="133.35" cy="656.66" r="2.3" fill="none" stroke="#e45f62" stroke-width="1"/>
<circle cx="137.65" cy="660.15" r="2.3" fill="none" stroke="#e45f62" stroke-width="1"/>
<circle cx="135.5" cy="679.09" r="2.3" fill="none" stroke="#e45f62" stroke-width="1"/>
<line x1="135.5" y1="654.4" x2="135.5" y2="660.4" stroke="#e45f62" stroke-width="1.1" />
<line x1="132.5" y1="654.4" x2="138.5" y2="654.4" stroke="#e45f62" stroke-width="1.1" />
<line x1="132.5" y1="660.4" x2="138.5" y2="660.4" stroke="#e45f62" stroke-width="1.1" />
<text x="97.6" y="596.9" text-anchor="middle" fill="#1a1a1a" style="font-size:9.3px;" >CREA</text>
<text transform="translate(27.6,660.6) rotate(-90)" text-anchor="middle" fill="#1a1a1a" style="font-size:9.6px;" >Creatine (μmol/L)</text>
<polyline points="60.3,629.6 60.3,622.2 116.6,622.2 116.6,629.1" stroke="#333" stroke-width="1" fill="none"/>
<line x1="79.4" y1="629.1" x2="139.5" y2="629.1" stroke="#333" stroke-width="1" />
<text x="86.4" y="617.2" text-anchor="middle" fill="#1a1a1a" style="font-size:8px;" >n.s.</text>
<text x="193.5" y="597.9" text-anchor="start" fill="#000" style="font-size:17.9px;font-weight:bold;" >k</text>
<line x1="217.8" y1="608.68" x2="217.8" y2="709.6" stroke="#222" stroke-width="1.2" />
<line x1="213.2" y1="709" x2="217.8" y2="709" stroke="#222" stroke-width="1.2" />
<text x="211.8" y="712.49" text-anchor="end" fill="#1a1a1a" style="font-size:9.7px;" >2</text>
<line x1="213.2" y1="684.07" x2="217.8" y2="684.07" stroke="#222" stroke-width="1.2" />
<text x="211.8" y="687.56" text-anchor="end" fill="#1a1a1a" style="font-size:9.7px;" >3</text>
<line x1="213.2" y1="659.14" x2="217.8" y2="659.14" stroke="#222" stroke-width="1.2" />
<text x="211.8" y="662.63" text-anchor="end" fill="#1a1a1a" style="font-size:9.7px;" >4</text>
<line x1="213.2" y1="634.21" x2="217.8" y2="634.21" stroke="#222" stroke-width="1.2" />
<text x="211.8" y="637.7" text-anchor="end" fill="#1a1a1a" style="font-size:9.7px;" >5</text>
<line x1="213.2" y1="609.28" x2="217.8" y2="609.28" stroke="#222" stroke-width="1.2" />
<text x="211.8" y="612.77" text-anchor="end" fill="#1a1a1a" style="font-size:9.7px;" >6</text>
<line x1="217.8" y1="709" x2="318.4" y2="709" stroke="#222" stroke-width="1.2" />
<rect x="224.6" y="650.05" width="12" height="58.95" fill="#fff" stroke="none" stroke-width="1" />
<polyline points="224.6,709 224.6,650.05 236.6,650.05 236.6,709" stroke="#6a6a6a" stroke-width="1.1" fill="none"/>
<circle cx="230.6" cy="631.72" r="2.3" fill="none" stroke="#6a6a6a" stroke-width="1"/>
<circle cx="226.3" cy="644.18" r="2.3" fill="none" stroke="#6a6a6a" stroke-width="1"/>
<circle cx="234.9" cy="649.17" r="2.3" fill="none" stroke="#6a6a6a" stroke-width="1"/>
<circle cx="228.45" cy="651.66" r="2.3" fill="none" stroke="#6a6a6a" stroke-width="1"/>
<circle cx="232.75" cy="654.15" r="2.3" fill="none" stroke="#6a6a6a" stroke-width="1"/>
<circle cx="230.6" cy="664.13" r="2.3" fill="none" stroke="#6a6a6a" stroke-width="1"/>
<line x1="230.6" y1="645" x2="230.6" y2="654" stroke="#6a6a6a" stroke-width="1.1" />
<line x1="227.6" y1="645" x2="233.6" y2="645" stroke="#6a6a6a" stroke-width="1.1" />
<line x1="227.6" y1="654" x2="233.6" y2="654" stroke="#6a6a6a" stroke-width="1.1" />
<rect x="243.1" y="652.55" width="12" height="56.45" fill="#fff" stroke="none" stroke-width="1" />
<polyline points="243.1,709 243.1,652.55 255.1,652.55 255.1,709" stroke="#eea154" stroke-width="1.1" fill="none"/>
<circle cx="249.1" cy="636.7" r="2.3" fill="none" stroke="#eea154" stroke-width="1"/>
<circle cx="244.8" cy="646.67" r="2.3" fill="none" stroke="#eea154" stroke-width="1"/>
<circle cx="253.4" cy="651.66" r="2.3" fill="none" stroke="#eea154" stroke-width="1"/>
<circle cx="246.95" cy="654.15" r="2.3" fill="none" stroke="#eea154" stroke-width="1"/>
<circle cx="251.25" cy="656.65" r="2.3" fill="none" stroke="#eea154" stroke-width="1"/>
<circle cx="249.1" cy="669.11" r="2.3" fill="none" stroke="#eea154" stroke-width="1"/>
<line x1="249.1" y1="647" x2="249.1" y2="657" stroke="#eea154" stroke-width="1.1" />
<line x1="246.1" y1="647" x2="252.1" y2="647" stroke="#eea154" stroke-width="1.1" />
<line x1="246.1" y1="657" x2="252.1" y2="657" stroke="#eea154" stroke-width="1.1" />
<rect x="261.8" y="654.95" width="12" height="54.05" fill="#fff" stroke="none" stroke-width="1" />
<polyline points="261.8,709 261.8,654.95 273.8,654.95 273.8,709" stroke="#78a9cf" stroke-width="1.1" fill="none"/>
<circle cx="267.8" cy="649.17" r="2.3" fill="none" stroke="#78a9cf" stroke-width="1"/>
<circle cx="263.5" cy="656.65" r="2.3" fill="none" stroke="#78a9cf" stroke-width="1"/>
<circle cx="272.1" cy="657.89" r="2.3" fill="none" stroke="#78a9cf" stroke-width="1"/>
<circle cx="265.65" cy="659.14" r="2.3" fill="none" stroke="#78a9cf" stroke-width="1"/>
<circle cx="269.95" cy="664.13" r="2.3" fill="none" stroke="#78a9cf" stroke-width="1"/>
<circle cx="267.8" cy="669.11" r="2.3" fill="none" stroke="#78a9cf" stroke-width="1"/>
<line x1="267.8" y1="651" x2="267.8" y2="657.8" stroke="#78a9cf" stroke-width="1.1" />
<line x1="264.8" y1="651" x2="270.8" y2="651" stroke="#78a9cf" stroke-width="1.1" />
<line x1="264.8" y1="657.8" x2="270.8" y2="657.8" stroke="#78a9cf" stroke-width="1.1" />
<rect x="280.5" y="654.45" width="12" height="54.55" fill="#fff" stroke="none" stroke-width="1" />
<polyline points="280.5,709 280.5,654.45 292.5,654.45 292.5,709" stroke="#2d4b9b" stroke-width="1.1" fill="none"/>
<circle cx="286.5" cy="644.18" r="2.3" fill="none" stroke="#2d4b9b" stroke-width="1"/>
<circle cx="282.2" cy="644.18" r="2.3" fill="none" stroke="#2d4b9b" stroke-width="1"/>
<circle cx="290.8" cy="644.18" r="2.3" fill="none" stroke="#2d4b9b" stroke-width="1"/>
<circle cx="284.35" cy="654.15" r="2.3" fill="none" stroke="#2d4b9b" stroke-width="1"/>
<circle cx="288.65" cy="661.63" r="2.3" fill="none" stroke="#2d4b9b" stroke-width="1"/>
<circle cx="286.5" cy="659.14" r="2.3" fill="none" stroke="#2d4b9b" stroke-width="1"/>
<line x1="286.5" y1="649.5" x2="286.5" y2="658.3" stroke="#2d4b9b" stroke-width="1.1" />
<line x1="283.5" y1="649.5" x2="289.5" y2="649.5" stroke="#2d4b9b" stroke-width="1.1" />
<line x1="283.5" y1="658.3" x2="289.5" y2="658.3" stroke="#2d4b9b" stroke-width="1.1" />
<rect x="299.5" y="657.45" width="12" height="51.55" fill="#fff" stroke="none" stroke-width="1" />
<polyline points="299.5,709 299.5,657.45 311.5,657.45 311.5,709" stroke="#e45f62" stroke-width="1.1" fill="none"/>
<circle cx="305.5" cy="636.7" r="2.3" fill="none" stroke="#e45f62" stroke-width="1"/>
<circle cx="301.2" cy="641.69" r="2.3" fill="none" stroke="#e45f62" stroke-width="1"/>
<circle cx="309.8" cy="644.18" r="2.3" fill="none" stroke="#e45f62" stroke-width="1"/>
<circle cx="303.35" cy="651.66" r="2.3" fill="none" stroke="#e45f62" stroke-width="1"/>
<circle cx="307.65" cy="671.61" r="2.3" fill="none" stroke="#e45f62" stroke-width="1"/>
<circle cx="305.5" cy="691.55" r="2.3" fill="none" stroke="#e45f62" stroke-width="1"/>
<line x1="305.5" y1="647.5" x2="305.5" y2="666.3" stroke="#e45f62" stroke-width="1.1" />
<line x1="302.5" y1="647.5" x2="308.5" y2="647.5" stroke="#e45f62" stroke-width="1.1" />
<line x1="302.5" y1="666.3" x2="308.5" y2="666.3" stroke="#e45f62" stroke-width="1.1" />
<text x="268.4" y="596.1" text-anchor="middle" fill="#1a1a1a" style="font-size:9px;" >UBUN</text>
<text transform="translate(201.4,657.8) rotate(-90)" text-anchor="middle" fill="#1a1a1a" style="font-size:9.6px;" >Urea Nitrogen(μmol/L)</text>
<polyline points="229.6,629.6 229.6,617.2 286.1,617.2 286.1,625.2" stroke="#333" stroke-width="1" fill="none"/>
<line x1="246.9" y1="625.2" x2="304.5" y2="625.2" stroke="#333" stroke-width="1" />
<text x="256.8" y="613" text-anchor="middle" fill="#1a1a1a" style="font-size:8px;" >n.s.</text>
<text x="354.9" y="596.8" text-anchor="start" fill="#000" style="font-size:17.5px;font-weight:bold;" >l</text>
<line x1="398.9" y1="608.4" x2="398.9" y2="709.1" stroke="#222" stroke-width="1.2" />
<line x1="394.3" y1="708.5" x2="398.9" y2="708.5" stroke="#222" stroke-width="1.2" />
<text x="392.9" y="711.99" text-anchor="end" fill="#1a1a1a" style="font-size:9.7px;" >50</text>
<line x1="394.3" y1="675.34" x2="398.9" y2="675.34" stroke="#222" stroke-width="1.2" />
<text x="392.9" y="678.83" text-anchor="end" fill="#1a1a1a" style="font-size:9.7px;" >100</text>
<line x1="394.3" y1="642.17" x2="398.9" y2="642.17" stroke="#222" stroke-width="1.2" />
<text x="392.9" y="645.66" text-anchor="end" fill="#1a1a1a" style="font-size:9.7px;" >150</text>
<line x1="394.3" y1="609" x2="398.9" y2="609" stroke="#222" stroke-width="1.2" />
<text x="392.9" y="612.5" text-anchor="end" fill="#1a1a1a" style="font-size:9.7px;" >200</text>
<line x1="398.9" y1="708.4" x2="498.8" y2="708.4" stroke="#222" stroke-width="1.2" />
<rect x="405.5" y="654.95" width="12" height="53.45" fill="#fff" stroke="none" stroke-width="1" />
<polyline points="405.5,708.4 405.5,654.95 417.5,654.95 417.5,708.4" stroke="#6a6a6a" stroke-width="1.1" fill="none"/>
<circle cx="411.5" cy="632.22" r="2.3" fill="none" stroke="#6a6a6a" stroke-width="1"/>
<circle cx="407.2" cy="635.54" r="2.3" fill="none" stroke="#6a6a6a" stroke-width="1"/>
<circle cx="415.8" cy="638.85" r="2.3" fill="none" stroke="#6a6a6a" stroke-width="1"/>
<circle cx="409.35" cy="662.07" r="2.3" fill="none" stroke="#6a6a6a" stroke-width="1"/>
<circle cx="413.65" cy="675.34" r="2.3" fill="none" stroke="#6a6a6a" stroke-width="1"/>
<circle cx="411.5" cy="678.65" r="2.3" fill="none" stroke="#6a6a6a" stroke-width="1"/>
<line x1="411.5" y1="645.7" x2="411.5" y2="663.1" stroke="#6a6a6a" stroke-width="1.1" />
<line x1="408.5" y1="645.7" x2="414.5" y2="645.7" stroke="#6a6a6a" stroke-width="1.1" />
<line x1="408.5" y1="663.1" x2="414.5" y2="663.1" stroke="#6a6a6a" stroke-width="1.1" />
<rect x="423.8" y="652.95" width="12" height="55.45" fill="#fff" stroke="none" stroke-width="1" />
<polyline points="423.8,708.4 423.8,652.95 435.8,652.95 435.8,708.4" stroke="#eea154" stroke-width="1.1" fill="none"/>
<circle cx="429.8" cy="620.28" r="2.3" fill="none" stroke="#eea154" stroke-width="1"/>
<circle cx="425.5" cy="633.55" r="2.3" fill="none" stroke="#eea154" stroke-width="1"/>
<circle cx="434.1" cy="655.44" r="2.3" fill="none" stroke="#eea154" stroke-width="1"/>
<circle cx="427.65" cy="658.75" r="2.3" fill="none" stroke="#eea154" stroke-width="1"/>
<circle cx="431.95" cy="668.7" r="2.3" fill="none" stroke="#eea154" stroke-width="1"/>
<circle cx="429.8" cy="670.03" r="2.3" fill="none" stroke="#eea154" stroke-width="1"/>
<line x1="429.8" y1="644" x2="429.8" y2="660.8" stroke="#eea154" stroke-width="1.1" />
<line x1="426.8" y1="644" x2="432.8" y2="644" stroke="#eea154" stroke-width="1.1" />
<line x1="426.8" y1="660.8" x2="432.8" y2="660.8" stroke="#eea154" stroke-width="1.1" />
<rect x="442.6" y="650.75" width="12" height="57.65" fill="#fff" stroke="none" stroke-width="1" />
<polyline points="442.6,708.4 442.6,650.75 454.6,650.75 454.6,708.4" stroke="#78a9cf" stroke-width="1.1" fill="none"/>
<circle cx="448.6" cy="617.63" r="2.3" fill="none" stroke="#78a9cf" stroke-width="1"/>
<circle cx="444.3" cy="638.85" r="2.3" fill="none" stroke="#78a9cf" stroke-width="1"/>
<circle cx="452.9" cy="648.8" r="2.3" fill="none" stroke="#78a9cf" stroke-width="1"/>
<circle cx="446.45" cy="655.44" r="2.3" fill="none" stroke="#78a9cf" stroke-width="1"/>
<circle cx="450.75" cy="668.7" r="2.3" fill="none" stroke="#78a9cf" stroke-width="1"/>
<circle cx="448.6" cy="678.65" r="2.3" fill="none" stroke="#78a9cf" stroke-width="1"/>
<line x1="448.6" y1="641.5" x2="448.6" y2="658.9" stroke="#78a9cf" stroke-width="1.1" />
<line x1="445.6" y1="641.5" x2="451.6" y2="641.5" stroke="#78a9cf" stroke-width="1.1" />
<line x1="445.6" y1="658.9" x2="451.6" y2="658.9" stroke="#78a9cf" stroke-width="1.1" />
<rect x="461.6" y="642.05" width="12" height="66.35" fill="#fff" stroke="none" stroke-width="1" />
<polyline points="461.6,708.4 461.6,642.05 473.6,642.05 473.6,708.4" stroke="#2d4b9b" stroke-width="1.1" fill="none"/>
<circle cx="467.6" cy="635.54" r="2.3" fill="none" stroke="#2d4b9b" stroke-width="1"/>
<circle cx="463.3" cy="638.85" r="2.3" fill="none" stroke="#2d4b9b" stroke-width="1"/>
<circle cx="471.9" cy="642.17" r="2.3" fill="none" stroke="#2d4b9b" stroke-width="1"/>
<circle cx="465.45" cy="643.5" r="2.3" fill="none" stroke="#2d4b9b" stroke-width="1"/>
<circle cx="469.75" cy="645.49" r="2.3" fill="none" stroke="#2d4b9b" stroke-width="1"/>
<circle cx="467.6" cy="658.75" r="2.3" fill="none" stroke="#2d4b9b" stroke-width="1"/>
<line x1="467.6" y1="640" x2="467.6" y2="643" stroke="#2d4b9b" stroke-width="1.1" />
<line x1="464.6" y1="640" x2="470.6" y2="640" stroke="#2d4b9b" stroke-width="1.1" />
<line x1="464.6" y1="643" x2="470.6" y2="643" stroke="#2d4b9b" stroke-width="1.1" />
<rect x="480.3" y="661.15" width="12" height="47.25" fill="#fff" stroke="none" stroke-width="1" />
<polyline points="480.3,708.4 480.3,661.15 492.3,661.15 492.3,708.4" stroke="#e45f62" stroke-width="1.1" fill="none"/>
<circle cx="486.3" cy="637.53" r="2.3" fill="none" stroke="#e45f62" stroke-width="1"/>
<circle cx="482" cy="642.17" r="2.3" fill="none" stroke="#e45f62" stroke-width="1"/>
<circle cx="490.6" cy="655.44" r="2.3" fill="none" stroke="#e45f62" stroke-width="1"/>
<circle cx="484.15" cy="663.4" r="2.3" fill="none" stroke="#e45f62" stroke-width="1"/>
<circle cx="488.45" cy="668.7" r="2.3" fill="none" stroke="#e45f62" stroke-width="1"/>
<circle cx="486.3" cy="678.65" r="2.3" fill="none" stroke="#e45f62" stroke-width="1"/>
<line x1="486.3" y1="653.2" x2="486.3" y2="668" stroke="#e45f62" stroke-width="1.1" />
<line x1="483.3" y1="653.2" x2="489.3" y2="653.2" stroke="#e45f62" stroke-width="1.1" />
<line x1="483.3" y1="668" x2="489.3" y2="668" stroke="#e45f62" stroke-width="1.1" />
<text x="448.6" y="596.1" text-anchor="middle" fill="#1a1a1a" style="font-size:9.3px;" >AST</text>
<text transform="translate(373,652.5) rotate(-90)" text-anchor="middle" fill="#1a1a1a" style="font-size:9.6px;" >Aspartate Aminotransferase (U/L)</text>
<polyline points="411.5,630.8 411.5,620.2 467.8,620.2 467.8,627.6" stroke="#333" stroke-width="1" fill="none"/>
<line x1="428.1" y1="627.6" x2="485.2" y2="627.6" stroke="#333" stroke-width="1" />
<text x="437.5" y="615.4" text-anchor="middle" fill="#1a1a1a" style="font-size:8px;" >n.s.</text>
<text x="517.5" y="597.3" text-anchor="start" fill="#000" style="font-size:18px;font-weight:bold;" >m</text>
<line x1="568.7" y1="608.4" x2="568.7" y2="709.6" stroke="#222" stroke-width="1.2" />
<line x1="564.1" y1="709" x2="568.7" y2="709" stroke="#222" stroke-width="1.2" />
<text x="562.7" y="712.49" text-anchor="end" fill="#1a1a1a" style="font-size:9.7px;" >20</text>
<line x1="564.1" y1="659" x2="568.7" y2="659" stroke="#222" stroke-width="1.2" />
<text x="562.7" y="662.49" text-anchor="end" fill="#1a1a1a" style="font-size:9.7px;" >40</text>
<line x1="564.1" y1="609" x2="568.7" y2="609" stroke="#222" stroke-width="1.2" />
<text x="562.7" y="612.49" text-anchor="end" fill="#1a1a1a" style="font-size:9.7px;" >60</text>
<line x1="568.7" y1="709" x2="669.3" y2="709" stroke="#222" stroke-width="1.2" />
<rect x="575.5" y="658.35" width="12" height="50.65" fill="#fff" stroke="none" stroke-width="1" />
<polyline points="575.5,709 575.5,658.35 587.5,658.35 587.5,709" stroke="#6a6a6a" stroke-width="1.1" fill="none"/>
<circle cx="581.5" cy="645.25" r="2.3" fill="none" stroke="#6a6a6a" stroke-width="1"/>
<circle cx="577.2" cy="654" r="2.3" fill="none" stroke="#6a6a6a" stroke-width="1"/>
<circle cx="585.8" cy="656.5" r="2.3" fill="none" stroke="#6a6a6a" stroke-width="1"/>
<circle cx="579.35" cy="657.75" r="2.3" fill="none" stroke="#6a6a6a" stroke-width="1"/>
<circle cx="583.65" cy="664" r="2.3" fill="none" stroke="#6a6a6a" stroke-width="1"/>
<circle cx="581.5" cy="670.25" r="2.3" fill="none" stroke="#6a6a6a" stroke-width="1"/>
<line x1="581.5" y1="655.5" x2="581.5" y2="660.1" stroke="#6a6a6a" stroke-width="1.1" />
<line x1="578.5" y1="655.5" x2="584.5" y2="655.5" stroke="#6a6a6a" stroke-width="1.1" />
<line x1="578.5" y1="660.1" x2="584.5" y2="660.1" stroke="#6a6a6a" stroke-width="1.1" />
<rect x="593.8" y="660.75" width="12" height="48.25" fill="#fff" stroke="none" stroke-width="1" />
<polyline points="593.8,709 593.8,660.75 605.8,660.75 605.8,709" stroke="#eea154" stroke-width="1.1" fill="none"/>
<circle cx="599.8" cy="651.5" r="2.3" fill="none" stroke="#eea154" stroke-width="1"/>
<circle cx="595.5" cy="656.5" r="2.3" fill="none" stroke="#eea154" stroke-width="1"/>
<circle cx="604.1" cy="657.75" r="2.3" fill="none" stroke="#eea154" stroke-width="1"/>
<circle cx="597.65" cy="659" r="2.3" fill="none" stroke="#eea154" stroke-width="1"/>
<circle cx="601.95" cy="664" r="2.3" fill="none" stroke="#eea154" stroke-width="1"/>
<circle cx="599.8" cy="675.25" r="2.3" fill="none" stroke="#eea154" stroke-width="1"/>
<line x1="599.8" y1="657.2" x2="599.8" y2="663.2" stroke="#eea154" stroke-width="1.1" />
<line x1="596.8" y1="657.2" x2="602.8" y2="657.2" stroke="#eea154" stroke-width="1.1" />
<line x1="596.8" y1="663.2" x2="602.8" y2="663.2" stroke="#eea154" stroke-width="1.1" />
<rect x="612.6" y="666.05" width="12" height="42.95" fill="#fff" stroke="none" stroke-width="1" />
<polyline points="612.6,709 612.6,666.05 624.6,666.05 624.6,709" stroke="#78a9cf" stroke-width="1.1" fill="none"/>
<circle cx="618.6" cy="646.5" r="2.3" fill="none" stroke="#78a9cf" stroke-width="1"/>
<circle cx="614.3" cy="659" r="2.3" fill="none" stroke="#78a9cf" stroke-width="1"/>
<circle cx="622.9" cy="661.5" r="2.3" fill="none" stroke="#78a9cf" stroke-width="1"/>
<circle cx="616.45" cy="666.5" r="2.3" fill="none" stroke="#78a9cf" stroke-width="1"/>
<circle cx="620.75" cy="679" r="2.3" fill="none" stroke="#78a9cf" stroke-width="1"/>
<circle cx="618.6" cy="679" r="2.3" fill="none" stroke="#78a9cf" stroke-width="1"/>
<line x1="618.6" y1="659.6" x2="618.6" y2="671.4" stroke="#78a9cf" stroke-width="1.1" />
<line x1="615.6" y1="659.6" x2="621.6" y2="659.6" stroke="#78a9cf" stroke-width="1.1" />
<line x1="615.6" y1="671.4" x2="621.6" y2="671.4" stroke="#78a9cf" stroke-width="1.1" />
<rect x="631.3" y="655.85" width="12" height="53.15" fill="#fff" stroke="none" stroke-width="1" />
<polyline points="631.3,709 631.3,655.85 643.3,655.85 643.3,709" stroke="#2d4b9b" stroke-width="1.1" fill="none"/>
<circle cx="637.3" cy="639" r="2.3" fill="none" stroke="#2d4b9b" stroke-width="1"/>
<circle cx="633" cy="649" r="2.3" fill="none" stroke="#2d4b9b" stroke-width="1"/>
<circle cx="641.6" cy="650.25" r="2.3" fill="none" stroke="#2d4b9b" stroke-width="1"/>
<circle cx="635.15" cy="659" r="2.3" fill="none" stroke="#2d4b9b" stroke-width="1"/>
<circle cx="639.45" cy="669" r="2.3" fill="none" stroke="#2d4b9b" stroke-width="1"/>
<circle cx="637.3" cy="676.5" r="2.3" fill="none" stroke="#2d4b9b" stroke-width="1"/>
<line x1="637.3" y1="649.2" x2="637.3" y2="661.4" stroke="#2d4b9b" stroke-width="1.1" />
<line x1="634.3" y1="649.2" x2="640.3" y2="649.2" stroke="#2d4b9b" stroke-width="1.1" />
<line x1="634.3" y1="661.4" x2="640.3" y2="661.4" stroke="#2d4b9b" stroke-width="1.1" />
<rect x="650" y="661.75" width="12" height="47.25" fill="#fff" stroke="none" stroke-width="1" />
<polyline points="650,709 650,661.75 662,661.75 662,709" stroke="#e45f62" stroke-width="1.1" fill="none"/>
<circle cx="656" cy="640.25" r="2.3" fill="none" stroke="#e45f62" stroke-width="1"/>
<circle cx="651.7" cy="656.5" r="2.3" fill="none" stroke="#e45f62" stroke-width="1"/>
<circle cx="660.3" cy="660.25" r="2.3" fill="none" stroke="#e45f62" stroke-width="1"/>
<circle cx="653.85" cy="661.5" r="2.3" fill="none" stroke="#e45f62" stroke-width="1"/>
<circle cx="658.15" cy="664" r="2.3" fill="none" stroke="#e45f62" stroke-width="1"/>
<circle cx="656" cy="669" r="2.3" fill="none" stroke="#e45f62" stroke-width="1"/>
<line x1="656" y1="656.6" x2="656" y2="665.8" stroke="#e45f62" stroke-width="1.1" />
<line x1="653" y1="656.6" x2="659" y2="656.6" stroke="#e45f62" stroke-width="1.1" />
<line x1="653" y1="665.8" x2="659" y2="665.8" stroke="#e45f62" stroke-width="1.1" />
<text x="618" y="596.1" text-anchor="middle" fill="#1a1a1a" style="font-size:9.3px;" >ALT</text>
<text transform="translate(547.6,651.9) rotate(-90)" text-anchor="middle" fill="#1a1a1a" style="font-size:9.6px;" >Alanine Aminotransferase (U/L)</text>
<polyline points="580.8,640.8 580.8,621.6 637.1,621.6 637.1,628.3" stroke="#333" stroke-width="1" fill="none"/>
<line x1="598.1" y1="628.3" x2="656" y2="628.3" stroke="#333" stroke-width="1" />
<text x="608" y="617.2" text-anchor="middle" fill="#1a1a1a" style="font-size:8px;" >n.s.</text>
<clipPath id="cr1"><path d="M10,759.7 L85.4,759.7 L85.4,849 L10,849 Z"/></clipPath><g clip-path="url(#cr1)"><path d="M10,759.7 L85.4,759.7 L85.4,849 L10,849 Z" fill="#e46cb8"/><rect x="10" y="759.7" width="75.4" height="89.3" fill="#000" filter="url(#fp)" opacity="0.32"/><rect x="10" y="759.7" width="75.4" height="89.3" fill="#000" filter="url(#np)" opacity="0.2"/><rect x="10" y="759.7" width="75.4" height="89.3" fill="#000" filter="url(#nw)" opacity="0.75"/></g>
<clipPath id="cr2"><path d="M89.3,759.7 L165,759.7 L165,849 L89.3,849 Z"/></clipPath><g clip-path="url(#cr2)"><path d="M89.3,759.7 L165,759.7 L165,849 L89.3,849 Z" fill="#e46cb8"/><rect x="89.3" y="759.7" width="75.7" height="89.3" fill="#000" filter="url(#fp)" opacity="0.32"/><rect x="89.3" y="759.7" width="75.7" height="89.3" fill="#000" filter="url(#np)" opacity="0.2"/><rect x="89.3" y="759.7" width="75.7" height="89.3" fill="#000" filter="url(#nw)" opacity="0.75"/></g>
<clipPath id="cr3"><path d="M183,759.7 L258.2,759.7 L258.2,849 L183,849 Z"/></clipPath><g clip-path="url(#cr3)"><path d="M183,759.7 L258.2,759.7 L258.2,849 L183,849 Z" fill="#743494"/><rect x="183" y="759.7" width="75.2" height="89.3" fill="#000" filter="url(#fk)" opacity="0.35"/><rect x="183" y="759.7" width="75.2" height="89.3" fill="#000" filter="url(#fp)" opacity="0.6"/><rect x="183" y="759.7" width="75.2" height="89.3" fill="#000" filter="url(#fw)" opacity="0.45"/></g>
<path d="M183.0,812 L258.2,812 L258.2,849 L183.0,849 Z" fill="#b070c0" opacity="0.25"/>
<clipPath id="cr4"><path d="M183.0,776 C200,778 215,776 230,772 C240,770 250,774 258.2,772 L258.2,796 C245,792 235,800 225,795 C210,792 195,797 183.0,794 Z"/></clipPath><g clip-path="url(#cr4)"><path d="M183.0,776 C200,778 215,776 230,772 C240,770 250,774 258.2,772 L258.2,796 C245,792 235,800 225,795 C210,792 195,797 183.0,794 Z" fill="#9a4eaa"/><rect x="183" y="770" width="75.2" height="30" fill="#000" filter="url(#fk)" opacity="0.55"/><rect x="183" y="770" width="75.2" height="30" fill="#000" filter="url(#fp)" opacity="0.5"/><rect x="183" y="770" width="75.2" height="30" fill="#000" filter="url(#nw)" opacity="0.6"/></g>
<clipPath id="cr5"><path d="M183.0,759.7 L258.2,759.7 L258.2,774 C250,776 240,773 228,778 C215,783 200,777 183.0,780 Z"/></clipPath><g clip-path="url(#cr5)"><path d="M183.0,759.7 L258.2,759.7 L258.2,774 C250,776 240,773 228,778 C215,783 200,777 183.0,780 Z" fill="#d25ca2"/><rect x="183" y="759.7" width="75.2" height="25.3" fill="#000" filter="url(#fk)" opacity="0.3"/><rect x="183" y="759.7" width="75.2" height="25.3" fill="#000" filter="url(#fp)" opacity="0.3"/><rect x="183" y="759.7" width="75.2" height="25.3" fill="#000" filter="url(#fw)" opacity="0.45"/></g>
<path d="M183.0,759.7 L196,759.7 L194,761.5 C190,762.5 186,762 183.0,762.5 Z" fill="#f0dcea" opacity="0.8"/>
<path d="M200,759.7 L246,759.7 C244,763 238,765.5 230,766 C222,766.5 214,765 207,763.5 C203,762.5 201,761.5 200,759.7 Z" fill="#f6eaf2" opacity="0.9"/>
<ellipse cx="187" cy="774.5" rx="3" ry="2" fill="#f4e8f0" opacity="0.8"/>
<path d="M191,780 L198,779 L200,781 L193,782 Z" fill="#f4eef4" opacity="0.8"/>
<clipPath id="cr6"><path d="M262.4,759.7 L337.6,759.7 L337.6,849 L262.4,849 Z"/></clipPath><g clip-path="url(#cr6)"><path d="M262.4,759.7 L337.6,759.7 L337.6,849 L262.4,849 Z" fill="#b868ba"/><rect x="262.4" y="759.7" width="75.2" height="89.3" fill="#000" filter="url(#fk)" opacity="0.45"/><rect x="262.4" y="759.7" width="75.2" height="89.3" fill="#000" filter="url(#fp)" opacity="0.55"/><rect x="262.4" y="759.7" width="75.2" height="89.3" fill="#000" filter="url(#fw)" opacity="0.5"/></g>
<rect x="355.8" y="759.7" width="75" height="89.3" fill="#ececec" />
<clipPath id="cr7"><path d="M355.8,815 L430.8,809 L430.8,825.4 C410,826.5 385,828.5 355.8,829.9 Z"/></clipPath><g clip-path="url(#cr7)"><path d="M355.8,815 L430.8,809 L430.8,825.4 C410,826.5 385,828.5 355.8,829.9 Z" fill="#e47cba"/><rect x="355.8" y="805" width="75" height="26" fill="#000" filter="url(#fk)" opacity="0.3"/><rect x="355.8" y="805" width="75" height="26" fill="#000" filter="url(#fp)" opacity="0.25"/><rect x="355.8" y="805" width="75" height="26" fill="#000" filter="url(#fw)" opacity="0.35"/></g>
<clipPath id="cr8"><path d="M355.8,759.7 L430.8,759.7 L430.8,810.8 L355.8,816.4 Z"/></clipPath><g clip-path="url(#cr8)"><path d="M355.8,759.7 L430.8,759.7 L430.8,810.8 L355.8,816.4 Z" fill="#bc6cbc"/><rect x="355.8" y="759.7" width="75" height="57.3" fill="#000" filter="url(#vk)" opacity="0.5"/><rect x="355.8" y="759.7" width="75" height="57.3" fill="#000" filter="url(#vp)" opacity="0.45"/><rect x="355.8" y="759.7" width="75" height="57.3" fill="#000" filter="url(#fw)" opacity="0.35"/></g>
<clipPath id="cr9"><path d="M355.8,797 C380,799 400,795 430.8,794 L430.8,810.8 L355.8,816.4 Z"/></clipPath><g clip-path="url(#cr9)"><path d="M355.8,797 C380,799 400,795 430.8,794 L430.8,810.8 L355.8,816.4 Z" fill="#9c5cb2"/><rect x="355.8" y="790" width="75" height="27" fill="#000" filter="url(#vk)" opacity="0.35"/><rect x="355.8" y="790" width="75" height="27" fill="#000" filter="url(#fp)" opacity="0.6"/><rect x="355.8" y="790" width="75" height="27" fill="#000" filter="url(#vw)" opacity="0.5"/></g>
<path d="M358.2,758 L360.8,787.5 L372,776.7" fill="none" stroke="#e690c8" stroke-width="3.6" stroke-linejoin="round" opacity="0.8"/>
<path d="M358.2,758 L360.8,787.5 L372,776.7" fill="none" stroke="#f8f2f8" stroke-width="2" stroke-linejoin="round" opacity="0.8"/>
<path d="M372.8,758 L375,793" fill="none" stroke="#e690c8" stroke-width="3.6" stroke-linejoin="round" opacity="0.8"/>
<path d="M372.8,758 L375,793" fill="none" stroke="#f8f2f8" stroke-width="2" stroke-linejoin="round" opacity="0.8"/>
<path d="M383,758 L389,793" fill="none" stroke="#e690c8" stroke-width="3.6" stroke-linejoin="round" opacity="0.8"/>
<path d="M383,758 L389,793" fill="none" stroke="#f8f2f8" stroke-width="2" stroke-linejoin="round" opacity="0.8"/>
<path d="M395.2,758 L400,775 L404.6,790.7" fill="none" stroke="#e690c8" stroke-width="4" stroke-linejoin="round" opacity="0.8"/>
<path d="M395.2,758 L400,775 L404.6,790.7" fill="none" stroke="#f8f2f8" stroke-width="2.4" stroke-linejoin="round" opacity="0.8"/>
<path d="M410.7,758 L409.5,787.2" fill="none" stroke="#e690c8" stroke-width="3.6" stroke-linejoin="round" opacity="0.8"/>
<path d="M410.7,758 L409.5,787.2" fill="none" stroke="#f8f2f8" stroke-width="2" stroke-linejoin="round" opacity="0.8"/>
<path d="M421.5,758 L422.5,780.5" fill="none" stroke="#e690c8" stroke-width="3.6" stroke-linejoin="round" opacity="0.8"/>
<path d="M421.5,758 L422.5,780.5" fill="none" stroke="#f8f2f8" stroke-width="2" stroke-linejoin="round" opacity="0.8"/>
<path d="M423,759.7 L430.8,759.7 L430.8,776 L428,772 L424,765 Z" fill="#f6eef6" opacity="0.9"/>
<rect x="436" y="759.7" width="75.2" height="89.3" fill="#ececec" />
<clipPath id="cr10"><path d="M436.0,809 L511.2,809 L511.2,832.7 C490,831 465,829 436.0,827.7 Z"/></clipPath><g clip-path="url(#cr10)"><path d="M436.0,809 L511.2,809 L511.2,832.7 C490,831 465,829 436.0,827.7 Z" fill="#e582bd"/><rect x="436" y="805" width="75.2" height="28" fill="#000" filter="url(#fk)" opacity="0.3"/><rect x="436" y="805" width="75.2" height="28" fill="#000" filter="url(#fp)" opacity="0.25"/><rect x="436" y="805" width="75.2" height="28" fill="#000" filter="url(#fw)" opacity="0.4"/></g>
<clipPath id="cr11"><path d="M436.0,759.7 L511.2,759.7 L511.2,809.7 L436.0,809.7 Z"/></clipPath><g clip-path="url(#cr11)"><path d="M436.0,759.7 L511.2,759.7 L511.2,809.7 L436.0,809.7 Z" fill="#ac78c6"/><rect x="436" y="759.7" width="75.2" height="50.3" fill="#000" filter="url(#vk)" opacity="0.45"/><rect x="436" y="759.7" width="75.2" height="50.3" fill="#000" filter="url(#vp)" opacity="0.4"/><rect x="436" y="759.7" width="75.2" height="50.3" fill="#000" filter="url(#vw)" opacity="0.7"/><rect x="436" y="759.7" width="75.2" height="50.3" fill="#000" filter="url(#fw)" opacity="0.4"/></g>
<path d="M443.7,759.7 L447.7,759.7 L446.3,767 Z" fill="#f6f0f6" opacity="0.95"/>
<path d="M457.6,759.7 L460.8,759.7 L459.8,765 Z" fill="#f6f0f6" opacity="0.95"/>
<path d="M469.9,759.7 L474.3,759.7 L472.7,772 Z" fill="#f6f0f6" opacity="0.95"/>
<path d="M478.7,759.7 L482.3,759.7 L481.1,770 Z" fill="#f6f0f6" opacity="0.95"/>
<path d="M491.2,759.7 L495.6,759.7 L494,774 Z" fill="#f6f0f6" opacity="0.95"/>
<path d="M498.4,759.7 L502,759.7 L500.8,768 Z" fill="#f6f0f6" opacity="0.95"/>
<rect x="529.2" y="759.7" width="75.4" height="89.3" fill="#f1f0f1" />
<clipPath id="cr12"><path d="M529.2,806 L604.6,804 L604.6,839 C590,838 570,838 529.2,838 Z"/></clipPath><g clip-path="url(#cr12)"><path d="M529.2,806 L604.6,804 L604.6,839 C590,838 570,838 529.2,838 Z" fill="#f2c0da"/><rect x="529.2" y="804" width="75.4" height="36" fill="#000" filter="url(#fk)" opacity="0.4"/><rect x="529.2" y="804" width="75.4" height="36" fill="#000" filter="url(#nw)" opacity="0.9"/><rect x="529.2" y="804" width="75.4" height="36" fill="#000" filter="url(#fw)" opacity="0.6"/></g>
<path d="M529.2,806 L604.6,804 L604.6,816.5 L529.2,817.5 Z" fill="#e9a6cc" opacity="0.75"/>
<path d="M548,845 C560,841 575,841 590,844 L590,845.5 L548,845.5 Z" fill="#dcc4e2" opacity="0.5"/>
<rect x="529.2" y="838.5" width="75.4" height="1.2" fill="#e7b8d3" opacity="0.6"/>
<clipPath id="cr13"><path d="M529.2,775.5 L537.9,776 L548,781.6 L555,778.3 L568,782.2 L571,780.5 L590,783.3 L595,787.7 L600,785 L604.6,786.6 L604.6,804 C590,806 560,808 529.2,810 Z"/></clipPath><g clip-path="url(#cr13)"><path d="M529.2,775.5 L537.9,776 L548,781.6 L555,778.3 L568,782.2 L571,780.5 L590,783.3 L595,787.7 L600,785 L604.6,786.6 L604.6,804 C590,806 560,808 529.2,810 Z" fill="#c690d4"/><rect x="529.2" y="775" width="75.4" height="36" fill="#000" filter="url(#fk)" opacity="0.3"/><rect x="529.2" y="775" width="75.4" height="36" fill="#000" filter="url(#fp)" opacity="0.25"/><rect x="529.2" y="775" width="75.4" height="36" fill="#000" filter="url(#fw)" opacity="0.7"/><rect x="529.2" y="775" width="75.4" height="36" fill="#000" filter="url(#nw)" opacity="0.6"/></g>
<path d="M529.2,775.5 L537.9,776 L548,781.6 L555,778.3 L568,782.2 L571,780.5 L590,783.3 L595,787.7 L600,785 L604.6,786.6" fill="none" stroke="#e27cb6" stroke-width="1.6"/>
<path d="M529.2,810 C560,808 590,806 604.6,804 L604.6,800 C590,801 560,803 529.2,805 Z" fill="#c490d0" opacity="0.5"/>
<clipPath id="cr14"><path d="M529.2,759.7 L604.6,759.7 L604.6,769 L584.5,771 L571.2,773 L557.9,771 L548.4,774.5 L537.9,770.5 L529.2,770 Z"/></clipPath><g clip-path="url(#cr14)"><path d="M529.2,759.7 L604.6,759.7 L604.6,769 L584.5,771 L571.2,773 L557.9,771 L548.4,774.5 L537.9,770.5 L529.2,770 Z" fill="#c88ad0"/><rect x="529.2" y="759.7" width="75.4" height="15.3" fill="#000" filter="url(#fk)" opacity="0.3"/><rect x="529.2" y="759.7" width="75.4" height="15.3" fill="#000" filter="url(#fp)" opacity="0.25"/><rect x="529.2" y="759.7" width="75.4" height="15.3" fill="#000" filter="url(#fw)" opacity="0.6"/><rect x="529.2" y="759.7" width="75.4" height="15.3" fill="#000" filter="url(#nw)" opacity="0.5"/></g>
<path d="M529.2,770 L537.9,770.5 L548.4,774.5 L557.9,771 L571.2,773 L584.5,771 L604.6,769" fill="none" stroke="#e27cb6" stroke-width="1.5"/>
<rect x="609.4" y="759.7" width="76.6" height="89.3" fill="#efefef" />
<clipPath id="cr15"><path d="M609.4,833.3 L686,820.4 L686,826.3 L609.4,839.1 Z"/></clipPath><g clip-path="url(#cr15)"><path d="M609.4,833.3 L686,820.4 L686,826.3 L609.4,839.1 Z" fill="#e596c4"/><rect x="609.4" y="819" width="76.6" height="21" fill="#000" filter="url(#fw)" opacity="0.4"/></g>
<clipPath id="cr16"><path d="M609.4,826.5 L686,810.5 L686,816 L609.4,830.5 Z"/></clipPath><g clip-path="url(#cr16)"><path d="M609.4,826.5 L686,810.5 L686,816 L609.4,830.5 Z" fill="#f0c4dc"/><rect x="609.4" y="809" width="76.6" height="22" fill="#000" filter="url(#fw)" opacity="0.5"/></g>
<clipPath id="cr17"><path d="M609.4,804 L620,806 L634.2,797 L651.7,788.9 L663.4,784.2 L686,783 L686,811 C660,817 640,824 609.4,827.4 Z"/></clipPath><g clip-path="url(#cr17)"><path d="M609.4,804 L620,806 L634.2,797 L651.7,788.9 L663.4,784.2 L686,783 L686,811 C660,817 640,824 609.4,827.4 Z" fill="#c088d0"/><rect x="609.4" y="782" width="76.6" height="46" fill="#000" filter="url(#fk)" opacity="0.3"/><rect x="609.4" y="782" width="76.6" height="46" fill="#000" filter="url(#fp)" opacity="0.3"/><rect x="609.4" y="782" width="76.6" height="46" fill="#000" filter="url(#fw)" opacity="0.7"/><rect x="609.4" y="782" width="76.6" height="46" fill="#000" filter="url(#nw)" opacity="0.6"/></g>
<path d="M609.4,804 L620,806 L634.2,797 L651.7,788.9 L663.4,784.2 L686,783" fill="none" stroke="#e07ab6" stroke-width="1.5"/>
<path d="M609.4,827.4 C640,824 660,817 686,811" fill="none" stroke="#e07ab6" stroke-width="1.5"/>
<clipPath id="cr18"><path d="M609.4,759.7 L668.7,759.7 L668.1,765.5 L663.4,775.4 L654.1,783.6 L640,792.4 L622.5,800.6 L609.4,801.7 Z"/></clipPath><g clip-path="url(#cr18)"><path d="M609.4,759.7 L668.7,759.7 L668.1,765.5 L663.4,775.4 L654.1,783.6 L640,792.4 L622.5,800.6 L609.4,801.7 Z" fill="#c490d4"/><rect x="609.4" y="759.7" width="60.6" height="42.3" fill="#000" filter="url(#fk)" opacity="0.3"/><rect x="609.4" y="759.7" width="60.6" height="42.3" fill="#000" filter="url(#fp)" opacity="0.25"/><rect x="609.4" y="759.7" width="60.6" height="42.3" fill="#000" filter="url(#fw)" opacity="0.7"/><rect x="609.4" y="759.7" width="60.6" height="42.3" fill="#000" filter="url(#nw)" opacity="0.65"/></g>
<path d="M668.7,759.7 L668.1,765.5 L663.4,775.4 L654.1,783.6 L640,792.4 L622.5,800.6 L609.4,801.7" fill="none" stroke="#e07ab6" stroke-width="1.5"/>
<rect x="67.2" y="840.45" width="11.6" height="2.7" fill="#000"/>
<rect x="146.6" y="841.25" width="11.6" height="2.7" fill="#000"/>
<rect x="241" y="840.45" width="11.8" height="2.7" fill="#000"/>
<rect x="319" y="840.45" width="11.3" height="2.7" fill="#000"/>
<rect x="413.8" y="841.45" width="11.3" height="2.7" fill="#000"/>
<rect x="495.3" y="841.45" width="11.3" height="2.7" fill="#000"/>
<rect x="587" y="841.85" width="11.8" height="2.7" fill="#000"/>
<rect x="667.5" y="840.65" width="11.7" height="2.7" fill="#000"/>
<text x="-1.1" y="742.8" text-anchor="start" style="font-size:18px;font-weight:bold" fill="#111">n</text>
<text x="54.1" y="745" text-anchor="middle" style="font-size:10.9px" fill="#111" textLength="36.4" lengthAdjust="spacing">Control</text>
<text x="126.7" y="745" text-anchor="middle" style="font-size:10.8px;font-weight:normal" fill="#111">PV2</text>
<text x="173.7" y="742.8" text-anchor="start" style="font-size:18px;font-weight:bold" fill="#111">o</text>
<text x="225.7" y="745" text-anchor="middle" style="font-size:10.9px" fill="#111" textLength="36.4" lengthAdjust="spacing">Control</text>
<text x="298.3" y="745" text-anchor="middle" style="font-size:10.8px;font-weight:normal" fill="#111">PV2</text>
<text x="343.7" y="742.8" text-anchor="start" style="font-size:18px;font-weight:bold" fill="#111">p</text>
<text x="398.1" y="745" text-anchor="middle" style="font-size:10.9px" fill="#111" textLength="36.4" lengthAdjust="spacing">Control</text>
<text x="470.5" y="745" text-anchor="middle" style="font-size:10.8px;font-weight:normal" fill="#111">PV2</text>
<text x="518.8" y="742.8" text-anchor="start" style="font-size:18px;font-weight:bold" fill="#111">q</text>
<text x="569.2" y="745" text-anchor="middle" style="font-size:10.9px" fill="#111" textLength="36.4" lengthAdjust="spacing">Control</text>
<text x="642" y="745" text-anchor="middle" style="font-size:10.8px;font-weight:normal" fill="#111">PV2</text>
</svg>
</body></html>
